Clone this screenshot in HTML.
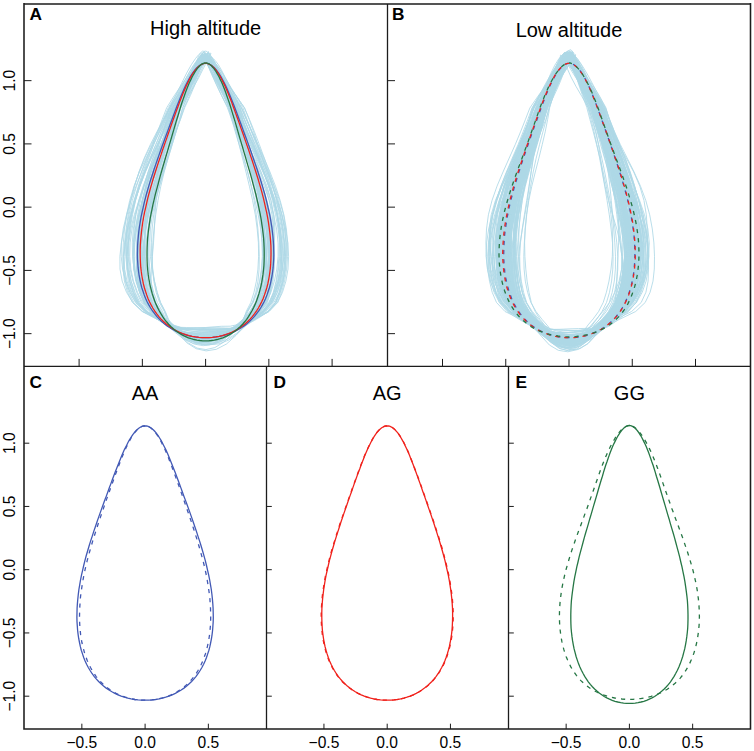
<!DOCTYPE html>
<html><head><meta charset="utf-8"><title>Outline shapes</title>
<style>html,body{margin:0;padding:0;background:#fff;width:754px;height:751px;overflow:hidden}svg{display:block}text{font-family:"Liberation Sans",sans-serif}</style>
</head><body>
<svg width="754" height="751" viewBox="0 0 754 751">
<rect width="754" height="751" fill="#fff"/>
<g fill="none" stroke="#add8e6" stroke-width="0.85" stroke-linejoin="round">
<path d="M202.6 53.9l-0.1 0.8-1.2 2.3-2.3 4.1-3.3 5.9-4.1 8-4.8 9.7-5.3 11.1-5.6 11.9-3.7 12-4.1 12.2-4.8 12.8-5.2 13.4-5.2 13.9-4.8 14.2-3.8 14.3-2.5 14.3-1.5 14.2-0.5 13.9 0.2 13.4 0.6 12.8 1.2 12 2 11.2 3.3 10.2 6.2 9 8.2 7.5 8.5 6 8.6 4.7 8.8 3.6 9.2 2.5 9.2 1.1 9.1-0.3 9.1-1.9 8.9-3.3 8.7-5.1 9-6.8 8.9-8 7-9 4-10.2 2.5-11.2 1.2-12 0.1-12.8-0.8-13.4-1.8-13.9-2.6-14.2-3.5-14.3-4.3-14.3-4.6-14.2-4.7-13.9-4.3-13.4-4-12.8-3.6-12.2-3.6-12-6.1-11.9-6.3-11.1-6-9.7-5.4-8-4.6-5.9-3.3-4.1-1.8-2.3-0.4-0.8z"/>
<path d="M202.6 57.8l-1.8 0.8-2.2 2.3-2.5 3.9-3.1 5.6-3.7 7.4-4.3 8.9-4.8 10.3-4.9 11.1-2.7 11.7-2.7 12.1-3.2 12.8-4 13.4-4.8 13.9-5.2 14.2-5.1 14.3-4.1 14.3-2.5 14.2-0.6 13.9 1.1 13.4 2.2 12.8 2.8 12 2.8 11.2 3 10.2 4.5 9 5.1 7.9 6.1 6.1 7.5 2.5 9.1 0.7 10.1 0.7 10.4 0.8 10.1 0.7 9.4 0.3 8.5-0.6 7.7-3.5 7.2-7.2 6.9-8.4 6.1-9 3.7-10.2 2.3-11.2 1-12 0.2-12.8-0.3-13.4-0.6-13.9-1-14.2-1.5-14.3-2.7-14.3-3.9-14.2-5.2-13.9-6.1-13.4-6-12.8-5.4-12.1-4.2-11.7-5.2-11.1-4.1-10.3-3.5-8.9-3.4-7.4-3.5-5.6-3.7-3.9-3.2-2.3-2.1-0.8z"/>
<path d="M208.7 52.6l-0.4 0.7-1.8 2.4-2.8 4.1-3.7 6.1-4.5 8.1-5 10-5.4 11.4-5.7 12.1-3.5 12.2-3.5 12.2-3.6 12.8-3.9 13.4-4.3 13.9-4.6 14.2-4.8 14.3-4.3 14.3-3.4 14.2-2.1 13.9-0.3 13.4 1.4 12.8 2.7 12 3.7 11.2 4.4 10.2 5.8 9 5.3 8.3 5.8 6.9 7.1 3.8 8.3 1.6 9.4 0.7 10 0.1 9.8-0.4 9.3-0.9 8.2-1.8 7.1-3.8 6-6.5 5.6-8 6.2-9 4.6-10.2 3.7-11.2 2.5-12 0.9-12.8-0.7-13.4-2-13.9-2.9-14.2-3.2-14.3-3.1-14.3-3-14.2-2.8-13.9-3.2-13.4-3.6-12.8-4.1-12.2-4.7-12.2-6.7-12.1-6.3-11.4-5-10-3.8-8.1-2.6-6.1-1.6-4.1-0.8-2.4-0.1-0.7z"/>
<path d="M206.4 56.6l-0.8 0.7-1.5 2.4-2.4 3.9-3.6 5.7-4.8 7.6-6.1 9.2-7.2 10.5-7.5 11.4-4.8 11.7-4.5 12.2-4.4 12.8-4.6 13.4-4.9 13.9-5.3 14.2-5.1 14.3-4.6 14.3-3.5 14.2-1.9 13.9-0.2 13.4 1.4 12.8 2.8 12 3.8 11.2 4.7 10.2 7.6 9 11 8.1 10 6.7 8.4 5.1 8.6 3.6 9.1 2.1 9.2 0.7 8.9-0.7 8.7-2.2 8.4-3.8 8.9-5.3 10.9-6.5 12.3-7.8 8.8-9 5.1-10.2 3.2-11.2 1.3-12-0.3-12.8-1.4-13.4-2-13.9-2.5-14.2-3.1-14.3-3.7-14.3-4.5-14.2-5.2-13.9-5.7-13.4-5.7-12.8-5.1-12.2-4.4-11.7-6.1-11.4-5.3-10.5-4.6-9.2-4.3-7.6-4.1-5.7-3.5-3.9-2.6-2.4-1.3-0.7z"/>
<path d="M205 56.8l-0.1 0.8-1.4 2.3-2.7 3.9-3.9 5.7-5 7.5-5.9 9.2-6.9 10.5-7.4 11.3-5 11.7-5.3 12.2-5.5 12.8-5.6 13.4-5.5 13.9-5.1 14.2-4.3 14.3-3.5 14.3-2.6 14.2-1.6 13.9-0.5 13.4 0.6 12.8 1.7 12 3.2 11.2 4.6 10.2 8.3 9 12.7 7.6 11.3 6.4 8.8 4.2 8.5 2.4 9.1 1.5 9.3 0.6 9.6-0.4 9.5-1.3 9.2-2.2 9.4-4.1 11.6-6.7 12.8-8 8-9 4.2-10.2 2.8-11.2 1.6-12 0.6-12.8-0.4-13.4-1.4-13.9-2.3-14.2-3.4-14.3-4.3-14.3-5-14.2-5.4-13.9-5.4-13.4-5.4-12.8-5.2-12.2-5.1-11.7-7.6-11.3-7.3-10.5-6.4-9.2-5.6-7.5-4.4-5.7-3.1-3.9-1.7-2.3-0.2-0.8z"/>
<path d="M200.9 56.4l-0.8 0.8-1.7 2.3-2.4 4-2.9 5.7-3.5 7.6-4.2 9.2-4.9 10.6-5.8 11.3-4.1 11.8-4.7 12.2-5.3 12.8-5.4 13.4-5.1 13.9-4.5 14.2-3.5 14.3-2.7 14.3-1.7 14.2-1.1 13.9-0.3 13.4 0.4 12.8 1.4 12 2.5 11.2 4 10.2 6.7 9 8.3 7.7 8.5 6.4 8.6 5.2 8.8 4 9 2.5 8.8 0.8 8.6-0.8 8.3-2.5 7.9-4.1 7.6-5.3 7.8-6.4 7.9-7.5 7-9 4.7-10.2 3.6-11.2 2.4-12 1.1-12.8-0.2-13.4-1.5-13.9-2.7-14.2-3.6-14.3-4.3-14.3-4.7-14.2-4.7-13.9-4.6-13.4-4.3-12.8-4-12.2-3.9-11.8-6-11.3-5.8-10.6-5.1-9.2-4.5-7.6-3.7-5.7-2.9-4-2-2.3-0.8-0.8z"/>
<path d="M205.6 54.2l-1 0.7-1.8 2.4-2.5 4-3.1 5.9-3.7 7.9-4.4 9.8-5 11-5.6 11.8-4 12-4.2 12.2-4.3 12.8-4.3 13.4-4.2 13.9-3.7 14.2-3.3 14.3-2.8 14.3-2.2 14.2-1.5 13.9-0.7 13.4 0.3 12.8 1.5 12 2.8 11.2 4.2 10.2 6.4 9 6.4 7.8 7.1 6.8 8 8.6 8.4 8.3 8.7 5.1 8.8 1.5 8.9-2 8.9-5.4 8.7-8.4 8.2-8.3 7.2-6.4 6.3-7.6 6.2-9 3.7-10.2 2.1-11.2 0.9-12-0.2-12.8-0.9-13.4-1.6-13.9-2-14.2-2.5-14.3-3.1-14.3-3.7-14.2-4.3-13.9-4.7-13.4-4.8-12.8-4.7-12.2-4.3-12-5.8-11.8-5-11-4-9.8-3.1-7.9-2.5-5.9-2-4-1.5-2.4-0.7-0.7z"/>
<path d="M204.9 54.1l-1.5 0.8-2.6 2.3-3.3 4.1-3.7 5.9-4 7.9-4.6 9.7-5.3 11.1-6.4 11.8-4.5 12-5.4 12.2-6 12.8-6.2 13.4-6 13.9-5.4 14.2-4.8 14.3-4.1 14.3-3.4 14.2-2.4 13.9-1.4 13.4 0.2 12.8 1.9 12 3.9 11.2 5.6 10.2 9.2 9 13 8.1 11.3 7 8.6 5.8 8.2 4.1 8.7 2.1 9.1 0.4 9.6-1.4 9.5-2.9 9.1-4.1 9-5.2 10.6-6.3 11.4-7.6 7.1-9 3.9-10.2 2.8-11.2 2-12 1.2-12.8 0.2-13.4-0.7-13.9-2-14.2-3-14.3-4.1-14.3-4.7-14.2-5.2-13.9-5.4-13.4-5.5-12.8-5.4-12.2-5.2-12-7.5-11.8-6.7-11.1-5.6-9.7-4.5-7.9-3.5-5.9-2.8-4.1-2-2.3-1.3-0.8z"/>
<path d="M204.9 54.6l-2 0.7-3.2 2.4-3.8 4-4.1 5.9-4.3 7.8-4.9 9.7-6 10.9-7.1 11.7-5.4 12-6.2 12.2-6.7 12.8-6.5 13.4-5.7 13.9-4.6 14.2-3.5 14.3-2.7 14.3-2.1 14.2-1.6 13.9-1.2 13.4-0.2 12.8 1.3 12 3.1 11.2 5.1 10.2 9.3 8.9 14.5 7.5 12.5 6.3 8.9 5.2 8.2 3.8 8.6 2.2 9 0.7 9.5-0.9 9.5-2.3 9.3-3.4 9.6-4.7 12.4-6.4 13.8-7.9 8.3-9 4.4-10.2 3.2-11.2 2-12 0.8-12.8-0.2-13.4-1.6-13.9-2.9-14.2-4.1-14.3-5-14.3-5.6-14.2-5.8-13.9-5.8-13.4-5.5-12.8-5.3-12.2-5-12-7.4-11.7-6.6-10.9-5.5-9.7-4.5-7.8-3.6-5.9-3-4-2.4-2.4-1.7-0.7z"/>
<path d="M207.4 54.5l-1.2 0.7-2.3 2.3-3.2 4.1-3.7 5.9-4 7.8-4.2 9.7-4.7 11-5.1 11.7-3.2 12-3.6 12.2-4.2 12.8-4.5 13.4-4.9 13.9-4.7 14.2-4.4 14.3-3.5 14.3-2.6 14.2-1.3 13.9-0.1 13.4 1.1 12.8 2.2 12 3 11.2 3.8 10.2 5.7 9 6.2 8 6.9 6.6 8 4.5 9.2 2.8 10 1.7 10.2 0.7 9.8-0.4 8.9-1.5 7.7-2.9 6.6-4.8 5.9-6.8 5.8-7.9 6.1-9 4.7-10.2 3.9-11.2 2.9-12 1.4-12.8-0.3-13.4-1.8-13.9-3-14.2-3.6-14.3-3.8-14.3-3.8-14.2-3.7-13.9-3.8-13.4-4-12.8-4.4-12.2-4.6-12-6.6-11.7-6.1-11-4.9-9.7-3.8-7.8-2.6-5.9-1.9-4.1-1.2-2.3-0.7-0.7z"/>
<path d="M206.2 55.8l-0.1 0.8-1.4 2.3-2.7 4-3.7 5.8-4.7 7.6-5.5 9.4-6.1 10.7-6.7 11.5-4.7 11.8-5 12.2-5.3 12.8-5.3 13.4-5 13.9-4.3 14.2-3.3 14.3-2.1 14.3-1.2 14.2-0.5 13.9 0.2 13.4 0.7 12.8 1.3 12 2.3 11.2 3.6 10.2 6.4 9 8.4 7.5 8.5 6 8.3 5.6 8.5 4.9 8.8 3.2 9.1 1.3 9.1-0.7 9.1-2.8 8.9-4.7 8.8-5.9 9.1-6.5 9-7.9 7-9 4-10.2 2.5-11.2 1.3-12 0.2-12.8-0.6-13.4-1.5-13.9-2.3-14.2-3.2-14.3-3.8-14.3-4.5-14.2-4.7-13.9-4.7-13.4-4.5-12.8-4.3-12.2-4.1-11.8-6.3-11.5-6-10.7-5.3-9.4-4.5-7.6-3.5-5.8-2.4-4-1.2-2.3-0.1-0.8z"/>
<path d="M207.5 53.3l-1.1 0.7-2.5 2.4-3.4 4-3.9 6-4.3 8.1-4.8 9.9-5.7 11.2-6.6 12-5 12.1-5.9 12.2-6.7 12.8-6.7 13.4-6.2 13.9-5.1 14.2-4 14.3-3.1 14.3-2.3 14.2-1.9 13.9-1.2 13.4-0.2 12.8 1.4 12 3.4 11.2 5.5 10.2 9.4 9 13.9 7.7 11.8 6.7 8.7 6.2 7.9 4.9 8.3 2.8 9 0.7 9.6-1.4 10-3.3 9.7-4.8 9.7-5.5 11.4-6.3 12-7.7 7-9 3.4-10.2 2.6-11.2 2.1-12 1.7-12.8 0.8-13.4-0.5-13.9-2.2-14.2-3.9-14.3-5.3-14.3-6-14.2-6.1-13.9-5.6-13.4-4.9-12.8-4.5-12.2-4.3-12.1-7-12-6.8-11.2-6.1-9.9-5.3-8.1-4.2-6-3-4-2-2.4-1-0.7z"/>
<path d="M202.7 51.1l-1.2 0.8-2.5 2.4-3.4 4.1-4.2 6.2-4.7 8.4-5.1 10.3-5.7 11.7-6.3 12.3-4.1 12.3-4.6 12.3-5.2 12.8-5.6 13.4-5.8 13.9-5.5 14.2-4.9 14.3-3.9 14.3-2.6 14.2-1.1 13.9 0.3 13.4 1.6 12.8 2.9 12 4 11.2 4.8 10.2 7.6 9 10.9 7.9 9.5 6.5 7.7 6.9 8 6.3 8.9 4 9.7 1.4 10-1.2 9.9-3.7 9.2-6.1 8.9-7 10.5-6.7 11.5-8.3 7.6-9 4.5-10.2 3.3-11.2 2.2-12 1.1-12.8 0-13.4-1.3-13.9-2.6-14.2-3.6-14.3-4.6-14.3-5.4-14.2-5.8-13.9-6.2-13.4-6.2-12.8-6-12.3-5.5-12.3-7.6-12.3-6.5-11.7-5.3-10.3-4-8.4-3.1-6.2-2.2-4.1-1.5-2.4-0.8-0.8z"/>
<path d="M205.4 56.2l-1.3 0.7-2.4 2.4-3.1 3.9-3.5 5.8-3.9 7.6-4.4 9.3-5 10.6-5.6 11.4-4 11.8-4.6 12.2-4.9 12.8-5.1 13.4-4.9 13.9-4.3 14.2-3.7 14.3-3 14.3-2.2 14.2-1.5 13.9-0.7 13.4 0.4 12.8 1.5 12 2.8 11.2 4.2 10.2 6.8 9 8.1 7.7 8.1 6.5 7.9 3 8.3 0.6 8.7 0.3 9.1 0 9.3-0.2 9.2-0.4 8.8-0.6 8.2-2.8 7.9-6.3 7.6-7.8 6.2-9 3.6-10.2 2.6-11.2 1.8-12 1-12.8 0.4-13.4-0.5-13.9-1.4-14.2-2.4-14.3-3.4-14.3-4.3-14.2-4.9-13.9-5.3-13.4-5.2-12.8-5.1-12.2-4.5-11.8-6.3-11.4-5.4-10.6-4.3-9.3-3.5-7.6-2.8-5.8-2.2-3.9-1.8-2.4-1.1-0.7z"/>
<path d="M206.5 54.5l0.9 0.7-0.4 2.4-2.4 4-4.3 5.9-5.8 7.9-6.4 9.6-6.2 11-5.6 11.7-2.6 12-2.8 12.2-3.7 12.8-4.9 13.4-5.7 13.9-5.8 14.2-4.8 14.3-3.1 14.3-1.3 14.2 0 13.9 0.6 13.4 0.7 12.8 0.9 12 1.5 11.2 3 10.2 6.4 9 8.9 7.6 9.6 5.9 9.5 3 9.1 1.3 8.3 1.3 7.7 0.7 7.5 0 7.9-0.9 8.7-1.7 9.4-3.6 9.9-6.3 9.3-7.3 6.9-9 3-10.2 1.2-11.2 0.3-12 0.3-12.8 0.6-13.4 0.6-13.9-0.3-14.2-2-14.3-4.1-14.3-5.9-14.2-6.8-13.9-6.4-13.4-5-12.8-3.4-12.2-2.2-12-4.3-11.7-4.8-11-5.5-9.6-5.8-7.9-5.3-5.9-3.9-4-1.7-2.4 0.5-0.7z"/>
<path d="M205.3 56.1l-1.1 0.8-1.8 2.3-2 4-2.4 5.7-2.9 7.6-3.7 9.4-4.9 10.6-6 11.4-4.6 11.8-4.9 12.2-4.7 12.8-4.2 13.4-3.6 13.9-3.1 14.2-2.8 14.3-2.5 14.3-2.3 14.2-1.8 13.9-0.8 13.4 0.5 12.8 1.9 12 3.2 11.2 4.3 10.2 5.9 9 4.7 7.8 5.3 6.7 6.8 6.9 7.9 5.8 9 3.4 9.7 1 10.1-1.4 9.9-3.5 9.1-5.7 7.7-6.4 5.7-6.5 4.5-8.1 5.1-9 3.4-10.2 2.7-11.2 1.7-12 0.6-12.8-0.5-13.4-1.5-13.9-2.3-14.2-2.8-14.3-3.1-14.3-3.3-14.2-3.4-13.9-3.8-13.4-4.2-12.8-4.4-12.2-4.4-11.8-6-11.4-5.3-10.6-4.2-9.4-3.2-7.6-2.4-5.7-2.1-4-1.6-2.3-1.1-0.8z"/>
<path d="M208.2 51.4l-0.1 0.8-1.1 2.3-2.3 4.2-3.5 6.1-4.5 8.4-5.2 10.2-5.4 11.7-5.3 12.3-3.1 12.2-3.1 12.3-3.4 12.8-4.1 13.4-4.6 13.9-4.6 14.2-4.3 14.3-3.2 14.3-2 14.2-0.7 13.9 0.4 13.4 1.1 12.8 1.6 12 2.1 11.2 3 10.2 4.9 9 4.3 7.9 6 6.3 8 6.9 8.9 6.5 9.2 4.3 9 1.7 8.8-1.2 8.5-4 8.3-6.7 7.7-7.5 6.3-6.5 5.1-7.7 5.9-9 3.7-10.2 2.3-11.2 1.2-12 0.3-12.8-0.3-13.4-0.8-13.9-1.5-14.2-2.4-14.3-3.3-14.3-4-14.2-4.5-13.9-4.4-13.4-3.9-12.8-3.3-12.3-2.7-12.2-4.4-12.3-4.4-11.7-4.1-10.2-4.1-8.4-3.5-6.1-2.7-4.2-1.6-2.3-0.2-0.8z"/>
<path d="M202.9 55.2l-0.6 0.7-1.6 2.3-2.3 4-2.7 5.9-3.3 7.7-3.9 9.6-4.8 10.8-5.6 11.6-3.9 11.9-4.4 12.2-4.6 12.8-4.8 13.4-4.6 13.9-4.3 14.2-4 14.3-3.4 14.3-2.8 14.2-1.9 13.9-0.8 13.4 0.5 12.8 1.9 12 3.3 11.2 4.6 10.2 6.6 9 6.9 8 7.2 7 7.7 2.9 8.4 0.1 9.1-0.2 9.6-0.3 9.8-0.2 9.5 0 8.8-0.2 7.9-2.6 7-6.5 6.4-8 5.9-9 3.8-10.2 3-11.2 1.9-12 0.9-12.8-0.3-13.4-1.5-13.9-2.5-14.2-3.3-14.3-3.9-14.3-4.1-14.2-4.4-13.9-4.4-13.4-4.6-12.8-4.5-12.2-4.6-11.9-6.5-11.6-5.9-10.8-4.8-9.6-4-7.7-2.9-5.9-2.2-4-1.4-2.3-0.6-0.7z"/>
<path d="M205.3 53.6l-1.4 0.7-2.4 2.4-3 4-3.6 6-4.4 8-5.5 9.8-7 11.2-8.3 11.9-6.2 12.1-6.7 12.2-6.5 12.8-6.1 13.4-5.2 13.9-4.5 14.2-3.9 14.3-3.5 14.3-3.1 14.2-2.6 13.9-1.5 13.4 0.1 12.8 2.2 12 4.3 11.2 6.2 10.2 10.1 9 15.2 7.7 12.3 6.9 8.2 5.7 7.4 3.9 8 2.1 8.8 0.3 9.6-1.4 10-2.6 9.6-3.8 10-4.8 12.8-6.1 14.3-7.9 8.3-9 4.3-10.2 3-11.2 2-12 1-12.8 0-13.4-1.2-13.9-2.5-14.2-3.7-14.3-4.7-14.3-5.5-14.2-5.9-13.9-6.1-13.4-5.9-12.8-5.6-12.2-5.2-12.1-7.6-11.9-6.8-11.2-5.7-9.8-4.8-8-4-6-3.2-4-2.5-2.4-1.4-0.7z"/>
<path d="M205.7 55l-0.9 0.8-2.5 2.3-3.6 4-4.3 5.9-4.8 7.8-5.3 9.5-6.2 10.9-7.1 11.6-5.2 11.9-6.1 12.2-6.8 12.8-6.9 13.4-6.5 13.9-5.5 14.2-4.3 14.3-3.1 14.3-2.1 14.2-1.2 13.9-0.4 13.4 0.5 12.8 1.9 12 3.4 11.2 5.1 10.2 8.8 9 14.1 7.5 11.8 6.3 8.2 4.2 7.6 2.8 8.3 1.6 9 0.6 9.7-0.5 10-1.5 9.8-2.4 10.2-4 13-6.5 14.6-8.1 8.8-9 4.8-10.2 3.4-11.2 2.1-12 0.6-12.8-0.7-13.4-2.3-13.9-3.7-14.2-4.6-14.3-5.1-14.3-5.2-14.2-4.8-13.9-4.4-13.4-4.2-12.8-4.4-12.2-4.7-11.9-8-11.6-7.8-10.9-7-9.5-5.9-7.8-4.4-5.9-3.1-4-1.8-2.3-0.8-0.8z"/>
<path d="M207.5 54l-0.4 0.8-2.3 2.3-4.1 4-5.5 6-6.5 7.9-7.1 9.8-7.5 11.1-7.4 11.8-4.6 12-4.6 12.2-4.9 12.8-5.4 13.4-5.6 13.9-5.6 14.2-5.2 14.3-4.3 14.3-3.3 14.2-1.8 13.9-0.2 13.4 1.4 12.8 3 12 4.5 11.2 5.9 10.2 9.2 9 14.2 8 11.8 6.6 8.3 5.8 7.8 4.5 8.6 2.6 9.2 0.6 9.6-1.1 9.6-3 9.1-4.6 9.2-5.5 12-6.2 13.5-7.7 7.9-9 4.2-10.2 3-11.2 1.9-12 1-12.8-0.2-13.4-1.3-13.9-2.6-14.2-3.6-14.3-4.4-14.3-4.8-14.2-4.9-13.9-4.9-13.4-4.9-12.8-4.9-12.2-5.2-12-8.2-11.8-8-11.1-7-9.8-5.7-7.9-4.2-6-2.6-4-1.2-2.3 0-0.8z"/>
<path d="M202 55l-1 0.8-1.9 2.3-2.5 4-3 5.9-3.7 7.7-4.6 9.6-5.6 10.8-6.5 11.7-4.7 11.9-5.3 12.2-5.4 12.8-5.1 13.4-4.7 13.9-4.1 14.2-3.4 14.3-2.8 14.3-2.3 14.2-1.6 13.9-0.7 13.4 0.6 12.8 2.1 12 3.8 11.2 5.2 10.2 8 9 9.8 7.8 8.6 6.7 7.4 5.3 7.5 3.6 8.4 2 9.3 0.4 10.2-1.1 10.4-2.4 9.9-3.4 9-4.6 8.6-6.3 7.9-8 5.1-9 2.3-10.2 1.9-11.2 1.9-12 1.9-12.8 1.5-13.4 0.5-13.9-1-14.2-3.1-14.3-4.8-14.3-6.1-14.2-6.6-13.9-6.4-13.4-5.6-12.8-4.7-12.2-3.9-11.9-5.8-11.7-5.2-10.8-4.7-9.6-4.3-7.7-3.8-5.9-3.2-4-2.4-2.3-1.3-0.8z"/>
<path d="M207.1 55.7l-0.6 0.7-1.6 2.3-2.5 4-3.3 5.8-4.1 7.7-4.9 9.4-5.5 10.7-5.9 11.5-3.9 11.9-4.2 12.2-4.5 12.8-5.1 13.4-5.5 13.9-5.5 14.2-5 14.3-4.1 14.3-2.6 14.2-1.1 13.9 0.4 13.4 1.6 12.8 2.4 12 3.1 11.2 3.8 10.2 6 9.1 7.1 8.3 7.7 6.7 8.6 5.9 9.3 4.7 9.7 2.9 9.5 1.2 9-0.9 8.4-3 8-5.1 7.9-6.4 7.9-6.7 8.2-7.7 7.3-9 4.6-10.2 2.7-11.2 0.9-12-0.5-12.8-1.6-13.4-1.9-13.9-2.1-14.2-2.3-14.3-2.6-14.3-3.4-14.2-4.4-13.9-5.3-13.4-5.8-12.8-5.7-12.2-5.1-11.9-6.3-11.5-5.1-10.7-3.7-9.4-2.8-7.7-2.2-5.8-1.7-4-1.2-2.3-0.5-0.7z"/>
<path d="M204.6 55.2l0.1 0.7-1.5 2.3-2.9 4-3.9 5.9-4.8 7.7-5.4 9.6-5.9 10.8-6 11.6-3.9 11.9-3.9 12.2-4 12.8-4.2 13.4-4.1 13.9-4 14.2-3.7 14.3-3.2 14.3-2.6 14.2-1.8 13.9-0.9 13.4 0.4 12.8 1.7 12 3.2 11.2 4.7 10.2 7.2 9 8.3 7.7 8.1 6.7 7.7 4.9 7.8 3.2 8.2 1.8 8.6 0.4 8.9-0.9 9-2 9-3.1 8.8-4.5 8.8-6.3 8.7-7.9 7.2-9 4.6-10.2 3-11.2 1.7-12 0.4-12.8-0.8-13.4-1.9-13.9-2.8-14.2-3.5-14.3-4-14.3-4.2-14.2-4.4-13.9-4.5-13.4-4.7-12.8-4.8-12.2-5-11.9-7.2-11.6-6.8-10.8-5.6-9.6-4.4-7.7-2.9-5.9-1.7-4-0.5-2.3 0.3-0.7z"/>
<path d="M202.5 53l-0.2 0.8-1.5 2.3-2.6 4.1-3.6 6.1-4.3 8-4.8 10-5.1 11.3-5.1 12-2.9 12.1-3 12.2-3.5 12.8-3.9 13.4-4.4 13.9-4.5 14.2-4.1 14.3-3.4 14.3-2.4 14.2-1.3 13.9-0.2 13.4 0.7 12.8 1.6 12 2.5 11.2 3.6 10.2 5.5 9 5.5 7.8 6.4 6.4 7.6 5.8 8.3 4.7 8.8 3 8.9 1.1 9.1-0.8 9.1-2.8 9-4.6 8.6-5.8 7.4-6.7 6.6-8.1 6.3-9 3.9-10.2 2.4-11.2 1.2-12 0.3-12.8-0.4-13.4-1-13.9-1.6-14.2-2.5-14.3-3.4-14.3-4.2-14.2-5-13.9-5.2-13.4-5.2-12.8-4.8-12.2-4.3-12.1-5.8-12-5.2-11.3-4.4-10-3.5-8-2.8-6.1-2-4.1-1-2.3-0.2-0.8z"/>
<path d="M202.7 56.7l-0.5 0.7-1.4 2.3-2.5 4-3.5 5.7-4.8 7.5-5.9 9.2-7.1 10.5-7.7 11.4-5.3 11.7-5.2 12.2-5.1 12.8-5 13.4-4.8 13.9-4.7 14.2-4.5 14.3-4 14.3-3.4 14.2-2.3 13.9-1 13.4 0.6 12.8 2.4 12 4.1 11.2 5.7 10.2 9 9 12.6 8 10.8 6.8 8.3 7 7.8 5.7 8.3 3.3 8.6 0.8 9.1-1.6 9.2-3.8 9-5.9 9.2-6.4 11.4-6.2 12.4-7.7 8.2-9 4.5-10.2 3.1-11.2 1.7-12 0.7-12.8-0.3-13.4-1.3-13.9-2.3-14.2-3.2-14.3-4.3-14.3-5.1-14.2-5.7-13.9-5.8-13.4-5.8-12.8-5.4-12.2-4.9-11.7-7.1-11.4-6.5-10.5-5.7-9.2-4.8-7.5-4.1-5.7-3.1-4-2-2.3-0.6-0.7z"/>
<path d="M209.4 56.2l-1.2 0.8-2.6 2.3-3.3 3.9-3.8 5.8-3.8 7.6-4 9.3-4.6 10.6-5.3 11.4-4 11.8-4.9 12.2-5.5 12.8-5.5 13.4-5.1 13.9-4.1 14.2-3.1 14.3-2.3 14.3-1.5 14.2-1 13.9-0.4 13.4 0.3 12.8 1.4 12 2.6 11.2 4.1 10.2 6.3 9 6.6 7.7 6.9 6.4 7.3 6.4 8 5.6 8.5 3.4 9.1 1 9.6-1.3 9.7-3.4 9.2-5.3 8.3-6.2 7.2-6.4 6.2-7.9 5.8-9 3.6-10.2 2.8-11.2 2-12 1.1-12.8 0-13.4-1.2-13.9-2.4-14.2-3.4-14.3-4-14.3-4.2-14.2-4.2-13.9-4.2-13.4-4.1-12.8-4.2-12.2-4.2-11.8-6.3-11.4-5.7-10.6-4.5-9.3-3.2-7.6-2.2-5.8-1.3-3.9-0.8-2.3-0.5-0.8z"/>
<path d="M206.3 54.5l-0.7 0.8-2.1 2.3-3.1 4-3.9 6-4.5 7.8-4.9 9.6-5.2 11-5.4 11.7-3.2 12-3.2 12.2-3.4 12.8-3.6 13.4-3.7 13.9-3.8 14.2-3.7 14.3-3.4 14.3-2.8 14.2-2.1 13.9-0.9 13.4 0.3 12.8 1.6 12 2.8 11.2 4 10.2 6.1 9 5.8 7.8 6.6 6.7 7.7 3 8.6 0.4 9.2 0 9.5-0.1 9.4-0.1 9.1-0.2 8.4-0.4 7.7-2.8 6.5-6.5 5.8-7.8 6.1-9 4.1-10.2 2.8-11.2 1.5-12 0-12.8-1.3-13.4-2.4-13.9-2.9-14.2-3.1-14.3-3-14.3-2.7-14.2-2.7-13.9-2.7-13.4-3.1-12.8-3.6-12.2-4-12-6.4-11.7-6.1-11-5.3-9.6-4.1-7.8-3-6-2-4-1.1-2.3-0.5-0.8z"/>
<path d="M200.5 53.7l-0.9 0.8-1.3 2.3-1.5 4.1-1.7 5.9-2.2 8-3.4 9.8-5 11.2-6.5 11.8-5.4 12.1-5.7 12.2-5.3 12.8-4.4 13.4-3.5 13.9-2.7 14.2-2.5 14.3-2.7 14.3-2.9 14.2-2.9 13.9-1.9 13.4-0.2 12.8 2 12 4.3 11.2 5.9 10.2 7.9 9 7.2 7.9 6.6 7.3 6.5 4.5 6.8 1.8 7.7 0.4 8.7-0.7 9.6-1.2 9.9-1.6 9.4-1.6 8.2-3.1 6.6-5.9 5.5-7.8 5.1-9 3.5-10.2 2.9-11.2 2.6-12 1.8-12.8 0.8-13.4-0.7-13.9-2-14.2-3.3-14.3-4.2-14.3-4.7-14.2-5-13.9-5-13.4-5-12.8-4.8-12.2-4.7-12.1-6.3-11.8-5.4-11.2-4.5-9.8-3.4-8-2.8-5.9-2.3-4.1-1.8-2.3-1-0.8z"/>
<path d="M210.7 53.1l0.2 0.8-1.4 2.3-2.8 4.1-3.5 6-3.9 8.1-4.2 9.9-4.8 11.3-5.6 12-4.3 12.1-5.1 12.2-5.4 12.8-5.1 13.4-4.2 13.9-2.9 14.2-1.7 14.3-1 14.3-0.6 14.2-0.9 13.9-1.1 13.4-1 12.8-0.4 12 1 11.2 2.6 10.2 5.3 8.9 5 7.2 6.5 6.1 8.4 6.8 9.2 6.3 9.7 4.1 10 1.6 9.9-1 9.5-3.6 8.7-5.8 7.3-6.8 4.9-6.9 3.6-7.9 4.5-9 3.2-10.2 2.7-11.2 2.3-12 1.4-12.8 0.4-13.4-1-13.9-2.3-14.2-3.2-14.3-3.6-14.3-3.5-14.2-3.3-13.9-3.1-13.4-3.3-12.8-3.9-12.2-4.7-12.1-7.1-12-6.9-11.3-5.6-9.9-4-8.1-2-6-0.5-4.1 0.5-2.3 1.1-0.8z"/>
<path d="M204.1 56l-0.6 0.8-1.8 2.3-2.7 4-3.5 5.7-4.2 7.7-4.8 9.3-5.3 10.6-5.7 11.5-3.7 11.8-4 12.2-4.5 12.8-4.9 13.4-5.1 13.9-4.7 14.2-3.8 14.3-2.7 14.3-1.4 14.2-0.3 13.9 0.6 13.4 1.1 12.8 1.4 12 1.7 11.2 2.6 10.2 5.1 9 6.5 7.6 7.8 6 9.1 2.1 10.1 0.3 10.3 0.5 9.9 0.7 9.1 0.7 8.2 0.4 7.4-0.2 7.1-3.2 7.2-7.1 7.7-7.8 7.2-9 4.8-10.2 3.2-11.2 1.5-12-0.2-12.8-1.4-13.4-2.2-13.9-2.4-14.2-2.5-14.3-2.7-14.3-3.2-14.2-3.8-13.9-4.5-13.4-5-12.8-5.4-12.2-5.2-11.8-7-11.5-6-10.6-4.7-9.3-3.7-7.7-2.6-5.7-1.9-4-1.2-2.3-0.3-0.8z"/>
<path d="M205.1 56.3l-0.6 0.8-1.9 2.3-2.9 3.9-3.8 5.8-4.5 7.6-5.2 9.2-5.8 10.6-6.2 11.4-4.1 11.8-4.2 12.2-4.3 12.8-4.4 13.4-4.5 13.9-4.3 14.2-3.9 14.3-3.3 14.3-2.5 14.2-1.5 13.9-0.5 13.4 0.7 12.8 2 12 3 11.2 4.3 10.2 6.7 9 8.1 7.8 8 6.6 8 6 8.6 5 9.2 3 9.5 1 9.5-1.1 9.2-3 8.6-4.9 7.9-6 7.9-6.5 7.7-7.9 6.4-9 3.9-10.2 2.9-11.2 1.9-12 0.9-12.8-0.1-13.4-1-13.9-2-14.2-2.8-14.3-3.7-14.3-4.4-14.2-4.8-13.9-5.1-13.4-5.1-12.8-5-12.2-4.8-11.8-6.6-11.4-5.8-10.6-4.8-9.2-3.8-7.6-2.9-5.8-2.1-3.9-1.2-2.3-0.5-0.8z"/>
<path d="M206 54.3l-0.9 0.8-1.8 2.3-2.3 4-2.8 6-3 7.8-3.5 9.7-4.1 11-4.6 11.8-3.2 12-3.7 12.2-4 12.8-4.1 13.4-3.8 13.9-3.4 14.2-2.8 14.3-2.3 14.3-1.7 14.2-1.2 13.9-0.5 13.4 0.3 12.8 1.2 12 2.3 11.2 3.4 10.2 4.8 9 2.5 7.7 4.2 6.5 7 5.5 8.3 4.1 8.8 2.5 9.2 0.7 9.4-0.8 9.3-2.5 8.9-4.1 7.5-5.2 4.4-6.5 2.4-7.9 4.6-9 3.2-10.2 2.4-11.2 1.5-12 0.7-12.8-0.2-13.4-1.2-13.9-1.9-14.2-2.7-14.3-3.2-14.3-3.4-14.2-3.5-13.9-3.4-13.4-3.3-12.8-3.3-12.2-3.3-12-4.9-11.8-4.6-11-3.9-9.7-3.2-7.8-2.5-6-2-4-1.3-2.3-0.8-0.8z"/>
<path d="M205.2 53.6l0 0.8-1.2 2.3-2.2 4.1-3.4 6-4.3 8-4.9 9.8-5.1 11.2-5.1 11.8-3.1 12.1-3.1 12.2-3.5 12.8-4 13.4-4.3 13.9-4.3 14.2-3.6 14.3-2.7 14.3-1.4 14.2-0.4 13.9 0.4 13.4 0.8 12.8 1.1 12 1.5 11.2 2.3 10.2 4.1 9 3.1 7.7 5.4 6 8.1 5.3 9.5 4.4 9.7 3 9.6 1.5 9.2-0.4 8.7-2.4 8.2-4.4 7.3-6 5.4-6.9 3.9-7.8 5.4-9 3.5-10.2 2.2-11.2 1.1-12 0.2-12.8-0.4-13.4-1-13.9-1.6-14.2-2.2-14.3-3-14.3-3.6-14.2-4.1-13.9-4.2-13.4-3.9-12.8-3.5-12.2-3.1-12.1-4.7-11.8-4.4-11.2-4.1-9.8-3.6-8-3.1-6-2.2-4.1-1.2-2.3-0.2-0.8z"/>
<path d="M210.2 58.9l-1.2 0.8-2.8 2.3-4 3.9-4.5 5.5-4.5 7.2-4.5 8.7-4.7 10-5 10.9-3.5 11.6-4.4 12.1-5.3 12.8-5.8 13.4-5.8 13.9-5.1 14.2-4.2 14.3-3.2 14.3-2.1 14.2-1.2 13.9-0.2 13.4 0.8 12.8 2.1 12 3.4 11.2 4.9 10.2 7.2 9 8.2 8.1 7.8 6.7 7.2 5.8 7.6 4.3 8.2 2.5 9 0.6 9.8-1.3 10.2-2.9 9.9-4.3 9.1-5.3 8.4-6.3 7.4-7.9 5.7-9 3-10.2 2.1-11.2 1.6-12 1.1-12.8 0.3-13.4-0.7-13.9-2.1-14.2-3.4-14.3-4.4-14.3-5.1-14.2-5.2-13.9-5-13.4-4.6-12.8-4.4-12.1-4.2-11.6-6.2-10.9-5.7-10-4.5-8.7-3.3-7.2-2.1-5.5-1.2-3.9-0.6-2.3-0.3-0.8z"/>
<path d="M201.9 52.7l-0.2 0.8-1.2 2.3-2.4 4.1-3.6 6.1-4.7 8.1-5.8 10-6.4 11.4-6.7 12-4.2 12.2-3.9 12.2-3.9 12.8-3.9 13.4-4.2 13.9-4.2 14.2-4.3 14.3-3.9 14.3-3.1 14.2-1.9 13.9-0.5 13.4 1 12.8 2.4 12 3.6 11.2 4.5 10.2 6.8 9 8.3 7.9 7.9 6.7 7.6 4 8.3 2.1 9.3 1 10 0.3 10.2-0.3 9.8-1.1 8.9-1.9 7.9-3.9 7.8-6.7 7.8-8.1 6-9 3.9-10.2 3.2-11.2 2.5-12 1.7-12.8 0.5-13.4-1-13.9-2.6-14.2-4-14.3-5-14.3-5.5-14.2-5.4-13.9-4.9-13.4-4.2-12.8-3.6-12.2-3.3-12.2-5.7-12-5.6-11.4-5.4-10-4.9-8.1-4.2-6.1-3.2-4.1-1.9-2.3-0.5-0.8z"/>
<path d="M207.1 56l0.7 0.8-1.1 2.3-2.9 3.9-4.3 5.8-5.2 7.7-5.7 9.3-5.7 10.6-5.7 11.5-3.4 11.8-3.7 12.2-4 12.8-4.4 13.4-4.2 13.9-3.8 14.2-3.2 14.3-2.6 14.3-2.2 14.2-1.8 13.9-1.5 13.4-0.8 12.8 0.5 12 2.4 11.2 4.7 10.2 8 9 8.7 7.6 8.9 6.7 8.5 2.7 7.8 0 7.3-0.4 7.1-0.6 7.5-0.6 8.2-0.6 9-0.1 9.2-1.9 8.7-5.7 7.9-7.1 6.6-9 3.6-10.2 2-11.2 0.8-12 0.1-12.8-0.5-13.4-1.3-13.9-2-14.2-3-14.3-3.7-14.3-4-14.2-3.9-13.9-3.6-13.4-3.3-12.8-3.2-12.2-3.6-11.8-6.3-11.5-6.7-10.6-6.3-9.3-5.4-7.7-3.8-5.8-2-3.9-0.4-2.3 1-0.8z"/>
<path d="M203.7 55.4l-0.3 0.8-1.4 2.3-2.5 4-3.5 5.8-4.6 7.7-5.7 9.5-6.5 10.8-7.2 11.5-4.6 11.9-4.7 12.2-4.7 12.8-4.8 13.4-4.8 13.9-4.7 14.2-4.6 14.3-4 14.3-3.1 14.2-1.9 13.9-0.4 13.4 1.2 12.8 2.6 12 4 11.2 5.1 10.2 7.9 9 10.9 7.9 9.7 6.7 7.9 5.1 8.1 3.5 9 1.9 9.8 0.6 9.9-0.7 9.8-2 8.9-3.3 8.7-4.9 10.1-6.6 11-8.2 7.5-9 4.5-10.2 3.5-11.2 2.4-12 1.2-12.8-0.2-13.4-1.6-13.9-2.9-14.2-4.2-14.3-5.1-14.3-5.6-14.2-5.7-13.9-5.5-13.4-5.1-12.8-4.8-12.2-4.6-11.9-6.9-11.5-6.5-10.8-5.9-9.5-5.1-7.7-4.2-5.8-3.2-4-2-2.3-0.6-0.8z"/>
<path d="M206.2 53.9l0 0.7-0.9 2.4-1.9 4-2.8 6-3.9 7.9-4.8 9.8-5.4 11.1-5.8 11.8-3.8 12.1-3.7 12.2-4 12.8-4.1 13.4-4.4 13.9-4.4 14.2-4.2 14.3-3.5 14.3-2.6 14.2-1.4 13.9 0 13.4 1 12.8 2.1 12 2.9 11.2 3.6 10.2 5.3 9 5 8 5.8 6.6 7.4 4.1 8.5 2.2 9.5 1.4 10 0.6 10.1-0.2 9.6-1.1 8.9-2.2 7.8-4.3 6.5-6.9 5.6-8.2 5.9-9 4.1-10.2 3-11.2 2.1-12 0.9-12.8-0.4-13.4-1.5-13.9-2.7-14.2-3.7-14.3-4.3-14.3-4.6-14.2-4.6-13.9-4.3-13.4-4-12.8-3.5-12.2-3.3-12.1-5.3-11.8-5.1-11.1-4.7-9.8-4.2-7.9-3.5-6-2.6-4-1.5-2.4-0.2-0.7z"/>
<path d="M201.3 54.3l0.6 0.8 0.3 2.3-0.3 4.1-1.6 5.9-3.2 7.9-5 9.6-6.4 11.1-7.1 11.7-4.8 12-4.5 12.2-4 12.8-3.7 13.4-3.6 13.9-3.7 14.2-3.4 14.3-3.1 14.3-2.1 14.2-1 13.9 0.2 13.4 1.5 12.8 2.4 12 3 11.2 3.6 10.2 5.1 9 4.6 7.8 5.3 6.3 6.8 4.3 8 2.7 9 1.7 9.6 0.8 9.9-0.2 9.9-1.3 9.5-2.5 8.6-4.4 7.3-6.8 6-8.3 5.7-9.1 3.2-10.2 1.7-11.2 0.6-12 0-12.8-0.5-13.4-0.9-13.9-1.3-14.2-2-14.3-3.1-14.3-4-14.2-4.7-13.9-5.1-13.4-4.9-12.8-4.2-12.2-3.6-12-5.2-11.7-4.8-11.1-4.7-9.6-4.7-7.9-4.5-5.9-3.8-4.1-2.4-2.3-0.5-0.8z"/>
<path d="M205.4 57l-0.1 0.8-1.3 2.3-2.6 3.9-3.5 5.7-4.2 7.5-4.6 9.1-4.8 10.4-4.7 11.3-2.7 11.7-2.8 12.2-3.1 12.8-3.6 13.4-4.1 13.9-4.2 14.2-4.2 14.3-3.5 14.3-2.5 14.2-1.4 13.9 0 13.4 1.1 12.8 2.2 12 2.9 11.2 3.7 10.2 5.1 9 3.3 8.1 4.7 6.7 7.1 5.9 8.4 4.8 9 2.9 9.5 0.9 9.5-1 9.1-2.9 8.6-4.8 7.3-6 5.1-6.6 3.8-8 5.3-9 3.9-10.2 2.9-11.2 1.9-12 0.8-12.8-0.5-13.4-1.5-13.9-2.5-14.2-3.2-14.3-3.6-14.3-3.7-14.2-3.7-13.9-3.6-13.4-3.6-12.8-3.6-12.2-3.8-11.7-5.7-11.3-5.4-10.4-4.6-9.1-3.7-7.5-2.7-5.7-1.6-3.9-0.6-2.3 0.3-0.8z"/>
<path d="M210.9 57.3l-1.3 0.7-1.9 2.3-2.2 4-2.9 5.6-3.7 7.5-5 9-6.5 10.4-7.7 11.2-6 11.7-6.2 12.2-6.1 12.8-5.7 13.4-5.1 13.9-4.4 14.2-3.8 14.3-3.3 14.3-2.5 14.2-1.7 13.9-0.7 13.4 0.7 12.8 2.2 12 3.5 11.2 4.9 10.2 7.8 9 10.9 7.8 9.8 6.5 8.1 3.7 8.1 1.6 8.6 0.9 9 0.1 9-0.4 8.9-0.9 8.6-1.6 8.8-3.5 10.7-6.4 11.7-7.8 8.5-9 5.3-10.2 3.6-11.2 1.9-12 0.4-12.8-0.9-13.4-1.9-13.9-2.7-14.2-3.2-14.3-3.8-14.3-4.4-14.2-5-13.9-5.5-13.4-5.6-12.8-5.4-12.2-4.9-11.7-6.6-11.2-5.6-10.4-4.5-9-3.8-7.5-3.3-5.6-3.1-4-2.5-2.3-1.6-0.7z"/>
<path d="M208.2 53.3l-0.4 0.7-1.8 2.3-3 4.1-3.9 6-4.9 8.1-5.6 9.9-6.3 11.2-6.7 12-4.6 12.1-4.7 12.2-4.9 12.8-5.1 13.4-5 13.9-4.7 14.2-4.2 14.3-3.5 14.3-2.7 14.2-1.7 13.9-0.6 13.4 0.6 12.8 1.9 12 3.3 11.2 4.6 10.2 7.5 9 10.4 7.7 9.4 6.6 8.1 2.4 8.3-0.2 9-0.3 9.5-0.1 9.6 0.1 9.6 0.3 9 0.4 8.7-2.2 9.9-6.7 10.4-8 7.4-9 4.5-10.2 3.3-11.2 2.2-12 0.9-12.8-0.3-13.4-1.6-13.9-2.9-14.2-3.9-14.3-4.5-14.3-5-14.2-4.9-13.9-4.9-13.4-4.7-12.8-4.6-12.2-4.6-12.1-7.1-12-6.6-11.2-5.8-9.9-4.7-8.1-3.6-6-2.5-4.1-1.3-2.3-0.3-0.7z"/>
<path d="M205.8 51l-1.4 0.7-2.4 2.4-3.4 4.1-4.2 6.3-5.2 8.3-6.1 10.4-7 11.8-7.7 12.3-5.3 12.3-5.5 12.3-5.5 12.8-5.5 13.4-5.2 13.9-4.9 14.2-4.2 14.3-3.3 14.3-2.3 14.2-1.2 13.9 0.2 13.4 1.4 12.8 2.6 12 3.7 11.2 4.9 10.2 8.1 9 12.4 7.8 10.8 6.4 8.6 4.9 8.5 3.6 9.1 2.2 9.4 0.8 9.4-0.7 9-2.1 8.5-3.6 8.6-5.1 11.1-6.4 12.6-7.8 8.3-9 4.8-10.2 3.3-11.2 1.8-12 0.5-12.8-0.9-13.4-1.9-13.9-2.9-14.2-3.8-14.3-4.5-14.3-5.1-14.2-5.5-13.9-5.6-13.4-5.6-12.8-5.2-12.3-4.6-12.3-6.7-12.3-5.9-11.8-4.9-10.4-4.2-8.3-3.5-6.3-3-4.1-2.2-2.4-1.3-0.7z"/>
<path d="M207.1 54.5l-0.7 0.8-1.3 2.3-1.8 4-2.5 5.9-3.1 7.9-3.8 9.6-4.7 11-5.2 11.7-3.8 12-4.2 12.2-4.4 12.8-4.4 13.4-4.2 13.9-3.8 14.2-3.1 14.3-2.4 14.3-1.6 14.2-0.7 13.9 0.2 13.4 1.1 12.8 1.8 12 2.6 11.2 3.3 10.2 4.6 9 2.8 7.6 4.2 6.1 6.4 7.4 7.6 7.1 8.3 4.4 8.8 1.6 9-1.4 9-4.3 8.7-6.9 7.7-7.3 5.5-6.3 4.1-8 5.6-9 3.9-10.2 3-11.2 1.8-12 0.9-12.8-0.2-13.4-1-13.9-1.7-14.2-2.4-14.3-2.7-14.3-3-14.2-3.2-13.9-3.3-13.4-3.4-12.8-3.4-12.2-3.4-12-5.3-11.7-5.1-11-4.6-9.6-4-7.9-3.3-5.9-2.7-4-1.7-2.3-0.8-0.8z"/>
<path d="M203.3 54.9l-0.1 0.7-1.4 2.4-2.6 4-3.6 5.9-4.2 7.8-4.8 9.5-5.2 10.9-5.7 11.7-3.9 11.9-4.8 12.2-5.4 12.8-5.7 13.4-5.4 13.9-4.5 14.2-3.2 14.3-2 14.3-1 14.2-0.6 13.9-0.3 13.4-0.1 12.8 0.5 12 1.7 11.2 3.4 10.2 6.7 9 8.7 7.4 9.1 6.1 8.9 6.1 8.9 5.5 9.1 3.6 9 1.4 9.1-1 9-3.2 8.8-5.3 8.3-6.3 8.1-6.6 7.7-7.7 6.1-9 3.7-10.2 2.9-11.2 2.3-12 1.7-12.8 0.7-13.4-0.6-13.9-2.3-14.2-4-14.3-5.4-14.3-6-14.2-5.8-13.9-5.1-13.4-4-12.8-3.3-12.2-3-11.9-5.5-11.7-5.8-10.9-5.7-9.5-5.1-7.8-4.1-5.9-2.8-4-1.4-2.4 0-0.7z"/>
<path d="M205.8 53.4l0.1 0.7-0.6 2.4-1.7 4.1-2.8 6-4.2 8-5.6 9.9-6.8 11.2-7.4 11.9-5.2 12.1-5.3 12.2-5.4 12.8-5.6 13.4-5.6 13.9-5.4 14.2-4.7 14.3-3.8 14.3-2.5 14.2-1 13.9 0.3 13.4 1.4 12.8 2.5 12 3.3 11.2 4.3 10.2 7 9 10.3 8.1 9.6 6.5 8.5 6.8 9.1 6.3 10 4.1 10.3 1.5 10.2-1 9.6-3.7 8.4-6.3 7.9-7.3 9.1-7 9.9-8 7-9 4.5-10.2 3.7-11.2 2.9-12 2-12.8 0.5-13.4-1.2-13.9-3-14.2-4.8-14.3-6.1-14.3-6.6-14.2-6.5-13.9-5.7-13.4-4.5-12.8-3.5-12.2-2.9-12.1-5.3-11.9-5.5-11.2-5.5-9.9-5.5-8-5-6-4-4.1-2.6-2.4-0.6-0.7z"/>
<path d="M208.2 55.8l-0.6 0.8-1.5 2.3-2.3 4-3 5.8-3.8 7.6-4.4 9.4-5 10.7-5.1 11.5-3.3 11.8-3.4 12.2-3.6 12.8-4 13.4-4.3 13.9-4.4 14.2-4 14.3-3.2 14.3-1.9 14.2-0.6 13.9 0.6 13.4 1.7 12.8 2.3 12 2.8 11.2 3.4 10.2 4.7 9 3.3 8 5 6.4 7.3 3.3 8.8 1.6 9.3 0.9 9.5 0.5 9.2-0.1 8.7-0.9 7.9-1.7 6.9-3.8 4.9-6.5 3.8-7.7 5.2-9 3.6-10.2 2.5-11.2 1.6-12 0.6-12.8-0.2-13.4-0.8-13.9-1.4-14.2-2-14.3-2.6-14.3-3.3-14.2-3.8-13.9-4.2-13.4-4.3-12.8-4-12.2-3.7-11.8-5.2-11.5-4.6-10.7-3.9-9.4-3.4-7.6-2.9-5.8-2.4-4-1.7-2.3-0.8-0.8z"/>
<path d="M204.6 53.7l-1.2 0.8-2.2 2.3-2.9 4.1-3.4 6-3.8 7.9-4.2 9.8-4.9 11.2-5.7 11.8-4.1 12.1-5.1 12.2-6 12.8-6.3 13.4-6.3 13.9-5.4 14.2-4.3 14.3-3 14.3-1.6 14.2-0.7 13.9 0.3 13.4 1 12.8 1.8 12 2.9 11.2 4.1 10.2 7.1 9 9.7 7.7 9.2 6.3 8.1 2.9 8.3 0.9 8.8 0.6 9 0.3 9.3-0.1 9.1-0.4 8.8-0.8 8.6-3 9.5-6.5 9.9-7.9 7.3-9 4.6-10.2 3.5-11.2 2.4-12 1.3-12.8 0-13.4-1.5-13.9-3-14.2-4.3-14.3-5.1-14.3-5.5-14.2-5.3-13.9-4.7-13.4-4.1-12.8-3.6-12.2-3.4-12.1-5.9-11.8-5.7-11.2-5.5-9.8-4.8-7.9-4.2-6-3.3-4.1-2.3-2.3-1.3-0.8z"/>
<path d="M201.8 54.5l-1 0.8-1.8 2.3-2.5 4-3.1 6-3.7 7.8-4.3 9.6-5 11-5.7 11.7-4.1 12-4.5 12.2-4.7 12.8-4.6 13.4-4 13.9-3.1 14.2-2.3 14.3-1.4 14.3-0.9 14.2-0.6 13.9-0.3 13.4 0 12.8 0.8 12 1.8 11.2 3.3 10.2 5.8 8.9 6.3 7.1 7 5.8 7.8 6.5 8.2 6.1 8.4 4 8.5 1.5 8.6-1 8.7-3.5 8.5-5.7 8.1-6.5 7.3-6.4 6.6-7.8 6.2-9 3.9-10.2 2.7-11.2 1.6-12 0.8-12.8 0-13.4-0.7-13.9-1.5-14.2-2.4-14.3-3.2-14.3-3.9-14.2-4.3-13.9-4.5-13.4-4.5-12.8-4.3-12.2-4.2-12-6-11.7-5.6-11-4.9-9.6-4.2-7.8-3.5-6-2.7-4-1.9-2.3-1-0.8z"/>
<path d="M205.6 54.8l-0.5 0.8-1.3 2.3-2.1 4-3 5.9-3.9 7.8-5 9.6-6.2 10.9-6.9 11.6-5.1 12-5.3 12.2-5.3 12.8-5.1 13.4-4.8 13.9-4.1 14.2-3.4 14.3-2.7 14.3-2 14.2-1.3 13.9-0.7 13.4 0.2 12.8 1.2 12 2.5 11.2 3.9 10.2 6.8 9 9 7.5 9 6.4 8.5 2.7 8.8 0.6 9 0.4 9.2 0.1 9.1 0.1 8.9-0.2 8.5-0.4 8.3-2.9 8.8-6.5 8.9-7.8 7-9 4.2-10.2 2.9-11.2 1.9-12 0.9-12.8 0-13.4-0.7-13.9-1.7-14.2-2.8-14.3-3.7-14.3-4.6-14.2-5.3-13.9-5.5-13.4-5.3-12.8-5-12.2-4.4-12-6.2-11.6-5.6-10.9-4.9-9.6-4.2-7.8-3.5-5.9-2.9-4-1.8-2.3-0.7-0.8z"/>
<path d="M205.4 54.7l-0.7 0.8-1.9 2.3-3 4-3.4 5.9-3.7 7.9-3.9 9.5-4.3 11-5 11.6-3.6 12-4.6 12.2-5.4 12.8-5.7 13.4-5.2 13.9-4.3 14.2-3 14.3-1.8 14.3-0.8 14.2-0.3 13.9 0 13.4 0.2 12.8 0.9 12 1.8 11.2 3.2 10.2 5.7 9 6.5 7.4 7.1 6 8 8.8 8.6 9.1 9.3 5.9 10 2.2 10.2-1.6 10.2-5.3 9.5-8.6 8.2-8.9 6.7-6.9 5.4-8.1 4.5-9 2.5-10.2 2-11.2 1.9-12 1.7-12.8 1.1-13.4 0-13.9-1.6-14.2-3.2-14.3-4.5-14.3-5.3-14.2-5.4-13.9-5-13.4-4.5-12.8-4-12.2-3.8-12-6-11.6-5.6-11-5.1-9.5-4.1-7.9-3.1-5.9-2-4-1.1-2.3-0.3-0.8z"/>
<path d="M204 50.8l-0.4 0.7-1.5 2.4-2.6 4.1-3.6 6.3-4.8 8.4-5.9 10.4-7 11.8-7.8 12.4-5.5 12.3-5.6 12.3-5.7 12.8-5.6 13.4-5.1 13.9-4.6 14.2-3.8 14.3-3 14.3-2.1 14.2-1.1 13.9-0.1 13.4 0.9 12.8 2 12 3.3 11.2 4.6 10.2 8 9 11.7 7.6 10.6 6.3 8.6 6.1 8.3 5.3 8.7 3.3 8.7 1.2 8.6-1.1 8.5-3.3 8.1-5.2 8.5-6.2 10.7-6.3 12.1-7.7 8.6-9 5.4-10.2 4.1-11.2 2.6-12 1.1-12.8-0.2-13.4-1.5-13.9-2.8-14.2-3.9-14.3-4.8-14.3-5.4-14.2-5.8-13.9-5.8-13.4-5.5-12.8-5.2-12.3-4.7-12.3-7-12.4-6.3-11.8-5.5-10.4-4.6-8.4-3.8-6.3-2.9-4.1-1.7-2.4-0.5-0.7z"/>
<path d="M207.4 56.2l-1.9 0.7-3.1 2.3-3.9 4-4.2 5.8-4.7 7.6-5 9.3-5.8 10.6-6.5 11.4-4.4 11.8-5.1 12.2-5.6 12.8-6 13.4-5.9 13.9-5.5 14.2-4.8 14.3-3.9 14.3-2.7 14.2-1.5 13.9-0.3 13.4 1 12.8 2.3 12 3.5 11.2 4.7 10.2 8 9 11.6 8 10.4 6.5 8.5 4.8 8.6 3.2 9.2 1.9 9.7 0.6 9.7-0.6 9.5-2 8.8-3.2 8.6-4.8 10.3-6.6 11.1-7.8 7.2-9 4-10.2 2.8-11.2 1.8-12 1.1-12.8 0.4-13.4-0.5-13.9-1.5-14.2-2.6-14.3-3.9-14.3-5-14.2-6-13.9-6.5-13.4-6.6-12.8-6.2-12.2-5.3-11.8-6.8-11.4-5.5-10.6-4.1-9.3-3.2-7.6-2.5-5.8-2.3-4-2-2.3-1.5-0.7z"/>
<path d="M204.1 52l-0.4 0.7-1.7 2.4-2.8 4.1-3.8 6.1-4.6 8.3-5.4 10.1-6 11.6-6.3 12.1-4.1 12.2-3.9 12.3-3.9 12.8-3.8 13.4-3.7 13.9-3.6 14.2-3.6 14.3-3.4 14.3-3 14.2-2.3 13.9-1.4 13.4-0.1 12.8 1.5 12 3.1 11.2 4.8 10.2 7.5 9 8.8 7.7 8.6 6.8 8.1 5.9 8.1 4.3 8.3 2.5 8.6 0.6 8.8-1.2 8.9-2.9 9-4.3 8.9-5.3 9.2-6.3 9-7.8 7.3-9 4.3-10.2 2.4-11.2 0.9-12-0.4-12.8-1.4-13.4-2.1-13.9-2.4-14.2-2.7-14.3-3-14.3-3.3-14.2-3.9-13.9-4.3-13.4-4.8-12.8-5-12.3-5.1-12.2-7.2-12.1-6.5-11.6-5.4-10.1-4.2-8.3-3.1-6.1-2.1-4.1-1.2-2.4-0.2-0.7z"/>
<path d="M568.9 52.4l-1.5 0.7-2.2 2.4-2.7 4.1-3 6.1-3.6 8.1-4.3 10.1-5.3 11.5-6.2 12.1-4.5 12.1-4.7 12.3-4.5 12.8-4.1 13.4-3.5 13.9-2.9 14.2-2.5 14.3-2.2 14.3-2 14.2-1.6 13.9-1.1 13.4-0.1 12.8 1.2 12 2.6 11.2 4 10.2 6.5 8.9 7.9 7.4 7.6 6.4 7.3 4.5 7.3 2.9 7.8 1.6 8 0.5 8.3-0.7 8.3-1.6 8.2-2.6 8-4.1 8.2-6.4 8.3-7.8 6.7-9 4.2-10.2 2.9-11.2 1.5-12 0.4-12.8-0.6-13.4-1.4-13.9-2.2-14.2-2.7-14.3-3.3-14.3-3.7-14.2-4.2-13.9-4.4-13.4-4.7-12.8-4.5-12.3-4.1-12.1-5.8-12.1-5-11.5-4-10.1-3.3-8.1-2.8-6.1-2.5-4.1-2.1-2.4-1.4-0.7z"/>
<path d="M571.7 55.4l-0.7 0.8-1.7 2.3-2.5 4-3.1 5.8-3.7 7.7-4.5 9.5-5.3 10.8-6.2 11.5-4.7 11.9-5.1 12.2-5.3 12.8-5.2 13.4-4.7 13.9-4 14.2-3.3 14.3-2.6 14.3-1.9 14.2-1.2 13.9-0.2 13.4 0.7 12.8 1.9 12 3 11.2 4 10.2 6 9 7.1 7.7 6.7 6.3 6.5 5.3 7.2 4 8.4 2.4 9.4 0.8 10-0.8 9.9-2.1 9.1-3.6 8.1-5.1 7.4-6.6 7-8.3 5.4-9 3.3-10.2 2.7-11.2 2.3-12 1.6-12.8 0.6-13.4-0.7-13.9-2-14.2-3.2-14.3-4.1-14.3-4.4-14.2-4.4-13.9-4.2-13.4-4-12.8-3.9-12.2-3.9-11.9-6-11.5-5.6-10.8-4.9-9.5-3.9-7.7-3.1-5.8-2.2-4-1.3-2.3-0.6-0.8z"/>
<path d="M568.9 57.9l-1.1 0.8-2.7 2.3-3.9 3.9-4.6 5.6-5.1 7.3-5.5 9-6.1 10.2-6.4 11.1-4.1 11.7-4.5 12.1-4.9 12.8-5.2 13.4-5.3 13.9-5.2 14.2-4.6 14.3-3.8 14.3-2.7 14.2-1.2 13.9 0.2 13.4 1.5 12.8 2.5 12 3.2 11.2 4 10.2 6.8 9 10.3 7.7 9.7 6.3 8.4 4.5 9.4 3.1 10.5 2.1 10.8 1.1 10.4 0 9.2-1.3 7.7-2.9 7.3-5.1 9.3-7.2 11.1-8.3 8.4-9 5.9-10.2 5-11.2 3.3-12 1.1-12.8-1.2-13.4-3.2-13.9-4.4-14.2-4.8-14.3-4.6-14.3-4.2-14.2-4-13.9-4.1-13.4-4.6-12.8-5.4-12.1-5.9-11.7-8.5-11.1-7.7-10.2-6.1-9-4.4-7.3-2.9-5.6-1.7-3.9-1-2.3-0.4-0.8z"/>
<path d="M569.8 56.1l-0.8 0.7-1.7 2.3-2.7 4-3.6 5.8-4.5 7.6-5.4 9.3-6.2 10.7-6.7 11.4-4.6 11.8-4.5 12.2-4.4 12.8-4.4 13.4-4.3 13.9-4.1 14.2-3.8 14.3-3.2 14.3-2.5 14.2-1.3 13.9 0.1 13.4 1.3 12.8 2.6 12 3.7 11.2 4.5 10.2 6.7 9 7.7 7.9 7.6 6.5 7.3 4.7 8.1 3 8.9 1.7 9.3 0.5 9.5-0.7 9.1-1.8 8.3-3.1 7.7-4.5 7.6-6.4 7.7-7.8 6.4-9 4.1-10.2 3.2-11.2 2.2-12 1-12.8-0.2-13.4-1.5-13.9-2.5-14.2-3.4-14.3-4-14.3-4.3-14.2-4.5-13.9-4.3-13.4-4.3-12.8-4-12.2-3.9-11.8-5.9-11.4-5.5-10.7-4.8-9.3-4.2-7.6-3.4-5.8-2.7-4-1.8-2.3-0.7-0.7z"/>
<path d="M570.5 52.6l-0.6 0.8-1.8 2.3-2.7 4.1-3.5 6.1-4 8.1-4.4 10.1-4.8 11.4-5 12-3.3 12.2-3.6 12.2-4.1 12.8-4.5 13.4-4.6 13.9-4.2 14.2-3.5 14.3-2.5 14.3-1.5 14.2-0.4 13.9 0.3 13.4 0.8 12.8 1.5 12 2 11.2 3 10.2 5.3 9 6.9 7.7 7.2 6.3 7.4 5.3 7.8 4.4 8 2.8 8 1.2 7.7-0.6 7.4-2.5 7-4.4 7-5.8 7.3-6.6 7.5-7.8 6.2-9 3.8-10.2 2.4-11.2 1.1-12 0-12.8-0.9-13.4-1.5-13.9-2.1-14.2-2.4-14.3-2.8-14.3-3.3-14.2-3.7-13.9-4-13.4-4.2-12.8-4.2-12.2-3.9-12.2-5.7-12-5-11.4-4.1-10.1-3.3-8.1-2.5-6.1-1.7-4.1-1-2.3-0.3-0.8z"/>
<path d="M567.6 57.7l-1.5 0.7-2.1 2.3-2.5 3.9-3 5.7-3.6 7.3-4.4 9-5.2 10.3-5.7 11.2-3.8 11.7-3.8 12.1-3.9 12.8-4.1 13.4-4.1 13.9-4.2 14.2-3.8 14.3-3.1 14.3-2 14.2-0.6 13.9 0.7 13.4 1.8 12.8 2.4 12 2.7 11.2 2.9 10.2 4.6 9 5.9 7.6 6.3 6 7 5 8.4 4.2 9.5 2.8 9.9 1.5 9.3-0.2 8.3-1.9 6.9-4 6-5.8 6.1-7.1 6.8-8.1 6.2-9 4.6-10.2 3.9-11.2 2.9-12 1.4-12.8-0.1-13.4-1.5-13.9-2.5-14.2-3.2-14.3-3.5-14.3-3.8-14.2-3.9-13.9-3.9-13.4-3.9-12.8-3.7-12.1-3.6-11.7-5.3-11.2-4.9-10.3-4.2-9-3.9-7.3-3.6-5.7-3.2-3.9-2.7-2.3-1.7-0.7z"/>
<path d="M569.8 53.9l-0.8 0.8-1.2 2.3-1.7 4.1-2.7 5.9-3.7 8-4.7 9.7-5.5 11.1-5.6 11.9-3.4 12-3.1 12.2-2.8 12.8-3 13.4-3.3 13.9-3.6 14.2-3.7 14.3-3 14.3-2 14.2-0.8 13.9 0.4 13.4 1.1 12.8 1.5 12 1.6 11.2 1.8 10.2 3.7 9 5.4 7.7 6.4 6 7.3 5.3 8.4 4.3 8.8 3.1 8.5 1.7 7.5-0.1 6.5-2.1 5.8-4.3 5.7-6.3 6.6-7.3 7.5-8 6.9-9 4.8-10.2 3.1-11.2 1.2-12-0.5-12.8-1.7-13.4-2.3-13.9-2.4-14.2-2.4-14.3-2.5-14.3-2.8-14.2-3.4-13.9-4-13.4-4.1-12.8-3.8-12.2-3.2-12-4.3-11.9-3.6-11.1-3-9.7-2.8-8-2.9-5.9-2.7-4.1-2.3-2.3-1.2-0.8z"/>
<path d="M565.4 55.9l0.1 0.7-0.8 2.3-1.9 4-3.2 5.8-4.2 7.7-5.1 9.3-5.5 10.7-5.5 11.5-3.3 11.8-3.3 12.2-3.5 12.8-4 13.4-4.2 13.9-4.4 14.2-3.9 14.3-3.2 14.3-2.1 14.2-1.1 13.9-0.1 13.4 0.6 12.8 1.4 12 2.1 11.2 3.2 10.2 5.5 9 7.2 7.7 7.5 6.4 7.6 5.8 8.3 4.7 8.8 3.1 9.1 1.3 9.3-0.5 9.1-2.6 8.8-4.5 8.3-6.1 8.2-7.1 7.8-8.2 5.9-9 3.1-10.2 1.7-11.2 0.7-12-0.2-12.8-1-13.4-1.8-13.9-2.7-14.2-3.6-14.3-4.3-14.3-4.7-14.2-4.6-13.9-4-13.4-3.3-12.8-2.6-12.2-2.4-11.8-4.6-11.5-5-10.7-5.1-9.3-5-7.7-4.4-5.8-3.4-4-2-2.3-0.3-0.7z"/>
<path d="M566.8 55.7l-0.4 0.8-1.2 2.3-2 4-2.9 5.8-3.6 7.6-4.1 9.4-4.5 10.8-4.6 11.5-2.7 11.8-2.8 12.2-3 12.8-3.2 13.4-3.5 13.9-3.5 14.2-3.2 14.3-2.7 14.3-1.8 14.2-0.8 13.9 0.2 13.4 1.1 12.8 2.1 12 2.8 11.2 3.5 10.2 5.4 9 6.4 7.9 6.4 6.4 6.2 3.1 6.5 1 6.9 0.4 7 0.2 7-0.2 6.6-0.5 6.4-1 6.1-3.1 6.6-6.4 6.8-7.8 5.9-9 4-10.2 3-11.2 1.7-12 0.4-12.8-0.9-13.4-2.1-13.9-3-14.2-3.6-14.3-3.8-14.3-3.7-14.2-3.4-13.9-3.1-13.4-2.8-12.8-2.8-12.2-2.8-11.8-4.9-11.5-4.9-10.8-4.7-9.4-4.2-7.6-3.4-5.8-2.5-4-1.5-2.3-0.4-0.8z"/>
<path d="M570.3 54.9l-1.1 0.8-2.2 2.3-3 4-3.6 5.9-3.8 7.8-4 9.5-4.5 10.9-4.8 11.7-3.2 11.9-3.6 12.2-3.9 12.8-3.8 13.4-3.6 13.9-3.2 14.2-2.6 14.3-2.2 14.3-1.8 14.2-1.4 13.9-1.1 13.4-0.3 12.8 0.7 12 2 11.2 3.4 10.2 6.1 9 7.6 7.5 7.7 6.6 7.5 6.2 7.8 5.1 8 3.1 8.1 1 7.8-1.1 7.3-3.2 6.6-5 5.8-6.1 5.8-6.5 5.9-7.6 4.9-9 3.3-10.2 2.9-11.2 2.5-12 1.7-12.8 0.8-13.4-0.6-13.9-1.9-14.2-3.1-14.3-4-14.3-4.5-14.2-4.5-13.9-4.4-13.4-4.1-12.8-3.9-12.2-3.6-11.9-5.2-11.7-4.7-10.9-3.9-9.5-2.9-7.8-2.2-5.9-1.4-4-1-2.3-0.6-0.8z"/>
<path d="M568.2 50.4l-0.6 0.7-2.3 2.4-3.5 4.2-4.4 6.2-5.1 8.5-5.5 10.5-6.2 11.9-6.5 12.5-4.4 12.3-4.9 12.3-5.7 12.8-6.1 13.4-6.3 13.9-5.7 14.2-4.9 14.3-3.6 14.3-2.4 14.2-1.1 13.9 0 13.4 1 12.8 2.2 12 3.4 11.2 5 10.2 8.5 9 13 7.9 11.7 6.5 9.2 4.2 8.8 2.5 9 1.6 9 0.5 8.8-0.6 8.6-1.6 8.2-2.7 8.5-4.3 11.1-6.4 12.6-7.6 8.4-9 5-10.2 3.6-11.2 2.3-12 0.9-12.8-0.4-13.4-1.6-13.9-2.8-14.2-3.9-14.3-4.7-14.3-5.1-14.2-5.5-13.9-5.5-13.4-5.4-12.8-5.4-12.3-5.3-12.3-7.8-12.5-7.2-11.9-6.1-10.5-5-8.5-3.7-6.2-2.5-4.2-1.3-2.4-0.4-0.7z"/>
<path d="M567.3 52.6l0 0.8-1 2.3-2.1 4.1-3.3 6.1-4.3 8.1-5.1 10.1-5.7 11.4-6 12-3.9 12.2-3.9 12.2-3.9 12.8-4.1 13.4-4.1 13.9-4 14.2-3.5 14.3-2.9 14.3-2 14.2-1.3 13.9-0.3 13.4 0.6 12.8 1.6 12 2.7 11.2 3.9 10.2 6.5 9 8.1 7.7 8.1 6.5 7.8 6.5 8 5.7 8 3.5 8.1 1.2 7.9-1.2 7.9-3.6 7.7-5.8 7.7-6.6 8.1-6.3 8.3-7.6 6.7-9 4.2-10.2 2.7-11.2 1.4-12 0.3-12.8-0.6-13.4-1.6-13.9-2.3-14.2-3-14.3-3.6-14.3-4-14.2-4.2-13.9-4.2-13.4-3.9-12.8-3.9-12.2-3.7-12.2-5.8-12-5.8-11.4-5.3-10.1-4.7-8.1-3.8-6.1-2.8-4.1-1.5-2.3-0.2-0.8z"/>
<path d="M574.7 55.8l-0.6 0.8-1.6 2.3-2.6 4-3.6 5.8-4.5 7.6-5.4 9.4-6.2 10.7-6.7 11.5-4.4 11.8-4.8 12.2-5.2 12.8-5.7 13.4-5.8 13.9-5.6 14.2-4.9 14.3-3.9 14.3-2.4 14.2-0.9 13.9 0.5 13.4 1.6 12.8 2.4 12 3.1 11.2 4 10.2 6.6 9 9.3 8 9 6.4 8.3 2.8 8.9 0.8 9.5 0.6 9.9 0.4 9.7 0.2 9.3-0.2 8.6-0.9 8.3-3.3 9.5-6.8 10.1-8 7.5-9 4.4-10.2 3.1-11.2 1.8-12 0.6-12.8-0.5-13.4-1.4-13.9-2.3-14.2-3.2-14.3-3.9-14.3-4.7-14.2-5-13.9-5.3-13.4-5.1-12.8-4.7-12.2-4.3-11.8-6.3-11.5-5.7-10.7-5-9.4-4.4-7.6-3.7-5.8-2.9-4-2-2.3-0.8-0.8z"/>
<path d="M571.8 53.8l-0.2 0.8-1.2 2.3-2.5 4.1-3.8 5.9-4.9 8-5.9 9.8-6.6 11.1-6.7 11.8-4.1 12.1-3.8 12.2-3.4 12.8-3.3 13.4-3.5 13.9-3.7 14.2-4.1 14.3-4 14.3-3.8 14.2-2.8 13.9-1.3 13.4 0.4 12.8 2.5 12 4.2 11.2 5.7 10.2 7.9 9 8.6 8.1 7.7 7.1 6.6 7.1 6.6 5.8 7.1 3 7.8 0.4 8.6-2 9.2-4 9.4-5.9 9.1-6.1 9.1-5.8 8.5-7.7 6.4-9 3.4-10.2 2-11.2 0.9-12 0.2-12.8-0.3-13.4-0.9-13.9-1.6-14.2-2.3-14.3-3.1-14.3-3.9-14.2-4.3-13.9-4.5-13.4-4.5-12.8-4.4-12.2-4.1-12.1-6.1-11.8-5.7-11.1-5-9.8-4.3-8-3.4-5.9-2.5-4.1-1.3-2.3-0.1-0.8z"/>
<path d="M564.3 55.9l-1.3 0.8-1.7 2.3-2 4-2.4 5.8-3.2 7.6-4.1 9.3-5.2 10.7-6 11.5-4.2 11.8-4.1 12.2-4 12.8-3.7 13.4-3.6 13.9-3.7 14.2-3.6 14.3-3.3 14.3-2.6 14.2-1.5 13.9-0.1 13.4 1.3 12.8 2.6 12 3.5 11.2 4 10.2 5.7 9 6.6 7.9 6.4 6.6 6.5 3.7 7.4 1.7 8.3 0.9 8.7 0.3 8.8-0.2 8.2-0.8 7.5-1.7 6.9-3.7 7.1-6.7 7.4-8 6.4-9 4.2-10.2 3.1-11.2 1.7-12 0.3-12.8-0.8-13.4-1.6-13.9-2.1-14.2-2.5-14.3-2.7-14.3-3.1-14.2-3.8-13.9-4.3-13.4-4.8-12.8-4.9-12.2-4.5-11.8-5.9-11.5-4.9-10.7-3.8-9.3-3.2-7.6-2.9-5.8-2.7-4-2.3-2.3-1.5-0.8z"/>
<path d="M572.7 55.1l-1.2 0.8-2 2.3-2.6 4-3.2 5.9-3.7 7.7-4.5 9.5-5.4 10.9-6.1 11.6-4.3 11.9-4.7 12.2-4.9 12.8-4.8 13.4-4.5 13.9-4.2 14.2-3.7 14.3-3.2 14.3-2.6 14.2-1.8 13.9-0.8 13.4 0.6 12.8 2 12 3.4 11.2 4.5 10.2 6.9 9 8 7.8 7.6 6.7 7.1 5.2 7.6 3.4 8.4 2 9.1 0.4 9.5-0.9 9.5-2.1 9-3.4 8.2-4.7 7.9-6.4 7.6-8 6.1-9 3.7-10.2 2.8-11.2 2-12 1.2-12.8 0.2-13.4-0.9-13.9-2-14.2-3.1-14.3-3.9-14.3-4.5-14.2-4.7-13.9-4.8-13.4-4.5-12.8-4.3-12.2-3.9-11.9-5.9-11.6-5.2-10.9-4.5-9.5-3.8-7.7-3.1-5.9-2.6-4-1.9-2.3-1.1-0.8z"/>
<path d="M568.1 54.7l-0.9 0.8-2.1 2.3-2.9 4-3.7 5.9-4.3 7.8-5 9.6-6 11-6.7 11.6-4.9 12-5.3 12.2-5.6 12.8-5.5 13.4-4.9 13.9-4.2 14.2-3.4 14.3-2.8 14.3-2.3 14.2-1.7 13.9-1.2 13.4 0 12.8 1.4 12 3.3 11.2 5.3 10.2 8.7 9 11.8 7.5 10.5 6.6 8.3 6.2 7.8 5 7.9 2.9 8.2 0.7 8.7-1.5 8.9-3.4 8.9-4.9 9-5.6 10.4-5.9 10.9-7.6 7.4-9 4.3-10.2 3.2-11.2 2.2-12 1.3-12.8 0.2-13.4-1-13.9-2.4-14.2-3.7-14.3-4.8-14.3-5.3-14.2-5.5-13.9-5.2-13.4-4.7-12.8-4.4-12.2-4.3-12-6.6-11.6-6.4-11-5.8-9.6-5-7.8-4.1-5.9-3.1-4-2-2.3-0.9-0.8z"/>
<path d="M570.6 53.8l0.3 0.7-1 2.3-2.5 4.1-3.8 6-4.8 7.9-5.2 9.8-5.2 11.2-5 11.8-3 12.1-3.1 12.2-3.6 12.8-4.2 13.4-4.5 13.9-4.2 14.2-3.4 14.3-2.4 14.3-1.2 14.2-0.3 13.9 0.3 13.4 0.7 12.8 1.1 12 1.9 11.2 2.8 10.2 5.4 9 7 7.6 7.2 6 7.3 5.6 7.7 4.8 8.1 3.1 8.3 1.4 8.5-0.7 8.3-2.7 7.7-4.6 7-6 6.4-6.7 5.8-7.8 4.1-9 2.1-10.2 1.8-11.2 2-12 2.2-12.8 2-13.4 1-13.9-0.6-14.2-2.6-14.3-4.6-14.3-5.7-14.2-5.9-13.9-5.3-13.4-4.1-12.8-3-12.2-2.4-12.1-4.4-11.8-4.6-11.2-4.7-9.8-4.5-7.9-3.8-6-2.6-4.1-1.1-2.3 0.3-0.7z"/>
<path d="M569.5 55.1l-1.7 0.7-2.1 2.3-2.3 4.1-2.3 5.8-2.7 7.8-3.3 9.5-4.4 10.9-5.3 11.6-4.1 11.9-4.6 12.2-4.8 12.8-4.9 13.4-4.6 13.9-4.3 14.2-3.7 14.3-3 14.3-1.9 14.2-0.9 13.9 0.4 13.4 1.4 12.8 2.3 12 2.8 11.2 3.1 10.2 4.7 9 5.6 7.8 5.7 6.3 6.1 5.9 7.4 5.1 8.6 3.3 9.4 1.3 9.5-0.5 8.9-2.6 8-4.7 7.1-6.3 7-7.1 7-8.4 6.1-9.1 4.2-10.2 3.3-11.2 2.1-12 0.7-12.8-0.7-13.4-1.9-13.9-2.8-14.2-3.5-14.3-3.6-14.3-3.9-14.2-3.8-13.9-4-13.4-3.9-12.8-3.8-12.2-3.5-11.9-4.9-11.6-4.3-10.9-3.4-9.5-3-7.8-2.6-5.8-2.6-4.1-2.5-2.3-1.8-0.7z"/>
<path d="M569.2 54.1l-1.4 0.7-2.8 2.4-3.2 4-3.4 6-3.3 7.9-3.9 9.7-4.9 11.1-6.4 11.8-5.3 12-6.4 12.2-6.6 12.8-6.3 13.4-5.2 13.9-4 14.2-3 14.3-2.3 14.3-1.9 14.2-1.3 13.9-0.4 13.4 0.8 12.8 2.6 12 4.3 11.2 5.7 10.2 8 9 9.1 7.9 7.9 6.7 6.9 7.2 7 6.2 7.9 3.5 8.9 0.6 9.4-1.9 9.4-4.2 8.6-6.2 7.7-6.3 7.7-5.8 7.8-7.7 6.4-9 4.6-10.2 4.1-11.2 3.5-12 2.1-12.8 0.4-13.4-1.4-13.9-3.1-14.2-4.1-14.3-4.4-14.3-4.2-14.2-3.9-13.9-3.9-13.4-4.4-12.8-4.9-12.2-5.5-12-7.9-11.8-7.1-11.1-5.5-9.7-3.6-7.9-2.2-6-1.2-4-0.9-2.4-0.6-0.7z"/>
<path d="M572.7 55.7l-0.9 0.8-2.1 2.3-3.3 4-4 5.8-4.6 7.6-5.2 9.4-5.5 10.8-5.9 11.5-3.7 11.8-4.1 12.2-4.6 12.8-4.8 13.4-5 13.9-4.8 14.2-4.2 14.3-3.4 14.3-2.2 14.2-1.2 13.9-0.1 13.4 0.8 12.8 1.9 12 2.8 11.2 4 10.2 6.5 9 8.1 7.8 8.3 6.4 8.3 6.9 8.8 6.3 9.2 4 9.3 1.4 9.1-1.2 8.6-3.9 7.9-6.4 7.4-7.1 7.8-6.5 8.1-7.7 6.9-9 4.6-10.2 3.5-11.2 2.4-12 1.1-12.8-0.2-13.4-1.3-13.9-2.4-14.2-3.2-14.3-3.9-14.3-4.2-14.2-4.5-13.9-4.6-13.4-4.6-12.8-4.4-12.2-4.4-11.8-6.4-11.5-5.8-10.8-4.9-9.4-4-7.6-3-5.8-2.1-4-1.4-2.3-0.5-0.8z"/>
<path d="M572 53.9l-1.6 0.7-3.6 2.4-4.5 4-4.8 6-4.4 7.9-4.1 9.8-4.3 11.1-5 11.8-3.6 12.1-5 12.2-6.4 12.8-7 13.4-6.9 13.9-5.9 14.2-4.4 14.3-2.9 14.3-1.6 14.2-0.5 13.9 0.2 13.4 1 12.8 1.9 12 2.9 11.2 4.2 10.2 7.2 9 10 7.7 9.2 6.2 7.8 5 8.2 4 8.9 2.5 9.6 1 9.9-0.6 9.8-2.2 8.9-3.7 8.4-5.2 9.3-6.6 9.8-8.1 7.1-9 4.6-10.2 3.9-11.2 3.1-12 2-12.8 0.5-13.4-1.3-13.9-3.1-14.2-4.3-14.3-5-14.3-5.1-14.2-4.9-13.9-4.5-13.4-4.5-12.8-4.8-12.2-5-12.1-7.6-11.8-7.1-11.1-5.6-9.8-4-7.9-2.4-6-1.3-4-0.8-2.4-0.6-0.7z"/>
<path d="M569.7 51.4l-1.2 0.8-2 2.3-2.5 4.2-3.1 6.2-3.7 8.3-4.5 10.3-5.4 11.6-6.2 12.3-4.5 12.2-4.8 12.3-5.3 12.8-5.4 13.4-5.2 13.9-4.9 14.2-4.2 14.3-3.1 14.3-2.1 14.2-0.8 13.9 0.4 13.4 1.3 12.8 2.2 12 3 11.2 3.7 10.2 6.1 9 7.6 7.8 7.7 6.2 7.6 6.9 8.6 6.5 9.4 4.2 10 1.7 10.1-1.1 9.7-3.7 8.9-6.3 8.2-7.2 8.1-6.9 8-8.1 6.3-9 3.7-10.2 2.8-11.2 1.9-12 1-12.8 0.3-13.4-0.8-13.9-1.7-14.2-2.8-14.3-3.8-14.3-4.7-14.2-5.2-13.9-5.4-13.4-5.3-12.8-4.7-12.3-4.1-12.2-5.8-12.3-5.1-11.6-4.3-10.3-3.9-8.3-3.4-6.2-3-4.2-2.3-2.3-1.4-0.8z"/>
<path d="M564.4 52.5l-0.3 0.8-1.2 2.3-2 4.1-2.4 6.1-2.6 8.1-2.8 10.1-3.2 11.4-3.9 12.1-2.9 12.1-3.8 12.3-4.5 12.8-4.7 13.4-4.3 13.9-3.4 14.2-2.4 14.3-1.8 14.3-1.4 14.2-1.6 13.9-1.5 13.4-1.1 12.8 0.1 12 1.9 11.2 4.2 10.2 7.2 9 8.8 7.7 8.4 7 7.4 6.2 6.5 4.7 6 2.7 6.1 0.4 6.6-1.7 7.3-3.5 7.5-4.9 7.4-5.4 6.9-5.9 6.1-7.3 3.9-9 1.3-10.2 0.6-11.2 0.5-12 0.6-12.8 0.7-13.4 0.2-13.9-0.7-14.2-2.1-14.3-3.2-14.3-4-14.2-4.3-13.9-3.9-13.4-3.3-12.8-3-12.3-2.9-12.1-5-12.1-5.2-11.4-4.9-10.1-4.5-8.1-3.5-6.1-2.4-4.1-1.3-2.3-0.2-0.8z"/>
<path d="M570.6 49.7l-1.5 0.7-3 2.4-3.9 4.2-4.5 6.3-4.8 8.6-5 10.7-5.4 12-5.9 12.6-4 12.4-4.5 12.3-4.9 12.8-5.1 13.4-4.8 13.9-4.4 14.2-3.6 14.3-2.9 14.3-2.2 14.2-1.6 13.9-0.9 13.4 0.2 12.8 1.4 12 3 11.2 4.5 10.2 7.7 9 10.1 7.7 9.7 6.6 8.7 7.3 8.9 6.5 9.3 4 9.5 1.2 9.5-1.5 9-4.2 8.4-6.5 7.8-7.1 8.3-6.4 8.6-7.6 6.4-9 4-10.2 3.2-11.2 2.2-12 1.2-12.8 0-13.4-1.5-13.9-2.8-14.2-4-14.3-4.7-14.3-4.9-14.2-4.9-13.9-4.7-13.4-4.4-12.8-4.3-12.3-4.2-12.4-6.4-12.6-5.9-12-4.9-10.7-3.8-8.6-2.9-6.3-2-4.2-1.5-2.4-0.9-0.7z"/>
<path d="M569.1 56.7l-1.8 0.8-2.8 2.3-3.4 3.9-3.5 5.7-3.5 7.6-3.5 9.1-3.9 10.5-4.3 11.4-3.1 11.7-3.8 12.2-4.3 12.8-4.6 13.4-4.4 13.9-3.6 14.2-2.7 14.3-1.5 14.3-0.6 14.2 0.2 13.9 0.8 13.4 1.3 12.8 1.8 12 2.5 11.2 3.2 10.2 5.2 9 6.3 7.6 6.3 5.9 6 4.9 6.4 4 6.7 2.5 7.1 1 7.1-0.6 7.1-2.3 6.9-3.9 6.6-5.1 6.7-6.2 6.6-7.8 5.5-9 3.3-10.2 2.5-11.2 1.7-12 1-12.8 0.2-13.4-0.6-13.9-1.4-14.2-2.3-14.3-3.2-14.3-3.8-14.2-4.4-13.9-4.6-13.4-4.7-12.8-4.3-12.2-4-11.7-5.1-11.4-4.2-10.5-3.1-9.1-2.3-7.6-1.7-5.7-1.4-3.9-1.4-2.3-1.2-0.8z"/>
<path d="M569.2 53.9l-1.2 0.7-2 2.4-2.6 4-2.8 6-3 7.9-3.3 9.8-3.7 11.1-4.3 11.8-2.9 12.1-3.5 12.2-3.9 12.8-4.1 13.4-4.1 13.9-3.8 14.2-3.4 14.3-2.8 14.3-2.3 14.2-1.5 13.9-0.5 13.4 0.5 12.8 1.6 12 2.8 11.2 3.8 10.2 5.8 9 6.6 7.8 6.3 6.6 6 6.5 6.2 5.4 6.8 3.2 7.3 0.9 7.5-1.3 7.5-3.4 7.2-5.3 6.8-6.1 6.7-6.4 6.8-7.9 5.7-9 3.7-10.2 2.8-11.2 1.9-12 0.9-12.8-0.1-13.4-1.2-13.9-2-14.2-2.7-14.3-2.9-14.3-3.2-14.2-3.2-13.9-3.4-13.4-3.6-12.8-3.8-12.2-3.9-12.1-5.8-11.8-5.2-11.1-4.4-9.8-3.4-7.9-2.5-6-1.9-4-1.4-2.4-0.9-0.7z"/>
<path d="M568.6 58.3l0.4 0.8-0.6 2.3-2.1 3.9-4 5.6-5.7 7.2-7.1 8.9-7.9 10.1-7.8 11.1-4.5 11.6-3.8 12.1-3.6 12.8-4 13.4-4.6 13.9-5.4 14.2-5.8 14.3-5.4 14.3-4.4 14.2-2.6 13.9-0.5 13.4 1.6 12.8 3.3 12 4.7 11.2 5.6 10.2 8.3 9 11.1 8.4 9.7 7.1 7.8 9.2 8.1 8.8 8.9 5.3 9.6 1.5 9.9-2.3 9.8-5.8 9-9.2 8.7-8.9 9.9-6.3 10.4-7.8 6.7-9 3.6-10.2 2.5-11.2 2-12 1.3-12.8 0.6-13.4-0.4-13.9-1.7-14.2-3.2-14.3-4.5-14.3-5.5-14.2-5.7-13.9-5.4-13.4-4.6-12.8-3.7-12.1-3.2-11.6-5.8-11.1-5.9-10.1-6-8.9-6-7.2-5.4-5.6-4.1-3.9-2.3-2.3-0.3-0.8z"/>
<path d="M567 51.7l-1.7 0.8-3 2.3-3.6 4.2-3.8 6.1-4.1 8.3-4.2 10.2-4.9 11.6-5.6 12.2-3.8 12.2-4.6 12.3-5.5 12.8-6 13.4-5.9 13.9-5.4 14.2-4.5 14.3-3.4 14.3-2.4 14.2-1.5 13.9-0.7 13.4 0.1 12.8 1 12 2.1 11.2 3.8 10.2 7.6 9 11.7 7.6 11.2 6.4 9.8 6.3 9.8 5.6 9.9 3.6 9.7 1.5 9.2-0.8 8.7-3.2 8.2-5.5 8.4-6.7 10.6-7 11.9-7.8 8.5-9 4.9-10.2 3.2-11.2 1.3-12-0.3-12.8-1.6-13.4-2.5-13.9-3-14.2-3.2-14.3-3.4-14.3-3.8-14.2-4.2-13.9-4.8-13.4-5.3-12.8-5.6-12.3-5.6-12.2-7.7-12.2-6.8-11.6-5.4-10.2-4.3-8.3-3.3-6.1-2.7-4.2-2-2.3-1.5-0.8z"/>
<path d="M568 56.7l-1.2 0.7-2.1 2.3-2.7 4-3.3 5.7-3.6 7.5-4 9.2-4.8 10.5-5.5 11.4-3.9 11.7-4.9 12.2-5.7 12.8-6.2 13.4-6.1 13.9-5.4 14.2-4.2 14.3-2.7 14.3-1.4 14.2-0.2 13.9 0.4 13.4 0.9 12.8 1.5 12 2.2 11.2 3.5 10.2 6.7 9 9.6 7.6 9.9 6 9.3 5.5 9.5 4.7 9.4 3.3 9 1.4 8.3-0.7 7.7-2.8 7.2-4.9 7.4-6.1 8.7-6.6 9.6-7.5 7.7-8.9 5-10.2 3.7-11.2 2.3-12 1.1-12.8 0-13.4-1-13.9-1.9-14.2-2.7-14.3-3.7-14.3-4.4-14.2-5-13.9-5.5-13.4-5.4-12.8-5.3-12.2-5-11.7-6.8-11.4-6.2-10.5-5.2-9.2-4.5-7.5-3.7-5.7-3-4-2.2-2.3-1.2-0.7z"/>
<path d="M569.2 53.9l-0.1 0.8-1.5 2.3-3.1 4.1-4.4 5.9-5.2 8-5.6 9.7-5.9 11.1-6 11.9-3.7 12-4.2 12.2-4.9 12.8-5.5 13.4-5.6 13.9-5.2 14.2-4.2 14.3-2.9 14.3-1.8 14.2-0.8 13.9-0.1 13.4 0.5 12.8 1.3 12 2.5 11.2 3.9 10.2 7.2 9 9.7 7.7 9.5 6.2 8.7 6.4 8.5 5.8 8.6 3.7 8.7 1.3 8.9-1.2 9-3.7 9.1-5.7 8.9-6.6 9.4-6.3 9.3-7.6 6.6-9 3.4-10.2 2.1-11.2 1.2-12 0.8-12.8 0.2-13.4-0.5-13.9-1.6-14.2-3-14.3-4.1-14.3-5-14.2-5.3-13.9-4.9-13.4-4.3-12.8-3.8-12.2-3.6-12-6-11.9-6.1-11.1-5.8-9.7-5.2-8-4.1-5.9-2.8-4.1-1.3-2.3 0.1-0.8z"/>
<path d="M570.6 53l-1.2 0.7-2.4 2.4-3.3 4-4.2 6.1-5.1 8.1-5.9 9.9-6.7 11.4-7.4 11.9-4.9 12.2-5.2 12.2-5.2 12.8-5.3 13.4-5.1 13.9-4.9 14.2-4.4 14.3-3.8 14.3-3 14.2-2 13.9-0.8 13.4 0.6 12.8 2.2 12 3.9 11.2 5.6 10.2 9.1 9 12.7 8 11.4 6.9 9.1 5.9 8.5 4.3 8.5 2.4 8.2 0.5 7.9-1.4 7.6-3.2 7.3-4.8 7.9-5.5 10.6-5.9 12.4-7.3 9.4-8.9 6.5-10.2 5-11.2 3.4-12 1.3-12.8-0.7-13.4-2.7-13.9-4.2-14.2-5.4-14.3-6-14.3-6.1-14.2-5.7-13.9-5.3-13.4-4.5-12.8-3.9-12.2-3.5-12.2-5.9-11.9-5.3-11.4-4.8-9.9-4.3-8.1-3.6-6.1-3-4-2.2-2.4-1.2-0.7z"/>
<path d="M566.1 52.3l-0.9 0.8-1.4 2.3-1.9 4.2-2.3 6.1-3.1 8.1-4.1 10.1-5.1 11.5-6 12.1-4.3 12.1-4.7 12.3-4.7 12.8-4.7 13.4-4.4 13.9-4 14.2-3.6 14.3-3 14.3-2.3 14.2-1.4 13.9-0.4 13.4 0.6 12.8 1.8 12 2.8 11.2 3.8 10.2 6.2 9 7.6 7.5 7.4 6.3 7.4 6 8 5.1 8.5 3.2 8.9 1.1 8.8-0.8 8.5-2.9 8.1-4.9 7.7-6 8.2-6.6 8.5-8 7.4-9 5-10.2 4-11.2 2.5-12 1.1-12.8-0.4-13.4-1.6-13.9-2.8-14.2-3.4-14.3-3.9-14.3-4.1-14.2-4.1-13.9-4.1-13.4-4.1-12.8-3.9-12.3-3.9-12.1-6.1-12.1-5.9-11.5-5.4-10.1-4.9-8.1-4.3-6.1-3.6-4.2-2.6-2.3-1.4-0.8z"/>
<path d="M569.8 55.5l-0.3 0.7-1.5 2.4-2.7 4-3.9 5.8-4.8 7.7-5.7 9.4-6.3 10.8-6.6 11.5-4.4 11.9-4.3 12.2-4.4 12.8-4.3 13.4-4.3 13.9-4 14.2-3.6 14.3-3 14.3-2.3 14.2-1.4 13.9-0.4 13.4 0.7 12.8 1.9 12 3 11.2 4.2 10.2 6.7 9 8.2 7.6 8 6.3 7.5 4.9 8 3.4 9 2.1 9.7 0.8 10.1-0.5 10-1.9 9.5-3.1 8.6-4.7 8.6-6.7 8.3-8.2 6.1-9 3.5-10.2 2.6-11.2 1.9-12 1.1-12.8 0.2-13.4-1-13.9-2.3-14.2-3.5-14.3-4.5-14.3-5-14.2-5.2-13.9-4.9-13.4-4.5-12.8-4-12.2-3.9-11.9-6.2-11.5-5.9-10.8-5.4-9.4-4.7-7.7-3.8-5.8-2.6-4-1.5-2.4-0.3-0.7z"/>
<path d="M571 56.6l0 0.8-1.6 2.3-3.1 3.9-4.1 5.8-4.8 7.5-5.1 9.2-5.3 10.5-5.3 11.4-3.1 11.7-3.2 12.2-3.6 12.8-3.9 13.4-4.2 13.9-4.3 14.2-4.2 14.3-3.8 14.3-3.1 14.2-2.2 13.9-0.9 13.4 0.5 12.8 1.9 12 3.5 11.2 4.8 10.2 7.2 9 8.5 8.1 8.2 7 7.6 8.5 7.8 7.7 7.9 4.6 8 1.2 8.1-2.1 7.8-5.2 7.7-8 7.6-8 8-6.2 8.4-7.6 7.1-9 4.7-10.2 3.2-11.2 1.6-12-0.1-12.8-1.7-13.4-2.8-13.9-3.4-14.2-3.4-14.3-3.2-14.3-2.9-14.2-2.6-13.9-2.8-13.4-3.4-12.8-4.2-12.2-5.1-11.7-7.6-11.4-7.2-10.5-6.1-9.2-4.4-7.5-2.7-5.8-1.2-3.9-0.1-2.3 0.6-0.8z"/>
<path d="M568.9 56l-1.5 0.8-2.6 2.3-3.2 4-3.8 5.8-4.4 7.6-4.7 9.3-5.4 10.6-5.6 11.5-3.5 11.8-3.7 12.2-4 12.8-4.4 13.4-4.8 13.9-5.1 14.2-4.8 14.3-4.3 14.3-3.2 14.2-1.9 13.9-0.5 13.4 1 12.8 2.3 12 3.4 11.2 4.4 10.2 6.7 9 8.1 8.1 8 6.8 8.1 5.2 8.7 3.6 9.2 2.1 9.4 0.6 9.3-0.7 8.8-2.3 8.2-3.7 7.8-5.3 8.1-6.6 8.3-7.8 7.1-9 4.5-10.2 3.2-11.2 2-12 0.6-12.8-0.3-13.4-1.3-13.9-2-14.2-2.8-14.3-3.5-14.3-4.3-14.2-5-13.9-5.5-13.4-5.7-12.8-5.4-12.2-4.7-11.8-6.1-11.5-4.9-10.6-3.7-9.3-2.9-7.6-2.5-5.8-2.1-4-1.8-2.3-1.3-0.8z"/>
<path d="M568.8 57.8l-0.3 0.8-1.8 2.3-3.4 3.9-5 5.6-6.3 7.4-7.1 8.9-7.5 10.3-7.6 11.1-4.5 11.7-4.8 12.1-5.3 12.8-6 13.4-6.2 13.9-6 14.2-5 14.3-3.6 14.3-1.9 14.2-0.6 13.9 0.5 13.4 1.2 12.8 1.9 12 2.7 11.2 4.3 10.2 8.5 9 15.1 7.5 13.3 6 9.8 7 9.1 7 9.1 4.8 8.8 2 8.7-1.1 8.6-4.1 8.7-7 9.8-7.7 13.8-6.7 15.9-7.7 9.5-9 4.9-10.2 2.9-11.2 1.3-12 0.2-12.8-0.6-13.4-1.6-13.9-2.6-14.2-3.9-14.3-5.3-14.3-6.4-14.2-6.9-13.9-6.8-13.4-5.9-12.8-4.9-12.1-4.2-11.7-6.7-11.1-6.4-10.3-6.2-8.9-5.8-7.4-5-5.6-3.8-3.9-2.3-2.3-0.4-0.8z"/>
<path d="M571.4 54.7l0.8 0.7-0.5 2.3-2.2 4.1-3.9 5.9-5.2 7.8-6.1 9.6-6.7 10.9-6.8 11.7-4.3 12-4.3 12.2-4.3 12.8-4.4 13.4-4.4 13.9-4.5 14.2-4.1 14.3-3.7 14.3-3 14.2-2 13.9-0.8 13.4 0.5 12.8 2 12 3.6 11.2 5 10.2 7.5 9 9.1 7.9 8.3 6.7 7.4 3 7.5 0.3 8.2-0.1 8.9-0.4 9.6-0.3 10-0.3 9.6-0.2 9.2-2.4 9.1-6.3 8.7-7.9 6.4-9 3.6-10.2 2.6-11.2 1.8-12 1-12.8 0-13.4-1.2-13.9-2.7-14.2-3.9-14.3-4.6-14.3-4.8-14.2-4.4-13.9-3.7-13.4-3.1-12.8-2.9-12.2-3.4-12-6.4-11.7-6.9-10.9-6.9-9.6-6.2-7.8-4.8-5.9-3-4.1-1-2.3 0.7-0.7z"/>
<path d="M568.8 54.4l0.4 0.7-0.9 2.4-2.6 4-4 5.9-4.9 7.9-5.5 9.7-5.5 11-5.2 11.7-2.9 12-3.3 12.2-3.9 12.8-4.8 13.4-5.2 13.9-5.1 14.2-4.3 14.3-3 14.3-1.6 14.2-0.3 13.9 0.5 13.4 1 12.8 1.5 12 2.3 11.2 3.3 10.2 6.1 9 7.8 7.7 7.9 6.1 7.8 5.6 8 4.9 8.2 3.3 8.4 1.3 8.7-0.8 8.8-2.8 8.9-4.9 8.7-6 8.6-6.5 7.9-7.9 5.8-9 2.8-10.2 1.7-11.2 1-12 0.9-12.8 0.7-13.4 0.1-13.9-1.1-14.2-2.5-14.3-4.2-14.3-5.3-14.2-5.7-13.9-5.3-13.4-4.5-12.8-3.6-12.2-3.1-12-5.3-11.7-5.4-11-5.5-9.7-5.2-7.9-4.2-5.9-2.9-4-1.3-2.4 0.3-0.7z"/>
<path d="M564.8 52.2l-0.7 0.8-1.5 2.3-2.2 4.2-2.9 6.1-3.8 8.2-4.8 10.1-5.7 11.5-6.4 12.1-4.5 12.1-4.5 12.3-4.6 12.8-4.4 13.4-4.1 13.9-3.7 14.2-3.3 14.3-2.8 14.3-2.3 14.2-1.6 13.9-0.7 13.4 0.3 12.8 1.5 12 2.7 11.2 4.1 10.2 6.8 9 8.5 7.6 8.7 6.6 8.6 7.1 9.2 6.4 9.5 4 9.6 1.4 9.4-1.3 8.7-3.9 7.9-6.4 7.3-7.1 7.4-6.7 7.6-7.7 6.4-9 4-10.2 3.2-11.2 2.1-12 0.9-12.8-0.2-13.4-1.4-13.9-2.4-14.2-3.4-14.3-4.1-14.3-4.5-14.2-4.8-13.9-4.9-13.4-4.7-12.8-4.5-12.3-4.2-12.1-6.2-12.1-5.8-11.5-5-10.1-4.3-8.2-3.7-6.1-2.9-4.2-2.1-2.3-0.8-0.8z"/>
<path d="M563.8 54.5l-0.3 0.8-1.5 2.3-2.4 4.1-3.4 5.9-4.1 7.8-4.8 9.6-5.3 11-5.7 11.7-3.7 12-3.7 12.2-3.8 12.8-3.9 13.4-3.8 13.9-3.6 14.2-3.2 14.3-2.8 14.3-2.2 14.2-1.6 13.9-0.7 13.4 0.3 12.8 1.5 12 2.6 11.2 3.9 10.2 6.4 9 8 7.7 8 6.5 7.9 6.4 8.2 5.3 8.6 3.3 8.7 1 8.4-1.1 7.9-3.4 7-5.4 6.4-6.3 6.4-6.4 6.5-7.6 5.5-9 3.6-10.2 3-11.2 2.4-12 1.5-12.8 0.5-13.4-0.7-13.9-1.8-14.2-2.8-14.3-3.5-14.3-4-14.2-4.1-13.9-4.2-13.4-4.1-12.8-4.1-12.2-4.2-12-6.3-11.7-6-11-5.2-9.6-4.4-7.8-3.4-5.9-2.3-4.1-1.3-2.3-0.3-0.8z"/>
<path d="M570.7 56.4l-0.5 0.8-1.5 2.3-2.2 4-2.8 5.7-3.5 7.6-4 9.2-4.8 10.6-5.2 11.3-3.7 11.8-3.8 12.2-4.1 12.8-4.2 13.4-4.1 13.9-3.8 14.2-3.4 14.3-2.7 14.3-2 14.2-1.2 13.9-0.3 13.4 0.5 12.8 1.5 12 2.4 11.2 3.5 10.2 5.6 9 6.9 7.7 6.9 6.5 6.7 4.9 7.1 3.5 7.5 2.1 7.6 0.8 7.5-0.7 7.3-2.1 7-3.5 6.7-4.9 7.1-6.5 7.2-7.8 6-9 4-10.2 2.9-11.2 2-12 1-12.8 0-13.4-0.8-13.9-1.7-14.2-2.4-14.3-3.2-14.3-3.7-14.2-4.2-13.9-4.5-13.4-4.5-12.8-4.4-12.2-4-11.8-5.5-11.3-4.8-10.6-4-9.2-3.2-7.6-2.5-5.7-1.9-4-1.3-2.3-0.5-0.8z"/>
<path d="M572.4 54.8l-0.3 0.8-1.5 2.3-2.6 4-3.4 5.9-4 7.8-4.4 9.6-4.5 10.9-4.8 11.7-2.9 11.9-3.4 12.2-4.1 12.8-4.6 13.4-4.7 13.9-4.5 14.2-3.8 14.3-2.7 14.3-1.7 14.2-0.7 13.9 0 13.4 0.7 12.8 1.4 12 2.3 11.2 3.3 10.2 5.8 9 7.3 7.8 7.6 6.4 7.4 7.4 7.7 7 7.8 4.5 7.8 1.6 7.7-1.4 7.6-4.5 7.3-7.1 7.1-7.6 7.3-6.5 7.2-7.6 5.6-9 3.3-10.2 2-11.2 1-12 0.3-12.8-0.5-13.4-1-13.9-1.7-14.2-2.3-14.3-2.9-14.3-3.3-14.2-3.5-13.9-3.6-13.4-3.6-12.8-3.6-12.2-3.6-11.9-5.7-11.7-5.6-10.9-5-9.6-4.2-7.8-3.3-5.9-2.2-4-1.1-2.3-0.2-0.8z"/>
<path d="M566.2 54l-0.8 0.7-1.8 2.4-2.5 4-3.3 6-4 7.9-5 9.8-5.9 11.1-6.8 11.8-4.9 12-5.4 12.2-5.8 12.8-5.9 13.4-5.5 13.9-4.9 14.2-4 14.3-3.1 14.3-2.1 14.2-1 13.9 0 13.4 1.2 12.8 2.4 12 3.7 11.2 5 10.2 7.9 9 10.8 7.7 9.5 6.3 7.6 6.5 7.5 5.8 7.9 3.6 8.6 1.1 8.9-1.4 9.2-3.6 9.1-5.7 9.2-6.3 10.7-6.2 11.5-7.8 8-9 4.6-10.2 3.2-11.2 1.9-12 0.6-12.8-0.7-13.4-1.8-13.9-2.9-14.2-3.7-14.3-4.3-14.3-4.5-14.2-4.5-13.9-4.2-13.4-4.1-12.8-4-12.2-4.1-12-6.8-11.8-6.8-11.1-6.3-9.8-5.6-7.9-4.8-6-3.6-4-2.5-2.4-1.1-0.7z"/>
<path d="M566 55.1l0.2 0.8-1 2.3-2.4 4-4 5.9-5.1 7.7-5.7 9.5-5.7 10.9-5.1 11.6-2.3 11.9-2.2 12.2-2.7 12.8-3.7 13.4-4.8 13.9-5.5 14.2-5.4 14.3-4.7 14.3-3.1 14.2-1.5 13.9 0.1 13.4 1.3 12.8 2.2 12 3 11.2 3.9 10.2 6.2 9 8 8.1 8.2 6.7 8.2 5.1 8.8 3.9 8.9 2.4 8.9 0.9 8.6-0.7 8.2-2.3 7.8-4.2 7.6-5.5 8-6.7 8.3-7.7 6.9-9 4.4-10.2 3.1-11.2 2-12 0.9-12.8-0.1-13.4-1.2-13.9-2.5-14.2-3.6-14.3-4.7-14.3-5.3-14.2-5.3-13.9-4.6-13.4-3.8-12.8-3-12.2-2.7-11.9-4.9-11.6-5.4-10.9-5.5-9.5-5.5-7.7-4.9-5.9-3.6-4-2-2.3-0.2-0.8z"/>
<path d="M563.7 58.2l0.4 0.8-0.5 2.3-1.7 3.9-2.9 5.6-4.1 7.3-4.9 8.8-5.7 10.2-5.9 11-3.7 11.7-3.9 12.1-4.1 12.8-4.4 13.4-4.6 13.9-4.4 14.2-3.7 14.3-2.9 14.3-1.7 14.2-0.6 13.9 0.3 13.4 1.2 12.8 1.9 12 2.7 11.2 3.6 10.2 6 9 7.5 7.6 7.6 6.2 7.5 6.3 8 5.9 8.5 3.7 8.8 1.6 9-1 9-3.3 8.7-5.6 8.4-6.6 8.3-6.7 8.1-8.1 6.2-9 3.4-10.2 2.2-11.2 1.2-12 0.5-12.8-0.1-13.4-0.8-13.9-1.7-14.2-2.7-14.3-3.7-14.3-4.6-14.2-4.9-13.9-4.9-13.4-4.6-12.8-4.1-12.1-3.9-11.7-6.2-11-6.1-10.2-5.8-8.8-5.4-7.3-4.6-5.6-3.3-3.9-1.8-2.3-0.1-0.8z"/>
<path d="M569.6 55.3l-0.9 0.8-2 2.3-2.8 4-3.5 5.8-4.2 7.8-5 9.4-6 10.8-6.8 11.6-4.9 11.9-5.4 12.2-5.7 12.8-5.6 13.4-5.3 13.9-4.5 14.2-3.6 14.3-2.8 14.3-2 14.2-1.3 13.9-0.7 13.4 0.1 12.8 1.1 12 2.5 11.2 4.2 10.2 7.7 9 11.2 7.5 10.7 6.3 9.3 5.3 9 4.1 8.9 2.6 8.5 0.9 8-0.9 7.8-2.6 7.6-4.1 8.1-5.4 10.1-6.3 11.4-7.4 8.7-9 5.6-10.2 3.9-11.2 2.1-12 0.3-12.8-1.1-13.4-2.2-13.9-2.9-14.2-3.4-14.3-3.7-14.3-4.1-14.2-4.4-13.9-4.6-13.4-4.9-12.8-5-12.2-5-11.9-7.1-11.6-6.5-10.8-5.5-9.4-4.5-7.8-3.6-5.8-2.7-4-1.8-2.3-0.8-0.8z"/>
<path d="M570.6 53.3l-2.2 0.8-3 2.3-2.9 4.1-2.5 6-1.9 8-2 9.9-2.7 11.3-4.1 11.9-3.6 12.1-5 12.2-5.6 12.8-5.5 13.4-4.7 13.9-3.7 14.2-2.6 14.3-1.8 14.3-1.3 14.2-0.9 13.9-0.4 13.4 0.4 12.8 1.4 12 2.5 11.2 3.4 10.2 5.4 9 6.2 7.7 6 6.4 5.9 6.5 6.8 5.6 7.8 3.4 8.7 1.2 8.9-1.1 8.4-3.2 7-5.3 5.6-6.3 5-6.8 5-8.1 4.4-9 3.5-10.2 3.8-11.2 3.6-12 2.6-12.8 0.9-13.4-1.1-13.9-3-14.2-4.2-14.3-4.7-14.3-4.3-14.2-3.8-13.9-3.3-13.4-3-12.8-3-12.2-3.3-12.1-5.2-11.9-4.7-11.3-3.7-9.9-2.6-8-2-6-1.6-4.1-1.6-2.3-1.7-0.8z"/>
<path d="M567.8 55.6l-1.1 0.7-1.9 2.3-2.5 4-2.7 5.8-3 7.7-3.3 9.5-4.2 10.7-5.2 11.5-4.2 11.9-4.9 12.2-5.3 12.8-5.2 13.4-4.4 13.9-3.5 14.2-2.4 14.3-1.5 14.3-0.9 14.2-0.4 13.9 0 13.4 0.5 12.8 1.2 12 2.2 11.2 3.2 10.2 5.5 9 7 7.5 7 6.2 7 8.7 7.4 9 8 5.7 8.2 2.1 8.1-1.8 7.6-5.4 7-8.8 6.4-8.9 6.4-6.5 6.7-7.8 5.7-9 3.9-10.2 3-11.2 1.9-12 0.7-12.8-0.7-13.4-1.9-13.9-2.7-14.2-3.1-14.3-3.2-14.3-2.9-14.2-2.8-13.9-2.8-13.4-3.3-12.8-3.7-12.2-4.2-11.9-6.3-11.5-5.8-10.7-4.8-9.5-3.6-7.7-2.6-5.8-1.7-4-1.2-2.3-0.7-0.7z"/>
<path d="M571.1 57l-0.4 0.7-1.5 2.3-2.2 4-2.9 5.7-3.5 7.5-4.2 9.1-4.7 10.4-5.3 11.3-3.8 11.7-4 12.2-4 12.8-3.8 13.4-3.4 13.9-2.9 14.2-2.3 14.3-1.8 14.3-1.5 14.2-1.1 13.9-0.8 13.4-0.1 12.8 0.8 12 2.1 11.2 3.3 10.2 5.8 9 7 7.5 7 6.4 6.7 7.4 6.8 7 7.1 4.3 7.2 1.5 7.4-1.6 7.2-4.3 7-6.9 6.5-7.2 6.5-6.4 6.3-7.7 5.1-9 3-10.2 2.3-11.2 1.6-12 1-12.8 0.2-13.4-0.7-13.9-1.7-14.2-2.5-14.3-3.2-14.3-3.6-14.2-3.8-13.9-3.7-13.4-3.6-12.8-3.4-12.2-3.4-11.7-5.1-11.3-4.9-10.4-4.2-9.1-3.6-7.5-2.8-5.7-1.9-4-1.2-2.3-0.4-0.7z"/>
<path d="M560.5 55.1l-0.1 0.8-0.2 2.3-0.7 4-1.5 5.9-2.6 7.7-3.9 9.5-5 10.9-5.7 11.6-3.9 11.9-3.8 12.2-3.8 12.8-3.8 13.4-3.6 13.9-3.6 14.2-3.3 14.3-2.7 14.3-2 14.2-1.1 13.9-0.1 13.4 0.8 12.8 1.6 12 2.6 11.2 3.6 10.2 5.9 9 7.3 7.9 7.4 6.6 7.2 5.2 7.3 3.7 7.4 2.2 7.2 0.8 7-0.8 7-2.4 7.1-3.9 7.3-5.2 7.9-6.4 7.9-7.7 6.3-9 3.4-10.2 1.6-11.2 0-12-1.1-12.8-1.6-13.4-1.7-13.9-1.7-14.2-1.9-14.3-2.3-14.3-3-14.2-3.6-13.9-4.1-13.4-4.2-12.8-3.9-12.2-3.5-11.9-5-11.6-4.8-10.9-4.5-9.5-4.4-7.7-4.2-5.9-3.5-4-2.5-2.3-0.9-0.8z"/>
<path d="M571.9 55.7l-1.2 0.8-2.5 2.3-3.3 4-3.9 5.8-4.4 7.7-4.7 9.4-5.3 10.7-5.8 11.5-4.1 11.8-4.7 12.2-5.4 12.8-5.9 13.4-5.9 13.9-5.6 14.2-4.6 14.3-3.5 14.3-2.1 14.2-0.9 13.9 0.3 13.4 1.2 12.8 2.3 12 3.2 11.2 4.4 10.2 7.3 9 10 8.1 9.7 6.6 9 5.6 9.4 4.3 9.8 2.8 9.8 1 9.4-0.9 8.7-2.8 7.8-4.7 7.4-5.9 8.4-6.6 9.2-7.6 6.9-8.9 4.2-10.2 3.2-11.2 1.9-12 0.7-12.8-0.6-13.4-1.6-13.9-2.4-14.2-3.2-14.3-3.8-14.3-4.2-14.2-4.7-13.9-4.9-13.4-5.2-12.8-5.2-12.2-5.1-11.8-7-11.5-6.3-10.7-5-9.4-3.9-7.7-2.9-5.8-2.2-4-1.4-2.3-0.8-0.8z"/>
<path d="M567.1 54.1l0.3 0.8-0.7 2.3-1.8 4-3 6-4.3 7.9-5.4 9.7-6.3 11.1-6.8 11.8-4.5 12-4.3 12.2-4.1 12.8-4 13.4-3.9 13.9-3.8 14.2-3.5 14.3-3.3 14.3-2.7 14.2-2 13.9-1.1 13.4 0 12.8 1.4 12 2.8 11.2 4.4 10.2 7.3 9 9.1 7.8 9.2 6.8 8.9 8.3 8.9 7.7 8.9 4.6 8.6 1.5 8.2-1.9 7.7-5.1 7.3-7.9 7.3-8.1 7.8-6.3 8.3-7.5 7.3-8.9 4.8-10.2 3.6-11.2 2.3-12 0.8-12.8-0.5-13.4-1.7-13.9-2.8-14.2-3.6-14.3-4.2-14.3-4.5-14.2-4.6-13.9-4.6-13.4-4.3-12.8-4.2-12.2-4-12-6.1-11.8-6-11.1-5.4-9.7-4.8-7.9-4-6-2.8-4-1.5-2.3-0.1-0.8z"/>
<path d="M568.2 56.6l-0.3 0.7-1.4 2.3-2.5 4-3.3 5.7-4.2 7.6-5.1 9.2-5.9 10.5-6.7 11.3-4.6 11.8-5.1 12.2-5.2 12.8-5.4 13.4-5.2 13.9-4.7 14.2-4.2 14.3-3.4 14.3-2.4 14.2-1.5 13.9-0.3 13.4 0.8 12.8 2 12 3.2 11.2 4.4 10.2 6.9 9 8.9 7.9 8.6 6.7 8.2 7.4 8.7 6.9 9.4 4.2 9.7 1.5 9.6-1.5 9.2-4.2 8.5-6.9 7.9-7.5 8.2-6.6 8.7-7.9 6.9-9 4.6-10.2 3.7-11.2 2.6-12 1.4-12.8-0.1-13.4-1.6-13.9-2.9-14.2-4.1-14.3-4.7-14.3-5.1-14.2-5-13.9-4.8-13.4-4.5-12.8-4.3-12.2-4.1-11.8-6.4-11.3-6-10.5-5.2-9.2-4.4-7.6-3.4-5.7-2.4-4-1.4-2.3-0.3-0.7z"/>
<path d="M570.5 55.6l-0.5 0.8-1.5 2.3-2.5 4-3.3 5.8-4 7.7-4.7 9.4-5.3 10.7-5.7 11.5-3.7 11.9-3.9 12.2-4 12.8-4.2 13.4-4.2 13.9-4 14.2-3.8 14.3-3.3 14.3-2.6 14.2-1.9 13.9-1.1 13.4 0 12.8 1 12 2.1 11.2 3.4 10.2 5.9 9 7.6 7.7 8 6.6 8.2 4.6 8.9 3 9.6 1.9 9.6 0.7 9.2-0.3 8.3-1.6 7.2-2.8 6.5-4.9 6.6-7 7.1-7.9 6.4-9 4.7-10.2 4.3-11.2 3.2-12 1.9-12.8 0.1-13.4-1.8-13.9-3.4-14.2-4.5-14.3-4.9-14.3-4.9-14.2-4.4-13.9-3.8-13.4-3.3-12.8-3.1-12.2-3.2-11.9-5.5-11.5-5.4-10.7-5-9.4-4.4-7.7-3.5-5.8-2.5-4-1.5-2.3-0.5-0.8z"/>
<path d="M566 53.2l-2 0.8-2.3 2.3-2.4 4.1-2.7 6-3.3 8-4.4 10-6 11.2-7.1 12-5.3 12.1-5.1 12.2-4.8 12.8-4.2 13.4-3.9 13.9-3.8 14.2-4.1 14.3-4.1 14.3-3.6 14.2-2.5 13.9-0.7 13.4 1.3 12.8 3.2 12 4.5 11.2 5.3 10.2 7.3 9 8.7 8.2 7.9 7 7.6 6.7 8.4 5.3 9.7 2.9 10.2 0.8 10.1-1.3 9.2-3.3 7.9-5.3 7.1-6.4 7.7-6.6 8.7-8 7.4-9 5.2-10.2 4.3-11.2 2.7-12 0.7-12.8-1.2-13.4-2.6-13.9-3.5-14.2-3.7-14.3-3.6-14.3-3.6-14.2-4-13.9-4.6-13.4-5.2-12.8-5.6-12.2-5.3-12.1-7-12-5.7-11.2-4.1-10-3.2-8-2.7-6-2.6-4.1-2.6-2.3-2-0.8z"/>
<path d="M570 50.6l-0.1 0.8-1.2 2.4-2.2 4.1-3.1 6.3-3.9 8.4-4.6 10.5-5.3 11.8-5.8 12.4-4.1 12.3-4.5 12.3-4.9 12.8-5 13.4-4.8 13.9-4.1 14.2-3.2 14.3-2 14.3-1 14.2-0.1 13.9 0.5 13.4 0.8 12.8 1.2 12 1.7 11.2 2.6 10.2 5.2 9 6.9 7.4 7.5 5.8 7.8 6 8.5 5.5 8.9 3.8 8.8 1.7 8.6-0.6 8-3 7.4-5.3 7.1-6.6 7.3-6.8 7.6-7.9 6.3-9 4-10.2 2.9-11.2 1.6-12 0.5-12.8-0.5-13.4-1.4-13.9-2.1-14.2-2.6-14.3-2.9-14.3-3.2-14.2-3.4-13.9-3.6-13.4-3.8-12.8-4-12.3-4.3-12.3-6.5-12.4-6.3-11.8-5.5-10.5-4.6-8.4-3.5-6.3-2.4-4.1-1.1-2.4-0.1-0.8z"/>
<path d="M569.6 56.8l-1 0.8-1.8 2.3-2.6 3.9-3.2 5.8-3.8 7.5-4.5 9.1-5.1 10.5-5.5 11.3-3.9 11.7-4 12.2-4.3 12.8-4.3 13.4-4.3 13.9-3.9 14.2-3.4 14.3-2.8 14.3-2 14.2-1.1 13.9-0.2 13.4 0.9 12.8 1.8 12 2.7 11.2 3.7 10.2 5.8 9 7 7.7 6.8 6.3 6.7 7.8 7.2 7.4 7.9 4.6 8.4 1.7 8.6-1.5 8.5-4.4 8.2-7.2 7.9-7.7 7.9-6.6 8-8.1 6.5-9 4.2-10.2 3-11.2 1.7-12 0.5-12.8-0.7-13.4-1.8-13.9-2.7-14.2-3.5-14.3-4-14.3-4.2-14.2-4.3-13.9-4.1-13.4-3.9-12.8-3.7-12.2-3.4-11.7-5.2-11.3-4.9-10.5-4.2-9.1-3.6-7.5-3-5.8-2.4-3.9-1.7-2.3-0.9-0.8z"/>
<path d="M572.7 55.4l-0.2 0.7-1.4 2.3-2.5 4-3.6 5.9-4.3 7.7-5 9.5-5.4 10.8-5.6 11.5-3.6 11.9-3.8 12.2-3.8 12.8-4 13.4-4 13.9-3.7 14.2-3.2 14.3-2.5 14.3-1.7 14.2-0.8 13.9-0.1 13.4 0.6 12.8 1.4 12 2.2 11.2 3.2 10.2 5.5 9 7.1 7.7 7.4 6.4 7.5 5.9 7.8 5 8.2 3.2 8.1 1.2 7.8-0.9 7.4-3 6.8-5 6.5-6.3 6.7-6.5 6.9-7.7 5.6-9 3.5-10.2 2.6-11.2 1.7-12 0.7-12.8 0-13.4-0.8-13.9-1.6-14.2-2.4-14.3-3.2-14.3-3.8-14.2-4.3-13.9-4.5-13.4-4.5-12.8-4.3-12.2-3.9-11.9-5.6-11.5-4.9-10.8-4.1-9.5-3.3-7.7-2.4-5.9-1.6-4-0.8-2.3 0-0.7z"/>
<path d="M568 56l-1.6 0.8-2.9 2.3-3.8 4-4.4 5.8-4.8 7.6-5.1 9.3-5.8 10.6-6.3 11.5-4.2 11.8-4.8 12.2-5.4 12.8-5.8 13.4-5.8 13.9-5.5 14.2-4.8 14.3-3.9 14.3-2.9 14.2-1.8 13.9-0.6 13.4 0.7 12.8 2 12 3.6 11.2 5.3 10.2 8.9 9 13.4 7.8 11.8 6.6 9 7.1 8.3 6.2 8.3 3.8 8.4 1.2 8.2-1.6 8.3-4.1 8.1-6.3 9-6.9 12-6.2 13.9-7.6 9.5-9 5.7-10.2 3.9-11.2 2-12 0.2-12.8-1.1-13.4-2.2-13.9-2.9-14.2-3.5-14.3-3.9-14.3-4.4-14.2-5-13.9-5.6-13.4-6-12.8-6.1-12.2-6-11.8-8.2-11.5-7.1-10.6-5.6-9.3-4.3-7.6-3.2-5.8-2.4-4-1.7-2.3-1.1-0.8z"/>
<path d="M566.8 53.5l-0.7 0.8-1.4 2.3-1.9 4.1-2.3 6-2.9 8-3.5 9.8-4.4 11.2-5.2 11.9-3.8 12.1-4.5 12.2-4.8 12.8-4.9 13.4-4.8 13.9-4.3 14.2-3.8 14.3-3 14.3-2.3 14.2-1.6 13.9-0.6 13.4 0.3 12.8 1.5 12 2.7 11.2 3.9 10.2 6.2 9 7.5 8 7.5 6.9 7.3 8.2 7.7 7.7 8.2 4.6 8.4 1.5 8.4-1.8 8-4.8 7.3-7.8 6.8-8.1 6.9-6.6 6.9-7.8 5.9-9 4-10.2 3.3-11.2 2.4-12 1.3-12.8-0.1-13.4-1.4-13.9-2.8-14.2-3.8-14.3-4.5-14.3-4.8-14.2-4.5-13.9-4.2-13.4-3.8-12.8-3.3-12.2-3.1-12.1-4.9-11.9-4.7-11.2-4.1-9.8-3.7-8-3-6-2.5-4.1-1.7-2.3-0.8-0.8z"/>
<path d="M569.1 54.7l0.2 0.8-1.1 2.3-2.3 4-3.6 5.9-4.5 7.8-5.4 9.6-6.2 11-6.5 11.6-4.4 12-4.5 12.2-4.7 12.8-4.8 13.4-4.8 13.9-4.5 14.2-4.2 14.3-3.4 14.3-2.5 14.2-1.6 13.9-0.4 13.4 0.7 12.8 1.8 12 2.9 11.2 4.2 10.2 6.7 9 8.2 8 8.2 6.7 8.2 7.4 8.6 6.6 9.2 4.1 9.4 1.4 9.4-1.5 9-4.2 8.5-6.7 8.1-7.4 8.1-6.6 8.1-7.8 6.6-9 3.9-10.2 2.5-11.2 1.2-12 0-12.8-1-13.4-1.9-13.9-2.5-14.2-2.8-14.3-3-14.3-3.2-14.2-3.4-13.9-3.7-13.4-4.1-12.8-4.5-12.2-4.7-12-7.1-11.6-6.7-11-5.8-9.6-4.5-7.8-3.2-5.9-1.9-4-0.7-2.3 0.4-0.8z"/>
<path d="M569.4 54.6l-1.5 0.7-2.8 2.4-3.4 4-3.4 5.9-3.2 7.8-3.2 9.7-3.8 10.9-4.4 11.7-3.3 12-3.9 12.2-4.5 12.8-4.5 13.4-4.2 13.9-4 14.2-3.6 14.3-3.5 14.3-3 14.2-2.4 13.9-1.1 13.4 0.5 12.8 2.4 12 4.1 11.2 5.3 10.2 7.1 9 7.7 8.2 6.6 7.1 5.8 7.2 6.1 5.7 7 3.1 7.9 0.4 8.6-1.8 8.5-3.9 8-5.8 7.3-6.1 7-6.1 7.1-8 6.2-9 4.5-10.2 3.8-11.2 2.8-12 1.3-12.8-0.7-13.4-2.6-13.9-3.9-14.2-4.5-14.3-4.3-14.3-3.6-14.2-3-13.9-2.7-13.4-2.9-12.8-3.7-12.2-4.4-12-6.7-11.7-6.2-10.9-4.9-9.7-3.3-7.8-1.9-5.9-1.1-4-0.8-2.4-0.7-0.7z"/>
<path d="M565.9 54l0.1 0.8-0.5 2.3-1 4.1-1.7 5.9-2.4 7.9-3.6 9.8-4.6 11.1-5.5 11.8-4.1 12-4.3 12.2-4.2 12.8-4 13.4-3.9 13.9-3.8 14.2-3.8 14.3-3.6 14.3-3.2 14.2-2.3 13.9-1 13.4 0.4 12.8 1.9 12 3.3 11.2 4.4 10.2 6.3 9 7.3 8.4 7.1 7.4 7.1 6.8 7.6 5.1 8.1 2.8 8.3 0.7 8.1-1.5 7.3-3.5 6.4-5.4 5.7-6.5 5.7-6.6 6.2-7.7 5.4-9 3.9-10.2 3.2-11.2 2.1-12 0.8-12.8-0.6-13.4-1.9-13.9-2.8-14.2-3.2-14.3-3.4-14.3-3.3-14.2-3.4-13.9-3.5-13.4-3.7-12.8-4.1-12.2-4.2-12-6-11.8-5.4-11.1-4.6-9.8-3.5-7.9-2.7-5.9-1.8-4.1-1.1-2.3 0-0.8z"/>
<path d="M570.3 55.9l-0.3 0.7-0.9 2.3-1.7 4-2.6 5.8-3.6 7.7-4.3 9.3-4.8 10.7-4.9 11.5-3.2 11.8-3.3 12.2-3.6 12.8-4 13.4-4 13.9-3.8 14.2-3.1 14.3-2.1 14.3-1.1 14.2-0.3 13.9 0.3 13.4 0.7 12.8 1 12 1.5 11.2 2.4 10.2 4.8 9 6.6 7.5 7.1 6 7.3 6.6 7.7 6.3 7.7 4.2 7.4 1.8 7-1 6.6-3.7 6.2-6.3 6-7.2 6.3-6.6 6.4-7.6 5.1-9 3.1-10.2 2.2-11.2 1.6-12 1-12.8 0.6-13.4-0.2-13.9-1-14.2-2.2-14.3-3.2-14.3-4.1-14.2-4.3-13.9-4.2-13.4-3.5-12.8-2.7-12.2-2.3-11.8-4-11.5-4.1-10.7-4.3-9.3-4.4-7.7-4.1-5.8-3.4-4-2.2-2.3-0.8-0.7z"/>
<path d="M569.7 55.5l-0.7 0.8-0.9 2.3-1.4 4-2.3 5.8-3.6 7.7-5.2 9.5-7 10.7-8.1 11.5-6.2 11.9-6.2 12.2-6 12.8-5.5 13.4-4.9 13.9-4.5 14.2-4 14.3-3.2 14.3-2.4 14.2-1.3 13.9-0.1 13.4 1.1 12.8 2.3 12 3.4 11.2 4.4 10.2 7.2 9 9.9 7.8 9.2 6.3 8.1 5.6 8.3 4.4 8.7 2.7 9 1 8.8-0.9 8.4-2.6 8.1-4.4 8.3-5.7 10-6.4 11.4-7.8 8.8-9 5.8-10.2 4.3-11.2 2.6-12 0.8-12.8-0.8-13.4-2-13.9-3-14.2-3.8-14.3-4.3-14.3-4.8-14.2-5.1-13.9-5.3-13.4-5-12.8-4.5-12.2-4-11.9-5.9-11.5-5.3-10.7-4.8-9.5-4.5-7.7-4.3-5.8-3.8-4-2.9-2.3-1.3-0.8z"/>
<path d="M569.2 55.8l0.2 0.8-0.8 2.3-2 4-3.3 5.8-4.6 7.6-5.5 9.4-6.1 10.7-6.2 11.5-3.8 11.8-3.8 12.2-4.3 12.8-4.6 13.4-5 13.9-4.7 14.2-4 14.3-2.8 14.3-1.4 14.2 0 13.9 0.8 13.4 1.3 12.8 1.6 12 2.1 11.2 3.1 10.2 5.9 9 8 7.7 8.7 6 9 5.8 9.2 5.2 9.1 3.6 8.5 1.6 7.7-0.7 7.3-3.2 7.1-5.5 7.4-6.6 8.3-6.5 8.7-7.5 7.3-8.9 4.5-10.2 2.7-11.2 1.2-12 0.1-12.8-0.8-13.4-1.4-13.9-1.9-14.2-2.6-14.3-3.4-14.3-4.2-14.2-4.7-13.9-4.8-13.4-4.6-12.8-3.9-12.2-3.6-11.8-5.5-11.5-5.4-10.7-5.2-9.4-4.9-7.6-4.4-5.8-3.4-4-2-2.3-0.2-0.8z"/>
<path d="M565.7 56.9l0.1 0.8-1.5 2.3-2.9 3.9-4.1 5.7-4.8 7.5-5.2 9.1-5.4 10.5-5.1 11.3-2.9 11.7-2.9 12.2-3.3 12.8-3.8 13.4-4.2 13.9-4.5 14.2-4.1 14.3-3.5 14.3-2.4 14.2-1.3 13.9-0.1 13.4 0.9 12.8 1.9 12 2.6 11.2 3.6 10.2 6 9 7.4 7.8 7.8 6.6 8 5.5 8.6 4.4 9 2.8 9 1.1 8.6-0.7 7.9-2.6 7.1-4.4 6.6-5.9 7-6.8 7.5-7.8 6.6-9 4.7-10.2 3.6-11.2 2.2-12 0.7-12.8-0.9-13.4-2.3-13.9-3.3-14.2-3.7-14.3-3.9-14.3-3.6-14.2-3.4-13.9-3.2-13.4-3.4-12.8-3.9-12.2-4.4-11.7-6.9-11.3-6.7-10.5-6-9.1-4.7-7.5-3.2-5.7-1.8-3.9-0.5-2.3 0.4-0.8z"/>
<path d="M570.2 56.8l-1.4 0.8-2.6 2.3-3.4 4-4 5.7-4.4 7.5-5 9.1-5.9 10.5-6.6 11.3-4.5 11.7-5.1 12.2-5.6 12.8-5.9 13.4-5.9 13.9-5.6 14.2-5.2 14.3-4.4 14.3-3.5 14.2-2.2 13.9-0.8 13.4 0.9 12.8 2.5 12 4.2 11.2 5.6 10.2 8.9 9 12.6 8.1 10.9 6.9 8.5 8.1 8.2 7.4 8.6 4.4 8.9 1.1 8.9-2 8.6-5 7.8-7.7 7.9-7.7 10.2-6.1 11.8-7.5 8.3-9 5.6-10.2 4.7-11.2 3.5-12 2.1-12.8 0.3-13.4-1.5-13.9-3-14.2-4.3-14.3-5-14.3-5.2-14.2-5.1-13.9-5-13.4-4.7-12.8-4.6-12.2-4.6-11.7-7-11.3-6.6-10.5-5.7-9.1-4.8-7.5-3.8-5.7-3.1-4-2.2-2.3-1.3-0.8z"/>
<path d="M569.9 58.4l-0.8 0.7-1.7 2.3-2.4 3.9-3 5.6-3.6 7.3-4.4 8.8-5.1 10.1-5.6 11.1-3.8 11.6-4 12.1-4.2 12.8-4.1 13.4-4 13.9-3.8 14.2-3.4 14.3-3 14.3-2.3 14.2-1.5 13.9-0.7 13.4 0.4 12.8 1.4 12 2.7 11.2 3.8 10.2 6.1 9 7.5 7.8 7.3 6.6 7.1 6 7.4 4.8 7.6 2.9 7.8 0.9 7.8-1.1 7.6-3.1 7.4-4.9 7.2-5.8 7.4-6.4 7.5-7.7 6.2-9 3.8-10.2 2.8-11.2 1.8-12 0.8-12.8-0.1-13.4-1-13.9-1.7-14.2-2.6-14.3-3.3-14.3-4-14.2-4.4-13.9-4.6-13.4-4.5-12.8-4.1-12.1-3.7-11.6-5.1-11.1-4.5-10.1-3.8-8.8-3.2-7.3-2.7-5.6-2.2-3.9-1.7-2.3-0.8-0.7z"/>
<path d="M571.7 52.4l-0.8 0.7-2 2.4-2.9 4.1-3.4 6.1-3.7 8.2-3.9 10-4.1 11.5-4.4 12.1-2.8 12.1-3.3 12.3-3.7 12.8-4.1 13.4-4.1 13.9-4 14.2-3.4 14.3-2.8 14.3-2 14.2-1.1 13.9-0.3 13.4 0.7 12.8 1.7 12 2.7 11.2 3.7 10.2 5.8 9 7 7.9 6.8 6.6 6.4 7.3 6.5 6.5 6.7 3.9 6.8 1.3 6.9-1.6 6.9-4.3 6.7-6.6 6.8-7.1 7.1-6.2 7.3-7.7 6.2-9 3.9-10.2 2.7-11.2 1.5-12 0.2-12.8-0.9-13.4-1.8-13.9-2.4-14.2-2.8-14.3-3-14.3-3-14.2-3.2-13.9-3.3-13.4-3.5-12.8-3.7-12.3-3.8-12.1-5.6-12.1-5.1-11.5-4.1-10-3.2-8.2-2.2-6.1-1.4-4.1-0.8-2.4-0.4-0.7z"/>
<path d="M573.2 52.4l-0.4 0.8-1.9 2.3-2.9 4.1-3.6 6.1-4.1 8.2-4.6 10.1-5.4 11.4-6.3 12.1-4.8 12.1-5.4 12.3-5.4 12.8-5 13.4-4.2 13.9-3.1 14.2-2.4 14.3-1.7 14.3-1.5 14.2-1.2 13.9-0.8 13.4 0 12.8 1.3 12 2.9 11.2 4.5 10.2 7.1 9 8.5 7.8 8.3 6.8 7.9 7.3 8.1 6.4 8.6 3.8 9 1 9-1.8 8.5-4.3 7.5-6.5 6.4-6.9 5.9-6.3 5.5-7.4 4.2-8.9 2.5-10.2 2.2-11.2 1.8-12 1.3-12.8 0.5-13.4-0.7-13.9-1.8-14.2-2.7-14.3-3.3-14.3-3.5-14.2-3.6-13.9-3.8-13.4-4.1-12.8-4.6-12.3-4.9-12.1-7-12.1-6.2-11.4-5-10.1-3.3-8.2-1.8-6.1-0.7-4.1-0.1-2.3 0.3-0.8z"/>
<path d="M573 52.4l-0.5 0.8-2.2 2.3-3.5 4.1-4.2 6.1-4.4 8.2-4.6 10.1-5 11.4-5.5 12.1-4.1 12.1-5 12.3-5.7 12.8-6 13.4-5.5 13.9-4.5 14.2-3.3 14.3-2 14.3-1.3 14.2-0.6 13.9-0.2 13.4 0.5 12.8 1.4 12 2.8 11.2 4.4 10.2 7.1 9 8.6 7.6 8.1 6.3 7.5 7 7.5 6.3 8 3.9 8.5 1.2 9-1.6 9.4-4 9.2-6.3 8.7-6.6 8.3-6.1 7.8-7.7 5.9-9 3.4-10.2 2.5-11.2 1.7-12 1-12.8 0-13.4-1.2-13.9-2.4-14.2-3.4-14.3-4-14.3-4.1-14.2-3.9-13.9-3.5-13.4-3.5-12.8-3.7-12.3-4.4-12.1-7-12.1-6.9-11.4-6-10.1-4.6-8.2-3-6.1-1.4-4.1-0.4-2.3 0.2-0.8z"/>
<path d="M567 57.8l-0.2 0.8-1.8 2.3-3.4 3.9-4.6 5.6-5.6 7.4-6.1 8.9-6.6 10.3-6.7 11.1-4.3 11.7-4.6 12.1-5.1 12.8-5.7 13.4-5.9 13.9-5.5 14.2-4.8 14.3-3.5 14.3-2.1 14.2-0.5 13.9 0.7 13.4 1.6 12.8 2.6 12 3.3 11.2 4.3 10.2 7.5 9 11.5 7.8 10.5 6.2 8.7 7.2 8.8 7 9.3 4.5 9.3 1.8 9-1.2 8.4-4.1 7.9-7.1 8.2-7.7 10.5-6.6 12.3-7.8 8.7-9 5.6-10.2 4.2-11.2 2.6-12 0.8-12.8-0.8-13.4-2.4-13.9-3.5-14.2-4.3-14.3-4.8-14.3-4.9-14.2-4.9-13.9-4.9-13.4-4.8-12.8-5-12.1-5.1-11.7-7.9-11.1-7.4-10.3-6.4-8.9-5.2-7.4-3.8-5.6-2.4-3.9-1-2.3 0.2-0.8z"/>
<path d="M567.4 54.5l-0.5 0.7-1.2 2.3-2.1 4.1-2.9 5.9-3.8 7.8-4.6 9.7-5.3 11-5.7 11.7-3.7 12-3.9 12.2-4.1 12.8-4.2 13.4-4.2 13.9-4.1 14.2-3.7 14.3-3.1 14.3-2.3 14.2-1.4 13.9-0.3 13.4 1 12.8 2.5 12 3.9 11.2 5.2 10.2 7.5 9 8.3 8.1 7.6 6.9 6.6 5.8 6.2 4.3 6.3 2.3 6.7 0.3 7.1-1.7 7.7-3.3 7.9-4.7 7.9-5.1 8.1-5.6 7.7-7.3 5.9-9 3.5-10.2 2.4-11.2 1.6-12 1.1-12.8 0.4-13.4-0.5-13.9-1.8-14.2-3.2-14.3-4.4-14.3-5.1-14.2-5.3-13.9-4.7-13.4-3.8-12.8-2.9-12.2-2.3-12-4.3-11.7-4.4-11-4.4-9.7-4.4-7.8-4-5.9-3.4-4.1-2.2-2.3-0.9-0.7z"/>
<path d="M567.3 52l-2.4 0.7-2.9 2.4-2.9 4.1-2.6 6.1-2.6 8.3-3 10.1-4.2 11.6-5.6 12.1-4.7 12.2-5.5 12.3-5.8 12.8-5.3 13.4-4.4 13.9-3.3 14.2-2.4 14.3-2 14.3-2 14.2-2.1 13.9-1.8 13.4-0.9 12.8 0.7 12 2.6 11.2 4.8 10.2 7.8 8.9 9.4 7.6 8.8 6.8 8 6 7.7 4.5 8 2.4 8.4 0.4 9-1.4 9.3-3 9.1-4.3 8.5-5.1 8-6.2 7.3-7.6 5.2-9 2.5-10.2 1.6-11.2 1.1-12 1-12.8 0.6-13.4 0.1-13.9-0.8-14.2-2-14.3-3.3-14.3-4.6-14.2-5.5-13.9-5.9-13.4-5.9-12.8-5.3-12.3-4.5-12.2-5.6-12.1-4.4-11.6-3.3-10.1-2.5-8.3-2.3-6.1-2.4-4.1-2.5-2.4-2.3-0.7z"/>
<path d="M572.2 55.7l0.6 0.7-0.5 2.4-2 4-3.5 5.8-4.9 7.6-5.7 9.4-6.2 10.7-5.9 11.6-3.3 11.8-3.3 12.2-3.6 12.8-4.4 13.4-5.1 13.9-5.5 14.2-5.1 14.3-4 14.3-2.3 14.2-0.8 13.9 0.6 13.4 1.4 12.8 1.9 12 2.3 11.2 3 10.2 5.3 9 7.1 8.1 7.9 6.5 8.3 8.1 8.9 8.2 9.2 5.3 9 2.3 8.5-1.4 7.9-4.9 7.6-8.4 7.5-9 8.1-7 8.4-7.8 6.9-9 4.2-10.2 2.6-11.2 1.2-12 0.1-12.8-0.7-13.4-1.3-13.9-2-14.2-2.8-14.3-3.6-14.3-4.5-14.2-5-13.9-5.1-13.4-4.7-12.8-4-12.2-3.4-11.8-5-11.6-4.8-10.7-4.5-9.4-4.1-7.6-3.6-5.8-2.5-4-1.1-2.4 0.3-0.7z"/>
<path d="M570.1 54.7l-1.1 0.7-2.1 2.4-2.7 4-2.8 5.9-2.8 7.8-3.1 9.6-3.6 11-4.6 11.6-3.7 12-4.5 12.2-5.1 12.8-5 13.4-4.4 13.9-3.5 14.2-2.6 14.3-1.6 14.3-1.1 14.2-0.5 13.9 0 13.4 0.7 12.8 1.5 12 2.5 11.2 3.3 10.2 5.1 9 6 7.6 5.6 6.1 5.3 4.8 5.8 3.5 6.7 2.1 7.4 0.7 8-0.6 8.1-1.8 7.7-3.1 7.1-4.6 6.9-6.5 6.7-8.1 5.5-9.1 3.6-10.2 2.9-11.2 1.9-12 0.8-12.8-0.7-13.4-1.9-13.9-3-14.2-3.4-14.3-3.4-14.3-3-14.2-2.5-13.9-2.3-13.4-2.4-12.8-2.9-12.2-3.6-12-5.7-11.6-5.6-11-4.7-9.6-3.5-7.8-2.5-5.9-1.5-4-1.1-2.4-0.6-0.7z"/>
<path d="M570 53.9l-1.1 0.7-3 2.4-4.4 4-5.3 6-5.6 7.9-5.6 9.8-5.9 11.1-6.1 11.8-3.8 12.1-4.4 12.2-5.1 12.8-5.7 13.4-6 13.9-5.9 14.2-5.4 14.3-4.6 14.3-3.4 14.2-2.1 13.9-0.5 13.4 1.3 12.8 2.9 12 4.6 11.2 5.9 10.2 9 9 12.9 8.2 10.9 6.9 8.2 5.2 8 3.4 9 1.7 9.6 0.3 9.8-1.1 9.3-2.3 8.4-3.5 7.9-4.8 9.9-6.3 11.4-7.7 7.5-9 5-10.2 4.5-11.2 3.9-12 2.6-12.8 0.7-13.4-1.4-13.9-3.4-14.2-4.9-14.3-5.7-14.3-5.6-14.2-5.3-13.9-4.7-13.4-4.6-12.8-4.7-12.2-5.2-12.1-8.1-11.8-7.7-11.1-6.5-9.8-5-7.9-3.4-6-1.9-4-0.9-2.4-0.3-0.7z"/>
<path d="M569.1 56.2l-0.9 0.8-2.1 2.3-3 4-3.8 5.7-4.2 7.6-4.7 9.3-5.2 10.6-5.6 11.4-3.8 11.8-4.2 12.2-4.5 12.8-4.6 13.4-4.3 13.9-3.7 14.2-2.9 14.3-2 14.3-1.1 14.2-0.4 13.9 0 13.4 0.4 12.8 0.8 12 1.6 11.2 2.5 10.2 5.1 8.9 6.8 7.2 7.2 5.8 7.4 3.8 8.2 2.6 8.6 2 9 1.1 8.9 0.2 8.6-0.9 8.3-2.1 8.1-4.3 8.3-7 8.4-8.3 6.9-9 4.3-10.2 2.8-11.2 1.4-12 0-12.8-1.1-13.4-2-13.9-2.6-14.2-3-14.3-3.3-14.3-3.5-14.2-3.8-13.9-4-13.4-4.3-12.8-4.3-12.2-4.4-11.8-6.3-11.4-5.6-10.6-4.6-9.3-3.6-7.6-2.7-5.7-1.8-4-1.2-2.3-0.5-0.8z"/>
<path d="M567.7 52.7l0.2 0.7-1.2 2.4-2.7 4.1-3.9 6-4.8 8.2-5.3 10-5.5 11.4-5.5 12-3.1 12.2-3.3 12.2-3.5 12.8-4.1 13.4-4.4 13.9-4.5 14.2-4.2 14.3-3.5 14.3-2.4 14.2-1.2 13.9 0 13.4 1.2 12.8 2.2 12 3.1 11.2 4.1 10.2 6.1 9 7.3 8 7.3 6.5 7.2 5.9 7.8 4.7 8.4 2.9 8.9 1 8.8-1 8.3-2.9 7.7-4.7 6.9-6 6.9-6.5 7.2-7.9 6-9 4.3-10.2 3.6-11.2 2.8-12 1.6-12.8 0.1-13.4-1.5-13.9-3.1-14.2-4.2-14.3-4.8-14.3-4.7-14.2-4.2-13.9-3.6-13.4-3.1-12.8-3.1-12.2-3.3-12.2-6-12-6.2-11.4-5.8-10-5-8.2-3.7-6-2.3-4.1-0.8-2.4 0.5-0.7z"/>
<path d="M568.1 54.1l-1.3 0.8-2.4 2.3-3.1 4.1-3.6 5.9-4.2 7.9-4.8 9.7-5.5 11.1-6 11.8-4.1 12-4.3 12.2-4.5 12.8-4.5 13.4-4.4 13.9-4.2 14.2-3.7 14.3-3.2 14.3-2.5 14.2-1.7 13.9-0.7 13.4 0.4 12.8 1.7 12 3 11.2 4.3 10.2 7.1 9 9.1 7.5 8.7 6.5 8 4.7 8.3 3.1 8.8 1.9 9.1 0.6 9.3-0.6 9-1.8 8.6-2.9 8.3-4.5 8.9-6.5 9.2-8 7.3-9 4.6-10.2 3.4-11.2 2.3-12 1-12.8-0.1-13.4-1.2-13.9-2.4-14.2-3.4-14.3-4.3-14.3-4.8-14.2-5.3-13.9-5.3-13.4-5.3-12.8-5-12.2-4.5-12-6.5-11.8-5.6-11.1-4.8-9.7-3.9-7.9-3.3-5.9-2.7-4.1-2.1-2.3-1.2-0.8z"/>
<path d="M569.7 54.3l-0.6 0.8-1.5 2.3-2.3 4-2.8 6-3 7.8-3.2 9.7-3.2 11-3.4 11.8-2.1 12-2.4 12.2-3 12.8-3.3 13.4-3.6 13.9-3.5 14.2-3 14.3-2.3 14.3-1.4 14.2-0.5 13.9 0.3 13.4 0.9 12.8 1.3 12 1.9 11.2 2.3 10.2 3.9 9 4.9 7.9 5.1 6.4 5.2 3.4 5.7 1.6 6.2 1.1 6.3 0.5 6.3-0.1 5.9-0.7 5.4-1.6 5.2-3.8 5.2-6.8 5.4-7.9 4.5-9 3-10.2 2.1-11.2 1.2-12 0.3-12.8-0.6-13.4-1.4-13.9-1.8-14.2-2.2-14.3-2.4-14.3-2.5-14.2-2.6-13.9-2.7-13.4-2.8-12.8-3.1-12.2-3.1-12-4.5-11.8-4-11-3.4-9.7-2.5-7.8-1.8-6-1.1-4-0.6-2.3-0.3-0.8z"/>
<path d="M570.9 53.6l-1.9 0.8-3.2 2.3-3.8 4.1-3.6 6-3.1 8-3 9.8-3.5 11.2-4.5 11.8-3.6 12.1-4.7 12.2-5.4 12.8-5.5 13.4-4.9 13.9-3.9 14.2-3.2 14.3-2.5 14.3-2.2 14.2-1.9 13.9-1.1 13.4 0.2 12.8 1.9 12 3.6 11.2 5.1 10.2 7.2 9 7.8 7.8 6.9 6.8 6.2 7.5 6.6 6.3 7.9 3.6 9.3 0.8 10.2-1.8 10.3-4 9.3-6 7.7-6.5 6.5-6.3 5.6-8.2 4.2-9 2.6-10.2 2.9-11.2 3-12 2.6-12.8 1.3-13.4-0.6-13.9-2.5-14.2-4.1-14.3-4.8-14.3-4.7-14.2-4.2-13.9-3.7-13.4-3.5-12.8-3.8-12.2-4.2-12.1-6.6-11.8-6.2-11.2-5.1-9.8-3.7-8-2.3-6-1.4-4.1-1-2.3-1-0.8z"/>
<path d="M564.9 56.8l-0.7 0.8-2.2 2.3-3.3 3.9-3.9 5.7-4 7.5-4 9.2-4.1 10.5-4.2 11.3-2.5 11.7-3 12.2-3.6 12.8-4 13.4-4.1 13.9-3.9 14.2-3.3 14.3-2.3 14.3-1.3 14.2-0.3 13.9 0.5 13.4 1 12.8 1.4 12 1.8 11.2 2.2 10.2 4.2 9 5.7 7.6 6.3 6 6.8 6.2 7.8 5.7 8.4 3.9 8.4 1.7 7.6-0.5 6.7-3 5.7-5.5 5.3-7 6-7.1 6.9-8 6.7-9 5.3-10.2 4.2-11.2 2.5-12 0.3-12.8-1.7-13.4-3.4-13.9-4.2-14.2-4.1-14.3-3.5-14.3-2.6-14.2-1.9-13.9-2-13.4-2.5-12.8-3.3-12.2-4.3-11.7-6.4-11.3-6.1-10.5-4.9-9.2-3.3-7.5-1.9-5.7-0.8-3.9-0.2-2.3 0.1-0.8z"/>
<path d="M571.4 52.8l-1.7 0.7-2.9 2.3-3.9 4.1-4.1 6.1-4.2 8.1-4.2 10-4.5 11.4-4.7 12-3.2 12.2-3.8 12.2-4.4 12.8-4.9 13.4-4.9 13.9-4.5 14.2-3.8 14.3-3 14.3-2 14.2-1.1 13.9-0.2 13.4 1 12.8 2.1 12 3.3 11.2 4.4 10.2 6.7 9 7.8 7.9 7.3 6.5 6.9 6.8 7.1 5.8 7.8 3.5 8.3 1 8.9-1.4 8.9-3.8 8.5-5.8 7.9-6.4 7.6-6.3 7.3-7.8 5.7-9 3.4-10.2 2.7-11.2 2-12 1.3-12.8 0.4-13.4-0.7-13.9-2.1-14.2-3.2-14.3-4.2-14.3-4.8-14.2-5-13.9-4.8-13.4-4.5-12.8-4.2-12.2-3.8-12.2-5.6-12-5-11.4-4-10-3.1-8.1-2.3-6.1-1.7-4.1-1.3-2.3-1-0.7z"/>
<path d="M568.6 54.8l-1.5 0.8-2.5 2.3-2.9 4-3 5.9-3.2 7.8-3.6 9.6-4.7 10.9-5.7 11.7-4.4 11.9-5.2 12.2-5.4 12.8-5.2 13.4-4.4 13.9-3.7 14.2-3 14.3-2.6 14.3-2.2 14.2-1.8 13.9-1 13.4 0.1 12.8 1.7 12 3.2 11.2 4.6 10.2 6.8 9 7.9 7.6 7.2 6.7 6.9 6.9 7.4 5.9 8.4 3.5 9.4 0.9 10-1.4 9.8-3.6 8.9-5.6 7.7-6.3 7-6.5 6.8-8.1 5.4-9 3.5-10.2 3.3-11.2 2.8-12 2-12.8 0.6-13.4-1.1-13.9-2.6-14.2-3.7-14.3-4.4-14.3-4.5-14.2-4.3-13.9-4-13.4-3.9-12.8-4-12.2-4.2-11.9-6.3-11.7-5.9-10.9-4.9-9.6-3.8-7.8-2.8-5.9-2.1-4-1.7-2.3-1.2-0.8z"/>
<path d="M568.3 57.4l-1.3 0.8-2.5 2.3-3.2 3.9-3.7 5.6-4.1 7.5-4.8 9-5.5 10.3-6.3 11.2-4.4 11.7-4.8 12.2-4.9 12.8-4.7 13.4-4.2 13.9-3.6 14.2-2.9 14.3-2.4 14.3-1.8 14.2-1.4 13.9-0.6 13.4 0.2 12.8 1.5 12 2.7 11.2 4.2 10.2 6.8 9 8.4 7.5 8.4 6.4 8.1 5 8.5 3.6 9.1 2.2 9.2 0.8 9.3-0.8 8.9-2 8.4-3.4 7.9-5 8.2-6.5 8.3-7.8 6.9-9 4.6-10.2 3.3-11.2 1.9-12 0.4-12.8-1-13.4-2.2-13.9-3.2-14.2-3.8-14.3-4-14.3-4.2-14.2-4.2-13.9-4.3-13.4-4.4-12.8-4.6-12.2-4.5-11.7-6.5-11.2-5.8-10.3-4.6-9-3.6-7.5-2.7-5.6-2-3.9-1.5-2.3-1-0.8z"/>
<path d="M571.5 53.9l0.2 0.7-1.6 2.3-3.1 4.1-4.6 6-5.7 7.9-6.5 9.8-6.9 11.1-6.8 11.8-4.3 12.1-3.9 12.2-3.7 12.8-3.4 13.4-3.4 13.9-3.3 14.2-3.2 14.3-2.8 14.3-2.4 14.2-1.6 13.9-0.7 13.4 0.5 12.8 1.9 12 3.1 11.2 4.3 10.2 6.8 9 8 7.6 7.6 6.4 7.3 5.7 7.4 4.5 7.9 2.7 8.2 0.7 8.5-1 8.5-2.8 8.4-4.3 8.4-5.4 8.9-6.2 9.1-7.9 7.8-9 5.2-10.2 3.7-11.2 1.9-12 0-12.8-1.6-13.4-2.9-13.9-3.9-14.2-4.3-14.3-4.2-14.3-3.8-14.2-3.4-13.9-3.2-13.4-3.2-12.8-3.6-12.2-4-12.1-6.6-11.8-6.4-11.1-5.6-9.8-4.5-7.9-3-6-1.6-4.1-0.4-2.3 0.5-0.7z"/>
<path d="M570 54.6l-1.7 0.7-2.5 2.3-2.9 4.1-3.2 5.9-3.3 7.8-3.7 9.6-4.3 11-4.8 11.7-3.3 12-3.7 12.2-4 12.8-4.2 13.4-4 13.9-3.8 14.2-3.6 14.3-3.2 14.3-2.7 14.2-2.1 13.9-1.2 13.4 0 12.8 1.3 12 2.8 11.2 4.3 10.2 6.8 9 8 7.8 7.9 6.9 7.4 4.8 7.5 2.9 7.8 1.5 8.1 0.2 8.2-0.8 8.3-2 7.9-2.9 7.7-4.4 7.7-6.3 7.4-7.7 5.8-9 3.1-10.2 1.8-11.2 0.7-12-0.2-12.8-0.9-13.4-1.2-13.9-1.6-14.2-1.9-14.3-2.4-14.3-2.9-14.2-3.5-13.9-4.1-13.4-4.3-12.8-4.5-12.2-4.3-12-5.9-11.7-5-11-4-9.6-3.2-7.8-2.7-5.9-2.3-4.1-2-2.3-1.4-0.7z"/>
<path d="M568.8 58.2l-1.3 0.7-1.3 2.3-1.3 3.9-1.5 5.6-2.5 7.3-3.7 8.9-5.3 10.2-6.4 11-4.7 11.7-4.5 12.1-4 12.8-3.2 13.4-2.7 13.9-2.5 14.2-2.6 14.3-2.9 14.3-3 14.2-2.5 13.9-1.6 13.4-0.3 12.8 1.1 12 2.7 11.2 3.8 10.2 6.1 8.9 7.2 7.6 7 6.7 6.7 5.6 7.1 4.1 7.5 2.2 7.9 0.7 8-0.9 7.9-2.4 7.6-3.7 7.3-5.2 7.6-6.6 7.7-8 6.4-9 4-10.2 2.7-11.2 1.5-12 0.5-12.8-0.3-13.4-0.8-13.9-1.2-14.2-1.7-14.3-2.4-14.3-3.4-14.2-4.4-13.9-5.3-13.4-5.7-12.8-5.3-12.1-4.4-11.7-5.4-11-4.1-10.2-3.1-8.9-2.8-7.3-2.8-5.6-2.9-3.9-2.7-2.3-1.8-0.7z"/>
<path d="M569 55.5l-0.9 0.8-1.9 2.3-2.6 4-3.2 5.8-3.7 7.7-4.4 9.4-5.1 10.8-5.6 11.5-3.9 11.9-4.1 12.2-3.9 12.8-3.7 13.4-3.4 13.9-3.1 14.2-2.8 14.3-2.5 14.3-2 14.2-1.3 13.9-0.4 13.4 0.7 12.8 1.7 12 2.6 11.2 3.4 10.2 5.3 9 6.3 7.5 6.3 6.3 6.3 4.9 7.2 3.6 8.2 2.1 8.8 0.9 9.1-0.4 8.7-1.7 7.8-3 7.1-4.9 7-6.9 7-8.4 5.9-9 4-10.2 3.2-11.2 2.1-12 0.8-12.8-0.6-13.4-1.9-13.9-2.8-14.2-3.5-14.3-3.8-14.3-3.7-14.2-3.8-13.9-3.8-13.4-3.9-12.8-4.2-12.2-4.2-11.9-6-11.5-5.3-10.8-4.3-9.4-3.2-7.7-2.4-5.8-1.8-4-1.2-2.3-0.6-0.8z"/>
<path d="M571.5 54.6l-0.9 0.7-2.3 2.3-3.4 4.1-3.9 5.9-4.4 7.8-4.7 9.7-5.3 10.9-5.8 11.7-4 12-4.9 12.2-5.4 12.8-5.8 13.4-5.5 13.9-5 14.2-4.2 14.3-3.2 14.3-2.4 14.2-1.5 13.9-0.7 13.4 0.5 12.8 1.9 12 3.4 11.2 4.9 10.2 7.8 9 9.9 7.8 9.1 6.7 7.8 6.2 7.8 5 8.3 3 8.9 0.8 9.5-1.4 9.6-3.3 9.2-5 8.9-5.8 9.2-6.2 9.3-7.8 6.6-9 3.9-10.2 2.9-11.2 2.1-12 1.2-12.8 0.1-13.4-1.1-13.9-2.5-14.2-3.6-14.3-4.3-14.3-4.7-14.2-4.6-13.9-4.4-13.4-4.3-12.8-4.2-12.2-4.3-12-7-11.7-6.6-10.9-5.8-9.7-4.7-7.8-3.4-5.9-2.3-4.1-1.3-2.3-0.4-0.7z"/>
<path d="M569.5 52.2l-1.7 0.8-2.3 2.3-2.4 4.2-2.8 6.1-3.1 8.2-4 10.1-5 11.5-6.1 12.1-4.5 12.1-5.1 12.3-5.1 12.8-4.9 13.4-4.4 13.9-3.6 14.2-2.8 14.3-2.1 14.3-1.4 14.2-0.6 13.9 0.2 13.4 1 12.8 1.9 12 2.8 11.2 3.7 10.2 6.1 9 7.4 7.5 7.6 6.1 7.6 5.7 8.4 4.9 9.2 3.1 9.5 1.2 9.4-0.7 8.7-2.8 7.5-4.7 6.7-5.9 6.4-6.6 6.7-7.8 5.7-9 4-10.2 3.6-11.2 2.9-12 1.9-12.8 0.6-13.4-1-13.9-2.4-14.2-3.6-14.3-4.4-14.3-4.9-14.2-4.8-13.9-4.6-13.4-4.2-12.8-3.8-12.3-3.4-12.1-5.3-12.1-4.9-11.5-4.3-10.1-4-8.2-3.7-6.1-3.4-4.2-2.9-2.3-2-0.8z"/>
<path d="M569.6 54.3l-0.5 0.8-1.1 2.3-1.4 4.1-2.1 5.9-2.9 7.9-3.9 9.6-5 11.1-5.6 11.7-4.1 12-3.7 12.2-3.2 12.8-2.7 13.4-2.2 13.9-2.2 14.2-2.3 14.3-2.3 14.3-2.2 14.2-1.7 13.9-0.8 13.4 0.3 12.8 1.3 12 2.3 11.2 3 10.2 4.6 9 5.6 7.7 5.6 6.7 5.7 5.7 6.5 4.3 7.2 2.6 7.4 0.9 7.3-0.8 6.6-2.5 5.8-4.2 5.1-5.8 5.3-6.7 5.4-7.9 4.6-9 2.9-10.2 2.1-11.2 1.1-12 0.1-12.8-0.7-13.4-1.1-13.9-1.2-14.2-1.2-14.3-1.4-14.3-1.7-14.2-2.4-13.9-3.3-13.4-4-12.8-4.5-12.2-4.4-12-5.4-11.7-4.3-11.1-3.2-9.6-2.3-7.9-1.7-5.9-1.4-4.1-1.1-2.3-0.6-0.8z"/>
<path d="M567.2 57.6l-0.6 0.8-1.7 2.3-2.3 3.9-2.8 5.6-3.3 7.4-3.8 9-4.5 10.3-5.2 11.2-4 11.7-4.6 12.1-5.2 12.8-5.3 13.4-5 13.9-4.1 14.2-3.1 14.3-2.1 14.3-1.1 14.2-0.6 13.9-0.2 13.4 0.3 12.8 1 12 2 11.2 3.3 10.2 6.1 9 7.7 7.6 7.9 6.2 7.7 8.6 7.7 8.8 7.8 5.7 7.8 2 7.8-1.8 7.8-5.5 7.9-8.7 7.9-8.7 8.2-6.5 8.3-7.7 6.7-9 3.9-10.2 2.4-11.2 1-12-0.2-12.8-1.2-13.4-1.9-13.9-2.5-14.2-2.9-14.3-3.2-14.3-3.5-14.2-3.5-13.9-3.7-13.4-3.6-12.8-3.7-12.1-3.7-11.7-5.8-11.2-5.5-10.3-4.9-9-4.1-7.4-3.2-5.6-2.4-3.9-1.5-2.3-0.7-0.8z"/>
<path d="M568.9 52.6l0.2 0.7-1 2.4-2.3 4.1-3.7 6.1-4.6 8.1-5.1 10-5.3 11.4-5.1 12.1-2.7 12.2-2.7 12.2-3.1 12.8-3.8 13.4-4.4 13.9-4.6 14.2-4.1 14.3-3.2 14.3-2 14.2-0.8 13.9 0.2 13.4 0.9 12.8 1.4 12 2 11.2 3 10.2 5.5 9 7.4 7.9 7.8 6.4 7.9 6.4 8.1 5.9 7.9 3.8 7.4 1.5 6.8-1.1 6.4-3.7 6.4-6.2 6.5-7 7.4-6.5 7.8-7.4 6.7-9 4.3-10.2 2.9-11.2 1.5-12 0.3-12.8-0.6-13.4-1.3-13.9-2.1-14.2-2.7-14.3-3.4-14.3-3.9-14.2-4.2-13.9-4.2-13.4-3.9-12.8-3.5-12.2-3.1-12.2-5-12.1-4.9-11.4-4.6-10-4.1-8.1-3.4-6.1-2.3-4.1-1.2-2.4 0.2-0.7z"/>
<path d="M568.3 55.2l0.5 0.8-0.7 2.3-2 4-3.3 5.9-4.4 7.7-5.3 9.5-5.9 10.8-6.1 11.6-3.9 11.9-3.9 12.2-3.7 12.8-3.7 13.4-3.7 13.9-3.5 14.2-3.4 14.3-3.1 14.3-2.8 14.2-2 13.9-1.1 13.4 0.4 12.8 2.2 12 3.9 11.2 5.4 10.2 7.6 9 8.3 8.2 7.3 7.1 6.1 6.3 5.8 4.5 6.2 2.2 7.1 0.1 8.2-1.8 9-3.4 9.1-4.7 8.6-5.2 7.8-5.7 6.6-7.6 4.3-9 1.7-10.2 1-11.2 0.9-12 1.1-12.8 0.9-13.4 0.3-13.9-1.1-14.2-2.8-14.3-4.3-14.3-5.2-14.2-5.3-13.9-4.6-13.4-3.6-12.8-2.8-12.2-2.3-11.9-4.4-11.6-4.7-10.8-4.8-9.5-4.5-7.7-3.8-5.9-2.6-4-1.2-2.3 0.2-0.8z"/>
<path d="M569.4 52.7l-0.5 0.7-1.3 2.4-2 4.1-2.4 6.1-2.8 8.1-3.3 10-3.7 11.4-4.2 12-3 12.2-3.3 12.2-3.4 12.8-3.3 13.4-3 13.9-2.6 14.2-2.2 14.3-1.7 14.3-1.4 14.2-1 13.9-0.5 13.4 0.3 12.8 1.2 12 2.3 11.2 3.3 10.2 5.1 9 6 7.8 5.7 6.6 5.3 7.1 5.1 6.4 5.1 3.8 5.1 1 5.1-1.7 5-4.3 4.9-6.5 4.8-6.8 5.1-6 5.4-7.4 4.6-9 3.2-10.2 2.6-11.2 2-12 1.3-12.8 0.4-13.4-0.4-13.9-1.3-14.2-2.1-14.3-2.6-14.3-3.1-14.2-3.2-13.9-3.4-13.4-3.3-12.8-3.3-12.2-3.2-12.2-4.3-12-3.9-11.4-3.1-10-2.4-8.1-1.7-6.1-1.1-4.1-0.7-2.4-0.2-0.7z"/>
<path d="M573.7 57.2l-1.1 0.8-2.5 2.3-3.3 3.9-3.9 5.7-4.1 7.4-4.5 9.1-5 10.4-5.5 11.2-4 11.7-4.5 12.2-4.7 12.8-4.6 13.4-4.3 13.9-3.7 14.2-3.2 14.3-2.5 14.3-1.9 14.2-1.2 13.9-0.2 13.4 0.9 12.8 2.1 12 3.2 11.2 4.3 10.2 6.3 9 7.3 7.8 6.9 6.5 6.8 4.6 7.4 2.9 8.3 1.5 9 0.4 9.2-0.7 8.7-1.7 7.7-2.8 6.5-4.3 6.2-6.4 6.1-7.8 5.2-9 3.5-10.2 3.2-11.2 2.5-12 1.6-12.8 0.2-13.4-1.3-13.9-2.6-14.2-3.4-14.3-3.6-14.3-3.6-14.2-3.3-13.9-3.3-13.4-3.4-12.8-3.8-12.2-4.3-11.7-6.6-11.2-6-10.4-4.8-9.1-3.5-7.4-2.3-5.7-1.3-3.9-0.8-2.3-0.5-0.8z"/>
<path d="M572 53.7l-1.1 0.8-2 2.3-2.7 4.1-3.4 6-3.9 7.9-4.5 9.8-5.2 11.2-5.5 11.8-3.8 12.1-3.8 12.2-4 12.8-4 13.4-3.8 13.9-3.7 14.2-3.4 14.3-3 14.3-2.4 14.2-1.6 13.9-0.8 13.4 0.3 12.8 1.5 12 2.8 11.2 4 10.2 6.4 9 7.7 7.8 7.7 6.6 7.3 6.3 7.5 5.2 7.8 3.1 7.8 0.9 7.9-1.3 7.5-3.4 7.2-5.3 6.8-6.1 7.1-6.3 7.2-7.5 6-9 3.8-10.2 3-11.2 2-12 1-12.8 0.2-13.4-0.7-13.9-1.7-14.2-2.5-14.3-3.4-14.3-3.9-14.2-4.4-13.9-4.5-13.4-4.4-12.8-4.1-12.2-3.7-12.1-5.2-11.8-4.7-11.2-3.8-9.8-3.3-7.9-2.7-6-2.2-4.1-1.8-2.3-0.9-0.8z"/>
<path d="M570.1 57.1l-0.9 0.8-1.1 2.3-1.5 3.9-1.9 5.7-2.7 7.5-3.7 9.1-4.8 10.4-5.6 11.2-4.1 11.7-4.4 12.2-4.4 12.8-4.4 13.4-4.3 13.9-3.9 14.2-3.3 14.3-2.5 14.3-1.6 14.2-0.6 13.9 0.3 13.4 1 12.8 1.7 12 2.2 11.2 2.8 10.2 4.7 9 6 7.8 6.2 6.2 6.7 6 7.3 5.3 8 3.4 8.2 1.5 8.1-0.8 7.6-2.9 6.9-5.2 6.5-6.4 6.7-6.9 6.9-8 5.8-9 3.7-10.2 2.7-11.2 1.7-12 0.7-12.8-0.3-13.4-1.2-13.9-2-14.2-2.7-14.3-3.5-14.3-4.1-14.2-4.4-13.9-4.4-13.4-3.9-12.8-3.2-12.2-2.6-11.7-3.9-11.2-3.5-10.4-3.3-9.1-3.2-7.5-3.3-5.7-3.2-3.9-2.5-2.3-1.5-0.8z"/>
<path d="M569.8 56.9l-1.1 0.8-2 2.3-2.5 3.9-3 5.7-3.5 7.5-4.2 9.2-4.9 10.4-5.4 11.3-3.9 11.7-4 12.2-4.1 12.8-4.1 13.4-3.9 13.9-3.7 14.2-3.5 14.3-3.1 14.3-2.4 14.2-1.6 13.9-0.5 13.4 0.9 12.8 2 12 3.2 11.2 4.2 10.2 6 9 6.9 8.1 6.7 6.9 6.5 7.8 7.1 7.2 7.8 4.3 8.3 1.3 8.4-1.8 8.1-4.6 7.3-7.3 6.5-7.6 6.3-6.5 6.2-7.8 5.1-9 3.2-10.2 2.6-11.2 1.9-12 1.1-12.8 0-13.4-1-13.9-2.1-14.2-3-14.3-3.6-14.3-4.1-14.2-4.2-13.9-4.3-13.4-4.1-12.8-3.7-12.2-3.4-11.7-4.8-11.3-4.1-10.4-3.4-9.2-2.6-7.5-2.2-5.7-1.9-3.9-1.5-2.3-0.9-0.8z"/>
<path d="M567.4 55.4l0.6 0.7-0.9 2.4-2.9 4-4.9 5.8-6.4 7.7-7.1 9.5-7.1 10.8-6.4 11.5-3.2 11.9-3.3 12.2-4.3 12.8-5.7 13.4-7 13.9-7.2 14.2-6.2 14.3-4.2 14.3-1.8 14.2 0.2 13.9 1.6 13.4 2 12.8 2.1 12 2.5 11.2 3.5 10.2 7.5 9 13 7.8 12.3 5.8 10 5.2 9.1 4.8 8.6 3.5 7.9 1.7 7.4-0.4 7.6-2.9 8.3-5.2 10-6.3 13.5-6.5 15.1-7.5 9.6-9 4.7-10.2 2.2-11.2 0.4-12-0.4-12.8-0.4-13.4-0.4-13.9-1-14.2-2.3-14.3-4.2-14.3-6.1-14.2-7.4-13.9-7.6-13.4-6.7-12.8-5.2-12.2-4-11.9-6-11.5-5.8-10.8-5.9-9.5-6-7.7-5.5-5.8-4.1-4-2.1-2.4 0-0.7z"/>
<path d="M569.9 56.3l-0.2 0.8-1.2 2.3-2.2 4-3.2 5.7-4 7.6-4.7 9.3-5.1 10.5-5.2 11.4-3.1 11.8-3.3 12.2-3.8 12.8-4.4 13.4-4.8 13.9-5.1 14.2-4.9 14.3-4 14.3-2.8 14.2-1.4 13.9 0 13.4 1.3 12.8 2.2 12 2.9 11.2 3.6 10.2 5.5 9 6.8 8.2 6.8 6.6 6.9 5.2 7.4 3.7 8.1 2.3 8.3 0.8 8.2-0.7 7.8-2.2 7.4-3.9 7.2-5.4 7.6-6.6 8-8 6.9-9 4.8-10.2 3.5-11.2 2.2-12 0.7-12.8-0.7-13.4-1.9-13.9-3-14.2-3.6-14.3-4-14.3-4-14.2-3.8-13.9-3.6-13.4-3.2-12.8-3.1-12.2-3.1-11.8-5.2-11.4-5.1-10.5-4.7-9.3-4.2-7.6-3.4-5.7-2.5-4-1.4-2.3-0.2-0.8z"/>
<path d="M572.1 54.8l-1.1 0.8-2.4 2.3-3.5 4-4.3 5.9-4.7 7.8-5.1 9.6-5.7 10.9-6.3 11.7-4.4 11.9-5.3 12.2-5.8 12.8-6.2 13.4-5.9 13.9-5.2 14.2-4.2 14.3-2.9 14.3-1.9 14.2-1 13.9-0.2 13.4 0.7 12.8 1.7 12 2.9 11.2 4.4 10.2 7.5 9 10.3 7.7 9.5 6.3 8.1 4.5 8 3.1 8.5 1.9 9 0.6 9.4-0.6 9.5-1.9 9.1-2.9 9-4.5 9.8-6.4 10.1-7.8 7-9 4-10.2 3-11.2 2.2-12 1.5-12.8 0.5-13.4-0.6-13.9-2-14.2-3.4-14.3-4.6-14.3-5.4-14.2-5.7-13.9-5.4-13.4-5-12.8-4.5-12.2-4.2-11.9-6.2-11.7-5.8-10.9-5-9.6-4.2-7.8-3.2-5.9-2.3-4-1.5-2.3-0.6-0.8z"/>
<path d="M572.1 50.9l0.4 0.8-0.7 2.4-1.9 4.1-3.1 6.2-4.3 8.4-5.2 10.4-5.8 11.8-6 12.3-3.9 12.3-3.9 12.3-3.9 12.8-4.1 13.4-4.3 13.9-4.4 14.2-4 14.3-3.4 14.3-2.3 14.2-1.2 13.9 0 13.4 1.1 12.8 2.1 12 3.1 11.2 4.1 10.2 6.4 9 7.7 8.1 7.5 6.7 7.3 4.6 7.4 2.8 7.6 1.6 7.6 0.4 7.6-0.8 7.5-2 7.4-3.2 7.4-4.6 7.7-6.1 7.8-7.5 6.2-9 3.6-10.2 2.2-11.2 1-12 0.1-12.8-0.5-13.4-0.9-13.9-1.4-14.2-1.9-14.3-2.5-14.3-3.2-14.2-3.9-13.9-4.2-13.4-4.4-12.8-4.3-12.3-4.2-12.3-6-12.3-5.6-11.8-4.9-10.4-4.2-8.4-3.3-6.2-2.2-4.1-1.1-2.4 0.3-0.8z"/>
<path d="M563.3 56.3l-0.4 0.7-1.1 2.3-1.7 4-2.7 5.8-3.7 7.6-4.7 9.2-5.7 10.6-6.1 11.4-4.2 11.8-4 12.2-3.8 12.8-3.6 13.4-3.5 13.9-3.3 14.2-3.1 14.3-2.8 14.3-2.2 14.2-1.4 13.9-0.3 13.4 0.9 12.8 2.2 12 3.3 11.2 4.2 10.2 6.2 9 7.1 7.7 6.6 6.4 6.4 3.8 6.7 1.9 7.6 1 8.4 0.2 8.8-0.4 8.9-1 8.4-1.6 7.8-3.5 7.5-6.4 7-8.1 5.4-9 3-10.2 2.3-11.2 1.6-12 1.2-12.8 0.5-13.4-0.4-13.9-1.4-14.2-2.6-14.3-3.7-14.3-4.6-14.2-4.9-13.9-4.9-13.4-4.6-12.8-4-12.2-3.6-11.8-5.3-11.4-5-10.6-4.7-9.2-4.3-7.6-3.8-5.8-3.1-4-2-2.3-0.8-0.7z"/>
<path d="M570.6 54.9l-0.8 0.7-2.1 2.3-2.9 4.1-3.6 5.8-4 7.8-4.6 9.6-5.4 10.9-6.1 11.7-4.5 11.9-4.6 12.2-4.5 12.8-4 13.4-3.4 13.9-2.8 14.2-2.5 14.3-2.3 14.3-2 14.2-1.7 13.9-0.9 13.4 0.2 12.8 1.6 12 2.9 11.2 4.2 10.2 6.3 9 7.3 7.6 7 6.6 6.7 6.7 7.3 5.7 8.3 3.3 9.1 1 9.4-1.2 9.1-3.4 8.3-5.3 7.3-6.3 6.8-6.6 6.5-8.1 5-9 3-10.2 2.2-11.2 1.5-12 0.6-12.8-0.2-13.4-1.3-13.9-1.9-14.2-2.5-14.3-2.8-14.3-3-14.2-3.4-13.9-4-13.4-4.5-12.8-5.1-12.2-5.4-11.9-7.1-11.7-6.1-10.9-4.5-9.6-3-7.8-1.7-5.8-0.9-4.1-0.4-2.3-0.1-0.7z"/>
<path d="M567.8 54.9l-1.2 0.7-2.1 2.3-2.6 4.1-3.2 5.8-3.7 7.8-4.2 9.6-4.9 10.9-5.5 11.7-3.6 11.9-4.2 12.2-4.9 12.8-5.4 13.4-5.6 13.9-5.3 14.2-4.6 14.3-3.5 14.3-2.3 14.2-1 13.9 0.3 13.4 1.4 12.8 2.3 12 3.2 11.2 4.2 10.2 6.5 9 8.1 8 8 6.5 7.9 4.5 8.5 3 9 1.9 9.4 0.7 9.4-0.6 9.2-1.7 8.6-3.1 8.3-4.8 8.4-6.5 8.3-7.9 6.8-9 4.2-10.2 2.9-11.2 1.8-12 0.6-12.8-0.4-13.4-1.5-13.9-2.5-14.2-3.5-14.3-4.2-14.3-4.7-14.2-4.9-13.9-4.7-13.4-4.4-12.8-3.9-12.2-3.5-11.9-5.7-11.7-5.2-10.9-4.9-9.6-4.4-7.8-3.9-5.8-3.3-4.1-2.5-2.3-1.4-0.7z"/>
<path d="M568.6 55.7l-1.6 0.8-2.2 2.3-2.2 4-2.4 5.8-3.1 7.7-4.3 9.4-5.8 10.7-7 11.5-5.2 11.8-5.7 12.2-5.7 12.8-5.5 13.4-5.2 13.9-5 14.2-4.5 14.3-3.8 14.3-2.6 14.2-1 13.9 0.7 13.4 2.3 12.8 3.5 12 4.1 11.2 4.5 10.2 6.4 9 8.8 8 7.9 6.4 7.2 4.1 8.3 2.4 9.8 1.5 10.7 0.7 10.6-0.1 9.7-1 8.4-2.2 7.6-4.5 8.7-6.9 9.7-8.4 7.4-9 4.8-10.2 3.8-11.2 2.5-12 1-12.8-0.4-13.4-1.6-13.9-2.4-14.2-2.9-14.3-3.3-14.3-3.9-14.2-4.7-13.9-5.6-13.4-6.2-12.8-6.4-12.2-6-11.8-7.4-11.5-6.1-10.7-4.6-9.4-3.5-7.7-3.1-5.8-2.9-4-2.7-2.3-1.9-0.8z"/>
<path d="M569.1 52.9l-0.2 0.8-1 2.3-2 4.1-3 6.1-4.1 8.1-4.7 9.9-5.2 11.3-5.4 12-3.5 12.2-3.8 12.2-4.2 12.8-4.6 13.4-4.7 13.9-4.4 14.2-3.7 14.3-2.6 14.3-1.6 14.2-0.6 13.9 0.1 13.4 0.6 12.8 1.4 12 2.4 11.2 3.7 10.2 6.2 9 7.8 7.8 7.7 6.4 7.4 7.2 7.2 6.8 7.2 4.2 7.3 1.4 7.5-1.5 7.8-4.5 7.9-6.9 7.8-7.2 7.8-6.2 7.3-7.5 5.3-9 2.7-10.2 1.7-11.2 1.2-12 1-12.8 0.8-13.4 0.1-13.9-1-14.2-2.7-14.3-4.2-14.3-5.3-14.2-5.6-13.9-5-13.4-3.8-12.8-2.6-12.2-1.8-12.2-3.6-12-3.9-11.3-4.2-9.9-4.5-8.1-4.2-6.1-3.5-4.1-2.1-2.3-0.6-0.8z"/>
<path d="M567.8 55.7l-1.4 0.8-2.5 2.3-3.1 4-3.2 5.8-3.4 7.6-3.7 9.4-4.2 10.8-5 11.5-3.6 11.8-4.5 12.2-5.2 12.8-5.6 13.4-5.5 13.9-4.9 14.2-3.9 14.3-2.7 14.3-1.5 14.2-0.2 13.9 0.9 13.4 1.8 12.8 2.5 12 3 11.2 3.7 10.2 5.6 9 7 8 7.1 6.2 7.4 5.7 8.4 4.9 9.2 3.1 9.5 1.3 9.2-0.7 8.3-2.8 7.2-5 6.3-6.2 6.3-6.7 6.9-7.8 6.2-9 4.5-10.2 3.9-11.2 2.7-12 1.2-12.8-0.5-13.4-2.1-13.9-3.3-14.2-3.8-14.3-3.9-14.3-3.7-14.2-3.4-13.9-3.4-13.4-3.6-12.8-4-12.2-4.4-11.8-6.6-11.5-6-10.8-5-9.4-3.8-7.6-2.8-5.8-2-4-1.4-2.3-1-0.8z"/>
<path d="M569.8 56.5l-0.9 0.8-2.2 2.3-3.3 4-3.8 5.7-4.1 7.5-4.2 9.3-4.3 10.5-4.2 11.3-2.4 11.8-2.6 12.2-3.2 12.8-3.6 13.4-4 13.9-3.9 14.2-3.7 14.3-3.1 14.3-2.3 14.2-1.5 13.9-0.4 13.4 0.5 12.8 1.7 12 2.8 11.2 4 10.2 6 9 7.2 8 6.9 6.7 6.5 6.1 6.5 4.8 6.7 2.8 6.9 0.8 7.1-1.3 7.2-3.2 7.3-5 7.2-5.8 7.5-6.2 7.3-7.7 5.8-9 3.2-10.2 1.7-11.2 0.5-12-0.4-12.8-1.1-13.4-1.5-13.9-1.8-14.2-1.9-14.3-2.2-14.3-2.7-14.2-3-13.9-3.6-13.4-4-12.8-4.2-12.2-4.3-11.8-5.9-11.3-5.2-10.5-4-9.3-3-7.5-1.9-5.7-1.2-4-0.6-2.3-0.3-0.8z"/>
<path d="M566.1 52.7l-0.3 0.8-1 2.3-1.9 4.1-3 6.1-3.9 8.1-4.9 10-5.6 11.4-5.9 12-3.9 12.2-3.6 12.2-3.5 12.8-3.5 13.4-3.5 13.9-3.6 14.2-3.6 14.3-3.4 14.3-2.8 14.2-1.8 13.9-0.6 13.4 0.8 12.8 2.2 12 3.5 11.2 4.4 10.2 6.4 9 7.3 8 6.9 6.8 6.5 6.6 6.9 5.3 7.6 3.1 8.3 0.8 8.5-1.4 8.5-3.4 7.9-5.4 7.2-6.1 6.9-6.4 6.6-7.9 5.3-9 3.2-10.2 2.6-11.2 2.2-12 1.7-12.8 0.8-13.4-0.4-13.9-1.8-14.2-3.2-14.3-4.4-14.3-5.2-14.2-5.3-13.9-5.1-13.4-4.3-12.8-3.7-12.2-3.1-12.2-4.8-12-4.5-11.4-4.2-10-3.8-8.1-3.4-6.1-2.6-4.1-1.6-2.3-0.5-0.8z"/>
<path d="M569.3 52.3l-0.3 0.8-1.1 2.3-1.8 4.1-2.5 6.1-3.2 8.2-4 10.1-4.9 11.5-5.5 12.1-3.8 12.1-3.6 12.3-3.1 12.8-2.4 13.4-2 13.9-1.9 14.2-1.9 14.3-2.4 14.3-2.5 14.2-2.3 13.9-1.6 13.4-0.4 12.8 1.3 12 2.8 11.2 4.2 10.2 5.9 9 6.7 7.8 5.9 7 5.2 4.3 5.1 1.8 5.6 0.6 6-0.3 6.5-0.9 6.7-1.3 6.7-1.7 6.6-3.3 6.5-6.2 6.5-7.8 5.2-9 3.1-10.2 2.1-11.2 1.1-12 0-12.8-1-13.4-1.7-13.9-2.3-14.2-2.6-14.3-2.7-14.3-2.8-14.2-2.9-13.9-3.1-13.4-3.2-12.8-3.5-12.3-3.4-12.1-4.9-12.1-4.4-11.5-3.4-10.1-2.5-8.2-1.9-6.1-1.2-4.1-0.8-2.3-0.2-0.8z"/>
<path d="M574.7 54.1l1.1 0.8-1 2.3-3.1 4.1-4.6 5.9-5.5 7.9-5.6 9.7-5.5 11.1-5.5 11.8-3.4 12-3.9 12.2-4.6 12.8-5.1 13.4-4.9 13.9-4.4 14.2-3.4 14.3-2.7 14.3-2.3 14.2-2 13.9-1.6 13.4-0.9 12.8 0.7 12 2.9 11.2 5.3 10.2 8.8 9 10.3 7.8 9.3 6.9 7.6 7.4 6.3 6.2 5.8 3.4 6 0.4 7.1-2.4 8.4-4.7 9.5-6.4 9.8-6.1 9.8-5.3 8.9-7.2 6.4-9 3.2-10.2 1.9-11.2 1.3-12 0.9-12.8 0.4-13.4-0.7-13.9-2.1-14.2-3.6-14.3-4.7-14.3-5-14.2-4.5-13.9-3.5-13.4-2.8-12.8-2.5-12.2-3.1-12-6.2-11.8-7-11.1-6.8-9.7-5.8-7.9-3.8-5.9-1.6-4.1 0.4-2.3 1.6-0.8z"/>
<path d="M568 54.9l-1 0.7-1.7 2.3-2.4 4.1-3.2 5.8-4 7.8-5.1 9.6-6.2 10.9-7 11.7-5.2 11.9-5.6 12.2-5.5 12.8-5.3 13.4-4.7 13.9-4 14.2-3.1 14.3-2.4 14.3-1.7 14.2-1.1 13.9-0.4 13.4 0.5 12.8 1.6 12 3 11.2 4.5 10.2 7.3 9 9.7 7.6 9 6.3 8 6.6 8 5.7 8.4 3.6 9 1.2 9.5-1.3 9.7-3.5 9.6-5.5 9.4-6.4 9.9-6.4 9.8-7.9 6.7-9 3.5-10.2 1.9-11.2 0.9-12 0.1-12.8-0.5-13.4-1.2-13.9-2.1-14.2-3.1-14.3-4.1-14.3-4.9-14.2-5.5-13.9-5.5-13.4-5.1-12.8-4.6-12.2-3.9-11.9-5.8-11.7-5.2-10.9-4.7-9.6-4.1-7.8-3.7-5.8-3.1-4.1-2.2-2.3-1.1-0.7z"/>
<path d="M568.5 54.3l-1.9 0.8-2 2.3-1.7 4.1-1.7 5.9-2.1 7.9-3.3 9.6-4.9 11.1-6.3 11.7-5.1 12-5.1 12.2-4.5 12.8-3.7 13.4-3 13.9-2.8 14.2-2.9 14.3-3.2 14.3-3.2 14.2-2.4 13.9-1 13.4 0.8 12.8 2.7 12 3.9 11.2 4.7 10.2 6 9 6.4 8 5.8 6.9 5.7 5.3 6.7 3.3 8.1 1.6 9.1 0.3 9.5-0.8 8.9-1.8 7.8-3 6.7-4.7 6.5-6.7 6.9-8.3 6.2-9.1 4.6-10.2 4-11.2 2.8-12 1.1-12.8-0.8-13.4-2.4-13.9-3.5-14.2-4-14.3-3.9-14.3-3.8-14.2-3.8-13.9-4.1-13.4-4.3-12.8-4.5-12.2-4.2-12-5.6-11.7-4.4-11.1-3.2-9.6-2.5-7.9-2.2-5.9-2.3-4.1-2.5-2.3-2.1-0.8z"/>
<path d="M567.9 54.5l0.5 0.8-1.4 2.3-3.2 4-4.6 5.9-5.4 7.9-5.6 9.6-5.8 11-5.7 11.7-3.8 12-4.3 12.2-5.1 12.8-5.5 13.4-5.4 13.9-4.4 14.2-3.3 14.3-2 14.3-1 14.2-0.6 13.9-0.4 13.4-0.1 12.8 0.7 12 2.1 11.2 4 10.2 7.4 9 9.5 7.5 9.4 6.3 8.7 8.1 8.3 8.1 8.1 5.1 8 1.7 8.3-1.9 8.7-5.3 9-8.1 8.9-8 9-6.1 8.5-7.4 6.5-9 3.6-10.2 2.4-11.2 1.6-12 0.9-12.8 0-13.4-1.2-13.9-2.6-14.2-4.1-14.3-5.1-14.3-5.4-14.2-4.9-13.9-4.2-13.4-3.3-12.8-3-12.2-3.2-12-6.1-11.7-6.5-11-6.3-9.6-5.4-7.9-3.9-5.9-2-4-0.2-2.3 0.9-0.8z"/>
</g>
<g fill="none" stroke-width="1.3">
<path d="M205.6 63.3l-1.2 0.1-1.2 0.3-1.2 0.4-1.2 0.6-1.2 0.8-1.2 0.9-1.2 1.1-1.2 1.3-1.2 1.4-1.3 1.6-1.2 1.7-1.2 1.9-1.3 2.1-1.2 2.2-1.2 2.4-1.3 2.5-1.3 2.7-1.2 2.8-1.3 2.9-1.3 3.1-1.3 3.2-1.3 3.3-1.4 3.5-1.4 3.6-1.4 3.7-1.4 3.8-1.4 3.9-1.5 3.9-1.5 4.1-1.5 4.2-1.6 4.3-1.6 4.3-1.6 4.4-1.6 4.5-1.6 4.6-1.6 4.6-1.6 4.6-1.6 4.7-1.5 4.7-1.6 4.8-1.5 4.8-1.4 4.8-1.4 4.8-1.3 4.9-1.2 4.8-1.1 4.9-1.1 4.8-1 4.8-0.8 4.8-0.8 4.8-0.6 4.7-0.5 4.7-0.4 4.7-0.3 4.6-0.1 4.5-0.1 4.5 0.1 4.4 0.3 4.3 0.3 4.3 0.5 4.2 0.6 4.1 0.8 4 0.8 3.9 1 3.8 1.2 3.6 1.2 3.6 1.4 3.5 1.5 3.3 1.7 3.2 1.8 3.1 1.9 2.9 2.1 2.8 2.1 2.7 2.4 2.5 2.4 2.4 2.5 2.2 2.7 2.1 2.8 1.9 2.9 1.7 3 1.6 3.1 1.5 3.2 1.2 3.3 1.1 3.3 1 3.4 0.7 3.4 0.6 3.5 0.5 3.5 0.2 3.5 0.1 3.5-0.1 3.5-0.2 3.5-0.5 3.4-0.6 3.4-0.7 3.3-1 3.3-1.1 3.2-1.2 3.1-1.5 3-1.6 2.9-1.7 2.8-1.9 2.7-2.1 2.5-2.2 2.4-2.4 2.4-2.5 2.1-2.7 2.1-2.8 1.9-2.9 1.8-3.1 1.7-3.2 1.5-3.3 1.4-3.5 1.2-3.6 1.2-3.6 1-3.8 0.8-3.9 0.8-4 0.6-4.1 0.5-4.2 0.3-4.3 0.3-4.3 0.1-4.4-0.1-4.5-0.1-4.5-0.3-4.6-0.4-4.7-0.5-4.7-0.6-4.7-0.8-4.8-0.8-4.8-1-4.8-1.1-4.8-1.1-4.9-1.2-4.8-1.3-4.9-1.4-4.8-1.4-4.8-1.5-4.8-1.6-4.8-1.5-4.7-1.6-4.7-1.6-4.6-1.6-4.6-1.6-4.6-1.6-4.5-1.6-4.4-1.6-4.3-1.6-4.3-1.5-4.2-1.5-4.1-1.5-3.9-1.4-3.9-1.4-3.8-1.4-3.7-1.4-3.6-1.4-3.5-1.3-3.3-1.3-3.2-1.3-3.1-1.3-2.9-1.2-2.8-1.3-2.7-1.3-2.5-1.2-2.4-1.2-2.2-1.3-2.1-1.2-1.9-1.2-1.7-1.3-1.6-1.2-1.4-1.2-1.3-1.2-1.1-1.2-0.9-1.2-0.8-1.2-0.6-1.2-0.4-1.2-0.3-1.2-0.1z" stroke="#4259b5"/>
<path d="M205.6 63.3l-1.1 0.1-1.2 0.3-1.1 0.4-1.2 0.6-1.2 0.8-1.1 0.9-1.2 1.1-1.1 1.3-1.2 1.4-1.2 1.6-1.2 1.7-1.1 1.9-1.2 2.1-1.2 2.2-1.2 2.4-1.2 2.5-1.2 2.7-1.2 2.8-1.3 2.9-1.2 3.1-1.3 3.2-1.3 3.3-1.2 3.5-1.4 3.6-1.3 3.7-1.4 3.8-1.4 3.9-1.4 3.9-1.4 4.1-1.5 4.2-1.5 4.3-1.5 4.3-1.5 4.4-1.6 4.5-1.5 4.6-1.6 4.6-1.5 4.6-1.5 4.7-1.5 4.7-1.5 4.8-1.4 4.8-1.4 4.8-1.3 4.8-1.3 4.9-1.1 4.8-1.1 4.9-1.1 4.8-0.9 4.8-0.8 4.8-0.7 4.8-0.6 4.7-0.5 4.7-0.4 4.7-0.3 4.6-0.1 4.5 0 4.5 0.1 4.4 0.2 4.3 0.3 4.3 0.5 4.2 0.6 4.1 0.7 4 0.8 3.9 1 3.8 1.1 3.6 1.2 3.6 1.3 3.5 1.5 3.3 1.6 3.2 1.7 3.1 1.8 2.9 2 2.8 2.1 2.7 2.2 2.5 2.4 2.4 2.4 2.2 2.6 2.1 2.7 1.9 2.7 1.7 2.9 1.6 3 1.5 3.1 1.2 3.1 1.1 3.2 1 3.2 0.7 3.3 0.6 3.4 0.5 3.3 0.2 3.4 0.1 3.4-0.1 3.3-0.2 3.4-0.5 3.3-0.6 3.2-0.7 3.2-1 3.1-1.1 3.1-1.2 3-1.5 2.9-1.6 2.7-1.7 2.7-1.9 2.6-2.1 2.4-2.2 2.4-2.4 2.2-2.5 2.1-2.7 2-2.8 1.8-2.9 1.7-3.1 1.6-3.2 1.5-3.3 1.3-3.5 1.2-3.6 1.1-3.6 1-3.8 0.8-3.9 0.7-4 0.6-4.1 0.5-4.2 0.3-4.3 0.2-4.3 0.1-4.4 0-4.5-0.1-4.5-0.3-4.6-0.4-4.7-0.5-4.7-0.6-4.7-0.7-4.8-0.8-4.8-0.9-4.8-1.1-4.8-1.1-4.9-1.1-4.8-1.3-4.9-1.3-4.8-1.4-4.8-1.4-4.8-1.5-4.8-1.5-4.7-1.5-4.7-1.5-4.6-1.6-4.6-1.5-4.6-1.6-4.5-1.5-4.4-1.5-4.3-1.5-4.3-1.5-4.2-1.4-4.1-1.4-3.9-1.4-3.9-1.4-3.8-1.3-3.7-1.4-3.6-1.2-3.5-1.3-3.3-1.3-3.2-1.2-3.1-1.3-2.9-1.2-2.8-1.2-2.7-1.2-2.5-1.2-2.4-1.2-2.2-1.2-2.1-1.1-1.9-1.2-1.7-1.2-1.6-1.2-1.4-1.1-1.3-1.2-1.1-1.1-0.9-1.2-0.8-1.2-0.6-1.1-0.4-1.2-0.3-1.1-0.1z" stroke="#f0221c"/>
<path d="M205.6 62.9l-1 0.1-1 0.3-1 0.4-1 0.6-1 0.8-1.1 0.9-1 1.2-1.1 1.2-1 1.5-1.1 1.6-1.1 1.8-1.1 1.9-1.1 2.1-1.1 2.3-1.2 2.4-1.1 2.5-1.1 2.7-1.1 2.9-1.1 2.9-1.1 3.2-1.1 3.2-1.2 3.4-1.1 3.5-1.1 3.6-1.1 3.7-1.2 3.9-1.2 3.9-1.2 4.1-1.2 4.1-1.2 4.2-1.3 4.4-1.3 4.4-1.3 4.4-1.3 4.6-1.4 4.6-1.3 4.6-1.4 4.7-1.4 4.8-1.4 4.8-1.3 4.8-1.3 4.9-1.3 4.9-1.3 4.8-1.1 4.9-1.2 5-1 4.9-1 4.8-0.9 4.9-0.7 4.9-0.7 4.8-0.6 4.8-0.5 4.8-0.3 4.7-0.2 4.6-0.1 4.6 0 4.6 0.1 4.4 0.2 4.4 0.4 4.4 0.5 4.2 0.6 4.1 0.7 4.1 0.8 3.9 1 3.9 1 3.7 1.2 3.6 1.2 3.5 1.4 3.4 1.5 3.2 1.6 3.2 1.7 2.9 1.8 2.9 1.8 2.7 2 2.5 2.1 2.4 2.2 2.3 2.3 2.1 2.3 1.9 2.5 1.8 2.5 1.6 2.6 1.5 2.7 1.2 2.7 1.2 2.8 0.9 2.8 0.8 2.9 0.6 2.9 0.4 2.9 0.3 2.9 0.1 2.9-0.1 2.9-0.3 2.9-0.4 2.9-0.6 2.8-0.8 2.8-0.9 2.7-1.2 2.7-1.2 2.6-1.5 2.5-1.6 2.5-1.8 2.3-1.9 2.3-2.1 2.2-2.3 2.1-2.4 2-2.5 1.8-2.7 1.8-2.9 1.7-2.9 1.6-3.2 1.5-3.2 1.4-3.4 1.2-3.5 1.2-3.6 1-3.7 1-3.9 0.8-3.9 0.7-4.1 0.6-4.1 0.5-4.2 0.4-4.4 0.2-4.4 0.1-4.4 0-4.6-0.1-4.6-0.2-4.6-0.3-4.7-0.5-4.8-0.6-4.8-0.7-4.8-0.7-4.9-0.9-4.9-1-4.8-1-4.9-1.2-5-1.1-4.9-1.3-4.8-1.3-4.9-1.3-4.9-1.3-4.8-1.4-4.8-1.4-4.8-1.4-4.7-1.3-4.6-1.4-4.6-1.3-4.6-1.3-4.4-1.3-4.4-1.3-4.4-1.2-4.2-1.2-4.1-1.2-4.1-1.2-3.9-1.2-3.9-1.1-3.7-1.1-3.6-1.1-3.5-1.2-3.4-1.1-3.2-1.1-3.2-1.1-2.9-1.1-2.9-1.1-2.7-1.1-2.5-1.2-2.4-1.1-2.3-1.1-2.1-1.1-1.9-1.1-1.8-1.1-1.6-1-1.5-1.1-1.2-1-1.2-1.1-0.9-1-0.8-1-0.6-1-0.4-1-0.3-1-0.1z" stroke="#267745"/>
<path d="M569.3 63.3l-1.1 0.1-1.2 0.3-1.2 0.4-1.1 0.6-1.2 0.8-1.1 0.9-1.2 1.1-1.2 1.3-1.1 1.4-1.2 1.6-1.2 1.7-1.2 1.9-1.2 2.1-1.1 2.2-1.2 2.4-1.3 2.5-1.2 2.7-1.2 2.8-1.2 2.9-1.3 3.1-1.2 3.2-1.3 3.3-1.3 3.5-1.3 3.6-1.4 3.7-1.3 3.8-1.4 3.9-1.5 3.9-1.4 4.1-1.5 4.2-1.5 4.3-1.5 4.3-1.5 4.4-1.6 4.5-1.5 4.6-1.6 4.6-1.5 4.6-1.5 4.7-1.5 4.7-1.5 4.8-1.4 4.8-1.4 4.8-1.3 4.8-1.3 4.9-1.2 4.8-1.1 4.9-1 4.8-0.9 4.8-0.8 4.8-0.7 4.8-0.7 4.7-0.5 4.7-0.3 4.7-0.3 4.6-0.1 4.5-0.1 4.5 0.1 4.4 0.2 4.3 0.4 4.3 0.4 4.2 0.6 4.1 0.7 4 0.9 3.9 1 3.8 1 3.6 1.3 3.6 1.3 3.5 1.5 3.3 1.6 3.2 1.7 3.1 1.8 2.9 2 2.8 2.1 2.7 2.2 2.5 2.4 2.4 2.4 2.2 2.6 2.1 2.7 1.9 2.8 1.7 2.9 1.6 2.9 1.5 3.1 1.2 3.1 1.1 3.3 1 3.2 0.7 3.3 0.6 3.4 0.5 3.3 0.2 3.4 0.1 3.4-0.1 3.3-0.2 3.4-0.5 3.3-0.6 3.2-0.7 3.3-1 3.1-1.1 3.1-1.2 2.9-1.5 2.9-1.6 2.8-1.7 2.7-1.9 2.6-2.1 2.4-2.2 2.4-2.4 2.2-2.5 2.1-2.7 2-2.8 1.8-2.9 1.7-3.1 1.6-3.2 1.5-3.3 1.3-3.5 1.3-3.6 1-3.6 1-3.8 0.9-3.9 0.7-4 0.6-4.1 0.4-4.2 0.4-4.3 0.2-4.3 0.1-4.4-0.1-4.5-0.1-4.5-0.3-4.6-0.3-4.7-0.5-4.7-0.7-4.7-0.7-4.8-0.8-4.8-0.9-4.8-1-4.8-1.1-4.9-1.2-4.8-1.3-4.9-1.3-4.8-1.4-4.8-1.4-4.8-1.5-4.8-1.5-4.7-1.5-4.7-1.5-4.6-1.6-4.6-1.5-4.6-1.6-4.5-1.5-4.4-1.5-4.3-1.5-4.3-1.5-4.2-1.4-4.1-1.5-3.9-1.4-3.9-1.3-3.8-1.4-3.7-1.3-3.6-1.3-3.5-1.3-3.3-1.2-3.2-1.3-3.1-1.2-2.9-1.2-2.8-1.2-2.7-1.3-2.5-1.2-2.4-1.1-2.2-1.2-2.1-1.2-1.9-1.2-1.7-1.2-1.6-1.1-1.4-1.2-1.3-1.2-1.1-1.1-0.9-1.2-0.8-1.1-0.6-1.2-0.4-1.2-0.3-1.1-0.1z" stroke="#4259b5" stroke-dasharray="4.2 5.0" stroke-dashoffset="0"/>
<path d="M569 63.3l-1.2 0.1-1.1 0.3-1.2 0.4-1.2 0.6-1.1 0.8-1.2 0.9-1.2 1.1-1.2 1.3-1.1 1.4-1.2 1.6-1.2 1.7-1.2 1.9-1.2 2.1-1.2 2.2-1.2 2.4-1.2 2.5-1.3 2.7-1.2 2.8-1.3 2.9-1.2 3.1-1.3 3.2-1.3 3.3-1.3 3.5-1.3 3.6-1.4 3.7-1.4 3.8-1.4 3.9-1.4 3.9-1.5 4.1-1.5 4.2-1.5 4.3-1.5 4.3-1.6 4.4-1.5 4.5-1.6 4.6-1.5 4.6-1.6 4.6-1.5 4.7-1.6 4.7-1.4 4.8-1.5 4.8-1.4 4.8-1.3 4.8-1.3 4.9-1.2 4.8-1.1 4.9-1 4.8-0.9 4.8-0.9 4.8-0.7 4.8-0.6 4.7-0.5 4.7-0.4 4.7-0.3 4.6-0.1 4.5-0.1 4.5 0.1 4.4 0.3 4.3 0.3 4.3 0.5 4.2 0.6 4.1 0.7 4 0.8 3.9 1 3.8 1.1 3.6 1.2 3.6 1.4 3.5 1.5 3.3 1.6 3.2 1.7 3.1 1.9 2.9 2 2.8 2.1 2.7 2.3 2.5 2.3 2.4 2.5 2.2 2.6 2.1 2.7 1.9 2.8 1.7 3 1.6 3 1.5 3.1 1.2 3.1 1.1 3.3 1 3.3 0.7 3.3 0.6 3.4 0.5 3.4 0.2 3.4 0.1 3.4-0.1 3.4-0.2 3.4-0.5 3.3-0.6 3.3-0.7 3.3-1 3.1-1.1 3.1-1.2 3-1.5 3-1.6 2.8-1.7 2.7-1.9 2.6-2.1 2.5-2.2 2.3-2.4 2.3-2.5 2.1-2.7 2-2.8 1.9-2.9 1.7-3.1 1.6-3.2 1.5-3.3 1.4-3.5 1.2-3.6 1.1-3.6 1-3.8 0.8-3.9 0.7-4 0.6-4.1 0.5-4.2 0.3-4.3 0.3-4.3 0.1-4.4-0.1-4.5-0.1-4.5-0.3-4.6-0.4-4.7-0.5-4.7-0.6-4.7-0.7-4.8-0.9-4.8-0.9-4.8-1-4.8-1.1-4.9-1.2-4.8-1.3-4.9-1.3-4.8-1.4-4.8-1.5-4.8-1.4-4.8-1.6-4.7-1.5-4.7-1.6-4.6-1.5-4.6-1.6-4.6-1.5-4.5-1.6-4.4-1.5-4.3-1.5-4.3-1.5-4.2-1.5-4.1-1.4-3.9-1.4-3.9-1.4-3.8-1.4-3.7-1.3-3.6-1.3-3.5-1.3-3.3-1.3-3.2-1.2-3.1-1.3-2.9-1.2-2.8-1.3-2.7-1.2-2.5-1.2-2.4-1.2-2.2-1.2-2.1-1.2-1.9-1.2-1.7-1.2-1.6-1.1-1.4-1.2-1.3-1.2-1.1-1.2-0.9-1.1-0.8-1.2-0.6-1.2-0.4-1.1-0.3-1.2-0.1z" stroke="#f0221c" stroke-dasharray="4.2 5.0" stroke-dashoffset="0"/>
<path d="M569 62.9l-1.1 0.1-1 0.3-1.1 0.4-1.1 0.6-1.1 0.8-1.2 0.9-1.2 1.1-1.2 1.3-1.2 1.4-1.2 1.6-1.3 1.7-1.3 1.9-1.2 2.1-1.3 2.2-1.3 2.4-1.3 2.5-1.3 2.7-1.3 2.8-1.3 2.9-1.3 3.1-1.3 3.2-1.3 3.3-1.3 3.4-1.3 3.6-1.3 3.7-1.3 3.8-1.4 3.9-1.4 4-1.4 4-1.5 4.2-1.5 4.3-1.5 4.3-1.6 4.4-1.7 4.5-1.6 4.5-1.7 4.6-1.7 4.6-1.8 4.7-1.7 4.8-1.7 4.7-1.6 4.8-1.7 4.8-1.5 4.8-1.5 4.9-1.4 4.8-1.4 4.8-1.2 4.8-1.1 4.9-1 4.7-0.9 4.8-0.7 4.7-0.6 4.7-0.5 4.6-0.3 4.6-0.2 4.6-0.1 4.4 0.1 4.5 0.2 4.3 0.4 4.2 0.5 4.2 0.6 4.1 0.7 4 0.9 3.9 1 3.8 1.1 3.6 1.3 3.6 1.4 3.5 1.5 3.3 1.6 3.2 1.8 3.1 1.9 2.9 2 2.8 2.2 2.6 2.3 2.6 2.5 2.3 2.6 2.2 2.7 2.1 2.8 1.9 3 1.8 3.1 1.6 3.2 1.4 3.4 1.3 3.4 1.1 3.5 0.9 3.6 0.7 3.6 0.6 3.7 0.5 3.7 0.2 3.7 0.1 3.7-0.1 3.7-0.2 3.7-0.5 3.6-0.6 3.6-0.7 3.5-0.9 3.4-1.1 3.4-1.3 3.2-1.4 3.1-1.6 3-1.8 2.8-1.9 2.7-2.1 2.6-2.2 2.5-2.3 2.3-2.6 2.2-2.6 2-2.8 1.9-2.9 1.8-3.1 1.6-3.2 1.5-3.3 1.4-3.5 1.3-3.6 1.1-3.6 1-3.8 0.9-3.9 0.7-4 0.6-4.1 0.5-4.2 0.4-4.2 0.2-4.3 0.1-4.5-0.1-4.4-0.2-4.6-0.3-4.6-0.5-4.6-0.6-4.7-0.7-4.7-0.9-4.8-1-4.7-1.1-4.9-1.2-4.8-1.4-4.8-1.4-4.8-1.5-4.9-1.5-4.8-1.7-4.8-1.6-4.8-1.7-4.7-1.7-4.8-1.8-4.7-1.7-4.6-1.7-4.6-1.6-4.5-1.7-4.5-1.6-4.4-1.5-4.3-1.5-4.3-1.5-4.2-1.4-4-1.4-4-1.4-3.9-1.3-3.8-1.3-3.7-1.3-3.6-1.3-3.4-1.3-3.3-1.3-3.2-1.3-3.1-1.3-2.9-1.3-2.8-1.3-2.7-1.3-2.5-1.3-2.4-1.3-2.2-1.2-2.1-1.3-1.9-1.3-1.7-1.2-1.6-1.2-1.4-1.2-1.3-1.2-1.1-1.2-0.9-1.1-0.8-1.1-0.6-1.1-0.4-1-0.3-1.1-0.1z" stroke="#267745" stroke-dasharray="4.2 5.0" stroke-dashoffset="4.5"/>
<path d="M145.1 425.9l-1.2 0.1-1.2 0.2-1.2 0.4-1.2 0.6-1.2 0.8-1.2 0.9-1.2 1.1-1.2 1.3-1.2 1.4-1.3 1.6-1.2 1.8-1.2 1.9-1.3 2.1-1.2 2.2-1.2 2.4-1.3 2.5-1.3 2.6-1.2 2.8-1.3 3-1.3 3.1-1.3 3.2-1.3 3.3-1.4 3.5-1.4 3.5-1.4 3.7-1.4 3.8-1.4 3.9-1.5 4-1.5 4.1-1.5 4.2-1.6 4.2-1.6 4.4-1.6 4.4-1.6 4.5-1.6 4.5-1.6 4.6-1.6 4.7-1.6 4.7-1.5 4.7-1.6 4.8-1.5 4.8-1.4 4.8-1.4 4.8-1.3 4.8-1.2 4.9-1.1 4.8-1.1 4.8-1 4.9-0.8 4.8-0.8 4.7-0.6 4.8-0.5 4.7-0.4 4.6-0.3 4.6-0.1 4.6-0.1 4.4 0.1 4.4 0.3 4.4 0.3 4.3 0.5 4.1 0.6 4.1 0.8 4 0.8 3.9 1 3.8 1.2 3.7 1.2 3.6 1.4 3.4 1.5 3.4 1.7 3.2 1.8 3 1.9 3 2.1 2.8 2.1 2.6 2.4 2.6 2.4 2.3 2.5 2.3 2.7 2 2.8 1.9 2.9 1.8 3 1.6 3.1 1.4 3.2 1.3 3.3 1.1 3.3 0.9 3.4 0.8 3.4 0.6 3.5 0.4 3.5 0.3 3.5 0 3.5 0 3.5-0.3 3.5-0.4 3.4-0.6 3.4-0.8 3.3-0.9 3.3-1.1 3.2-1.3 3.1-1.4 3-1.6 2.9-1.8 2.8-1.9 2.7-2 2.5-2.3 2.4-2.3 2.4-2.6 2.1-2.6 2.1-2.8 1.9-3 1.8-3 1.7-3.2 1.5-3.4 1.4-3.4 1.2-3.6 1.2-3.7 1-3.8 0.8-3.9 0.8-4 0.6-4.1 0.5-4.1 0.3-4.3 0.3-4.4 0.1-4.4-0.1-4.4-0.1-4.6-0.3-4.6-0.4-4.6-0.5-4.7-0.6-4.8-0.8-4.7-0.8-4.8-1-4.9-1.1-4.8-1.1-4.8-1.2-4.9-1.3-4.8-1.4-4.8-1.4-4.8-1.5-4.8-1.6-4.8-1.5-4.7-1.6-4.7-1.6-4.7-1.6-4.6-1.6-4.5-1.6-4.5-1.6-4.4-1.6-4.4-1.6-4.2-1.5-4.2-1.5-4.1-1.5-4-1.4-3.9-1.4-3.8-1.4-3.7-1.4-3.5-1.4-3.5-1.3-3.3-1.3-3.2-1.3-3.1-1.3-3-1.2-2.8-1.3-2.6-1.3-2.5-1.2-2.4-1.2-2.2-1.3-2.1-1.2-1.9-1.2-1.8-1.3-1.6-1.2-1.4-1.2-1.3-1.2-1.1-1.2-0.9-1.2-0.8-1.2-0.6-1.2-0.4-1.2-0.2-1.2-0.1z" stroke="#4259b5"/>
<path d="M145.1 425.9l-1.1 0.1-1.2 0.2-1.2 0.4-1.1 0.6-1.2 0.8-1.1 0.9-1.2 1.1-1.2 1.3-1.1 1.4-1.2 1.6-1.2 1.8-1.2 1.9-1.2 2.1-1.1 2.2-1.2 2.4-1.3 2.5-1.2 2.6-1.2 2.8-1.2 3-1.3 3.1-1.2 3.2-1.3 3.3-1.3 3.5-1.3 3.5-1.4 3.7-1.3 3.8-1.4 3.9-1.5 4-1.4 4.1-1.5 4.2-1.5 4.2-1.5 4.4-1.5 4.4-1.6 4.5-1.5 4.5-1.6 4.6-1.5 4.7-1.5 4.7-1.5 4.7-1.5 4.8-1.4 4.8-1.4 4.8-1.3 4.8-1.3 4.8-1.2 4.9-1.1 4.8-1 4.8-0.9 4.9-0.8 4.8-0.7 4.7-0.7 4.8-0.5 4.7-0.3 4.6-0.3 4.6-0.1 4.6-0.1 4.4 0.1 4.4 0.2 4.4 0.4 4.3 0.4 4.1 0.6 4.1 0.7 4 0.9 3.9 1 3.8 1 3.7 1.3 3.6 1.3 3.4 1.5 3.4 1.6 3.2 1.7 3 1.8 3 2 2.8 2.1 2.6 2.2 2.6 2.4 2.3 2.4 2.3 2.6 2 2.7 1.9 2.8 1.8 2.9 1.6 2.9 1.4 3.1 1.3 3.1 1.1 3.3 0.9 3.2 0.8 3.3 0.6 3.4 0.4 3.3 0.3 3.4 0 3.4 0 3.3-0.3 3.4-0.4 3.3-0.6 3.2-0.8 3.3-0.9 3.1-1.1 3.1-1.3 2.9-1.4 2.9-1.6 2.8-1.8 2.7-1.9 2.6-2 2.4-2.3 2.4-2.3 2.2-2.6 2.1-2.6 2-2.8 1.8-3 1.7-3 1.6-3.2 1.5-3.4 1.3-3.4 1.3-3.6 1-3.7 1-3.8 0.9-3.9 0.7-4 0.6-4.1 0.4-4.1 0.4-4.3 0.2-4.4 0.1-4.4-0.1-4.4-0.1-4.6-0.3-4.6-0.3-4.6-0.5-4.7-0.7-4.8-0.7-4.7-0.8-4.8-0.9-4.9-1-4.8-1.1-4.8-1.2-4.9-1.3-4.8-1.3-4.8-1.4-4.8-1.4-4.8-1.5-4.8-1.5-4.7-1.5-4.7-1.5-4.7-1.6-4.6-1.5-4.5-1.6-4.5-1.5-4.4-1.5-4.4-1.5-4.2-1.5-4.2-1.4-4.1-1.5-4-1.4-3.9-1.3-3.8-1.4-3.7-1.3-3.5-1.3-3.5-1.3-3.3-1.2-3.2-1.3-3.1-1.2-3-1.2-2.8-1.2-2.6-1.3-2.5-1.2-2.4-1.1-2.2-1.2-2.1-1.2-1.9-1.2-1.8-1.2-1.6-1.1-1.4-1.2-1.3-1.2-1.1-1.1-0.9-1.2-0.8-1.1-0.6-1.2-0.4-1.2-0.2-1.1-0.1z" stroke="#4259b5" stroke-dasharray="4.2 5.0" stroke-dashoffset="0"/>
<path d="M387.2 425.9l-1.1 0.1-1.2 0.2-1.1 0.4-1.2 0.6-1.2 0.8-1.1 0.9-1.2 1.1-1.1 1.3-1.2 1.4-1.2 1.6-1.2 1.8-1.1 1.9-1.2 2.1-1.2 2.2-1.2 2.4-1.2 2.5-1.2 2.6-1.2 2.8-1.3 3-1.2 3.1-1.3 3.2-1.3 3.3-1.2 3.5-1.4 3.5-1.3 3.7-1.4 3.8-1.4 3.9-1.4 4-1.4 4.1-1.5 4.2-1.5 4.2-1.5 4.4-1.5 4.4-1.6 4.5-1.5 4.5-1.6 4.6-1.5 4.7-1.5 4.7-1.5 4.7-1.5 4.8-1.4 4.8-1.4 4.8-1.3 4.8-1.3 4.8-1.1 4.9-1.1 4.8-1.1 4.8-0.9 4.9-0.8 4.8-0.7 4.7-0.6 4.8-0.5 4.7-0.4 4.6-0.3 4.6-0.1 4.6 0 4.4 0.1 4.4 0.2 4.4 0.3 4.3 0.5 4.1 0.6 4.1 0.7 4 0.8 3.9 1 3.8 1.1 3.7 1.2 3.6 1.3 3.4 1.5 3.4 1.6 3.2 1.7 3 1.8 3 2 2.8 2.1 2.6 2.2 2.6 2.4 2.3 2.4 2.3 2.6 2 2.7 1.9 2.7 1.8 2.9 1.6 3 1.4 3.1 1.3 3.1 1.1 3.2 0.9 3.2 0.8 3.3 0.6 3.4 0.4 3.3 0.3 3.4 0 3.4 0 3.3-0.3 3.4-0.4 3.3-0.6 3.2-0.8 3.2-0.9 3.1-1.1 3.1-1.3 3-1.4 2.9-1.6 2.7-1.8 2.7-1.9 2.6-2 2.4-2.3 2.4-2.3 2.2-2.6 2.1-2.6 2-2.8 1.8-3 1.7-3 1.6-3.2 1.5-3.4 1.3-3.4 1.2-3.6 1.1-3.7 1-3.8 0.8-3.9 0.7-4 0.6-4.1 0.5-4.1 0.3-4.3 0.2-4.4 0.1-4.4 0-4.4-0.1-4.6-0.3-4.6-0.4-4.6-0.5-4.7-0.6-4.8-0.7-4.7-0.8-4.8-0.9-4.9-1.1-4.8-1.1-4.8-1.1-4.9-1.3-4.8-1.3-4.8-1.4-4.8-1.4-4.8-1.5-4.8-1.5-4.7-1.5-4.7-1.5-4.7-1.6-4.6-1.5-4.5-1.6-4.5-1.5-4.4-1.5-4.4-1.5-4.2-1.5-4.2-1.4-4.1-1.4-4-1.4-3.9-1.4-3.8-1.3-3.7-1.4-3.5-1.2-3.5-1.3-3.3-1.3-3.2-1.2-3.1-1.3-3-1.2-2.8-1.2-2.6-1.2-2.5-1.2-2.4-1.2-2.2-1.2-2.1-1.1-1.9-1.2-1.8-1.2-1.6-1.2-1.4-1.1-1.3-1.2-1.1-1.1-0.9-1.2-0.8-1.2-0.6-1.1-0.4-1.2-0.2-1.1-0.1z" stroke="#f0221c"/>
<path d="M387.2 425.9l-1.2 0.1-1.1 0.2-1.2 0.4-1.1 0.6-1.2 0.8-1.2 0.9-1.1 1.1-1.2 1.3-1.2 1.4-1.2 1.6-1.2 1.8-1.2 1.9-1.2 2.1-1.2 2.2-1.2 2.4-1.2 2.5-1.2 2.6-1.2 2.8-1.3 3-1.2 3.1-1.3 3.2-1.3 3.3-1.3 3.5-1.3 3.5-1.4 3.7-1.3 3.8-1.4 3.9-1.5 4-1.4 4.1-1.5 4.2-1.5 4.2-1.5 4.4-1.6 4.4-1.5 4.5-1.6 4.5-1.6 4.6-1.5 4.7-1.5 4.7-1.6 4.7-1.4 4.8-1.5 4.8-1.4 4.8-1.3 4.8-1.2 4.8-1.2 4.9-1.1 4.8-1.1 4.8-0.9 4.9-0.8 4.8-0.7 4.7-0.7 4.8-0.5 4.7-0.3 4.6-0.3 4.6-0.2 4.6 0 4.4 0.1 4.4 0.2 4.4 0.4 4.3 0.4 4.1 0.6 4.1 0.8 4 0.8 3.9 1 3.8 1.1 3.7 1.2 3.6 1.3 3.4 1.5 3.4 1.6 3.2 1.8 3 1.8 3 2 2.8 2.1 2.6 2.2 2.6 2.4 2.3 2.5 2.3 2.6 2 2.7 1.9 2.8 1.8 2.9 1.6 3 1.4 3.1 1.3 3.1 1.1 3.2 0.9 3.3 0.8 3.4 0.6 3.3 0.4 3.4 0.3 3.4 0 3.4 0 3.4-0.3 3.3-0.4 3.4-0.6 3.3-0.8 3.2-0.9 3.1-1.1 3.1-1.3 3-1.4 2.9-1.6 2.8-1.8 2.7-1.9 2.6-2 2.5-2.3 2.4-2.3 2.2-2.6 2.1-2.6 2-2.8 1.8-3 1.8-3 1.6-3.2 1.5-3.4 1.3-3.4 1.2-3.6 1.1-3.7 1-3.8 0.8-3.9 0.8-4 0.6-4.1 0.4-4.1 0.4-4.3 0.2-4.4 0.1-4.4 0-4.4-0.2-4.6-0.3-4.6-0.3-4.6-0.5-4.7-0.7-4.8-0.7-4.7-0.8-4.8-0.9-4.9-1.1-4.8-1.1-4.8-1.2-4.9-1.2-4.8-1.3-4.8-1.4-4.8-1.5-4.8-1.4-4.8-1.6-4.7-1.5-4.7-1.5-4.7-1.6-4.6-1.6-4.5-1.5-4.5-1.6-4.4-1.5-4.4-1.5-4.2-1.5-4.2-1.4-4.1-1.5-4-1.4-3.9-1.3-3.8-1.4-3.7-1.3-3.5-1.3-3.5-1.3-3.3-1.3-3.2-1.2-3.1-1.3-3-1.2-2.8-1.2-2.6-1.2-2.5-1.2-2.4-1.2-2.2-1.2-2.1-1.2-1.9-1.2-1.8-1.2-1.6-1.2-1.4-1.2-1.3-1.1-1.1-1.2-0.9-1.2-0.8-1.1-0.6-1.2-0.4-1.1-0.2-1.2-0.1z" stroke="#f0221c" stroke-dasharray="4.2 5.0" stroke-dashoffset="0"/>
<path d="M629.4 425.5l-1 0.1-1 0.2-1 0.5-1 0.6-1 0.7-1.1 1-1 1.1-1.1 1.3-1 1.4-1.1 1.7-1.1 1.7-1.1 2-1.1 2.1-1.1 2.2-1.2 2.4-1.1 2.6-1.1 2.7-1.1 2.8-1.1 3-1.1 3.1-1.1 3.3-1.2 3.3-1.1 3.5-1.1 3.6-1.1 3.8-1.2 3.8-1.2 4-1.2 4-1.2 4.2-1.2 4.2-1.3 4.3-1.3 4.4-1.3 4.5-1.3 4.5-1.4 4.6-1.3 4.7-1.4 4.7-1.4 4.7-1.4 4.8-1.3 4.9-1.3 4.8-1.3 4.9-1.3 4.9-1.1 4.9-1.2 4.9-1 4.9-1 4.9-0.9 4.9-0.7 4.8-0.7 4.9-0.6 4.8-0.5 4.7-0.3 4.7-0.2 4.7-0.1 4.6 0 4.5 0.1 4.5 0.2 4.4 0.4 4.3 0.5 4.2 0.6 4.2 0.7 4 0.8 4 1 3.8 1 3.8 1.2 3.6 1.2 3.5 1.4 3.3 1.5 3.3 1.6 3.1 1.7 3 1.8 2.8 1.8 2.7 2 2.6 2.1 2.4 2.2 2.2 2.3 2.1 2.3 2 2.5 1.7 2.5 1.7 2.6 1.4 2.7 1.3 2.7 1.1 2.8 1 2.8 0.7 2.9 0.6 2.9 0.5 2.9 0.2 2.9 0.1 2.9-0.1 2.9-0.2 2.9-0.5 2.9-0.6 2.8-0.7 2.8-1 2.7-1.1 2.7-1.3 2.6-1.4 2.5-1.7 2.5-1.7 2.3-2 2.3-2.1 2.2-2.2 2.1-2.4 2-2.6 1.8-2.7 1.8-2.8 1.7-3 1.6-3.1 1.5-3.3 1.4-3.3 1.2-3.5 1.2-3.6 1-3.8 1-3.8 0.8-4 0.7-4 0.6-4.2 0.5-4.2 0.4-4.3 0.2-4.4 0.1-4.5 0-4.5-0.1-4.6-0.2-4.7-0.3-4.7-0.5-4.7-0.6-4.8-0.7-4.9-0.7-4.8-0.9-4.9-1-4.9-1-4.9-1.2-4.9-1.1-4.9-1.3-4.9-1.3-4.9-1.3-4.8-1.3-4.9-1.4-4.8-1.4-4.7-1.4-4.7-1.3-4.7-1.4-4.6-1.3-4.5-1.3-4.5-1.3-4.4-1.3-4.3-1.2-4.2-1.2-4.2-1.2-4-1.2-4-1.2-3.8-1.1-3.8-1.1-3.6-1.1-3.5-1.2-3.3-1.1-3.3-1.1-3.1-1.1-3-1.1-2.8-1.1-2.7-1.1-2.6-1.2-2.4-1.1-2.2-1.1-2.1-1.1-2-1.1-1.7-1.1-1.7-1-1.4-1.1-1.3-1-1.1-1.1-1-1-0.7-1-0.6-1-0.5-1-0.2-1-0.1z" stroke="#267745"/>
<path d="M629.4 425.5l-1.1 0.1-1 0.2-1.1 0.5-1.1 0.6-1.1 0.7-1.2 0.9-1.2 1.1-1.2 1.3-1.2 1.4-1.2 1.6-1.3 1.8-1.3 1.9-1.2 2.1-1.3 2.2-1.3 2.3-1.3 2.6-1.3 2.6-1.3 2.8-1.3 3-1.3 3-1.3 3.2-1.3 3.3-1.3 3.5-1.3 3.6-1.3 3.6-1.3 3.8-1.4 3.9-1.4 4-1.4 4.1-1.5 4.2-1.5 4.2-1.5 4.3-1.6 4.5-1.7 4.4-1.6 4.6-1.7 4.6-1.7 4.6-1.8 4.7-1.7 4.7-1.7 4.8-1.6 4.8-1.7 4.8-1.5 4.8-1.5 4.8-1.4 4.8-1.4 4.9-1.2 4.8-1.1 4.8-1 4.8-0.9 4.7-0.7 4.8-0.6 4.7-0.5 4.6-0.3 4.6-0.2 4.5-0.1 4.5 0.1 4.4 0.2 4.3 0.4 4.3 0.5 4.2 0.6 4 0.7 4 0.9 3.9 1 3.8 1.1 3.7 1.3 3.6 1.4 3.4 1.5 3.3 1.6 3.2 1.8 3.1 1.9 2.9 2 2.8 2.2 2.7 2.3 2.5 2.5 2.4 2.6 2.2 2.7 2.1 2.8 1.9 3 1.7 3.1 1.6 3.2 1.4 3.4 1.3 3.4 1.1 3.5 0.9 3.6 0.8 3.6 0.6 3.7 0.4 3.7 0.3 3.7 0.1 3.7-0.1 3.7-0.3 3.7-0.4 3.6-0.6 3.6-0.8 3.5-0.9 3.4-1.1 3.4-1.3 3.2-1.4 3.1-1.6 3-1.7 2.8-1.9 2.7-2.1 2.6-2.2 2.5-2.4 2.3-2.5 2.2-2.7 2-2.8 1.9-2.9 1.8-3.1 1.6-3.2 1.5-3.3 1.4-3.4 1.3-3.6 1.1-3.7 1-3.8 0.9-3.9 0.7-4 0.6-4 0.5-4.2 0.4-4.3 0.2-4.3 0.1-4.4-0.1-4.5-0.2-4.5-0.3-4.6-0.5-4.6-0.6-4.7-0.7-4.8-0.9-4.7-1-4.8-1.1-4.8-1.2-4.8-1.4-4.9-1.4-4.8-1.5-4.8-1.5-4.8-1.7-4.8-1.6-4.8-1.7-4.8-1.7-4.7-1.8-4.7-1.7-4.6-1.7-4.6-1.6-4.6-1.7-4.4-1.6-4.5-1.5-4.3-1.5-4.2-1.5-4.2-1.4-4.1-1.4-4-1.4-3.9-1.3-3.8-1.3-3.6-1.3-3.6-1.3-3.5-1.3-3.3-1.3-3.2-1.3-3-1.3-3-1.3-2.8-1.3-2.6-1.3-2.6-1.3-2.3-1.3-2.2-1.2-2.1-1.3-1.9-1.3-1.8-1.2-1.6-1.2-1.4-1.2-1.3-1.2-1.1-1.2-0.9-1.1-0.7-1.1-0.6-1.1-0.5-1-0.2-1.1-0.1z" stroke="#267745" stroke-dasharray="4.2 5.0" stroke-dashoffset="0"/>
</g>
<path d="M24.0 80.65h7.5M24.0 143.90h7.5M24.0 207.15h7.5M24.0 270.40h7.5M24.0 333.65h7.5M387.5 80.65h7.5M387.5 143.90h7.5M387.5 207.15h7.5M387.5 270.40h7.5M387.5 333.65h7.5M79.10 366.4v-7.5M142.35 366.4v-7.5M205.60 366.4v-7.5M268.85 366.4v-7.5M332.10 366.4v-7.5M442.50 366.4v-7.5M505.75 366.4v-7.5M569.00 366.4v-7.5M632.25 366.4v-7.5M695.50 366.4v-7.5M24.0 443.20h5.3M24.0 506.45h5.3M24.0 569.70h5.3M24.0 632.95h5.3M24.0 696.20h5.3M266.5 443.20h5.3M266.5 506.45h5.3M266.5 569.70h5.3M266.5 632.95h5.3M266.5 696.20h5.3M508.5 443.20h5.3M508.5 506.45h5.3M508.5 569.70h5.3M508.5 632.95h5.3M508.5 696.20h5.3M81.85 729.0v-5.3M145.10 729.0v-5.3M208.35 729.0v-5.3M323.95 729.0v-5.3M387.20 729.0v-5.3M450.45 729.0v-5.3M566.15 729.0v-5.3M629.40 729.0v-5.3M692.65 729.0v-5.3" stroke="#1c1c1c" stroke-width="1" fill="none"/>
<path d="M23.2 3.9H751.2M23.2 729.0H751.2M24.0 3.1V729.8M750.5 3.1V729.8" stroke="#1c1c1c" stroke-width="1.55" fill="none"/>
<path d="M24 366.4H750.5M387.5 3.9V366.4M266.5 366.4V729M508.5 366.4V729" stroke="#1c1c1c" stroke-width="1.3" fill="none"/>
<g font-family="Liberation Sans, sans-serif" fill="#000">
<text x="205.6" y="35.0" font-size="20" text-anchor="middle">High altitude</text>
<text x="569.0" y="36.9" font-size="20" text-anchor="middle">Low altitude</text>
<text x="145.1" y="399.5" font-size="20" text-anchor="middle">AA</text>
<text x="387.2" y="399.5" font-size="20" text-anchor="middle">AG</text>
<text x="629.4" y="399.5" font-size="20" text-anchor="middle">GG</text>
<text x="29.6" y="19.8" font-size="17.3" font-weight="bold">A</text>
<text x="392.0" y="19.8" font-size="17.3" font-weight="bold">B</text>
<text x="29.6" y="387.6" font-size="17.3" font-weight="bold">C</text>
<text x="273.6" y="387.6" font-size="17.3" font-weight="bold">D</text>
<text x="515.6" y="387.6" font-size="17.3" font-weight="bold">E</text>
<text x="14.8" y="80.65" font-size="15.6" text-anchor="middle" transform="rotate(-90 14.8 80.65)">1.0</text>
<text x="14.8" y="443.2" font-size="15.6" text-anchor="middle" transform="rotate(-90 14.8 443.2)">1.0</text>
<text x="14.8" y="143.9" font-size="15.6" text-anchor="middle" transform="rotate(-90 14.8 143.9)">0.5</text>
<text x="14.8" y="506.45" font-size="15.6" text-anchor="middle" transform="rotate(-90 14.8 506.45)">0.5</text>
<text x="14.8" y="207.15" font-size="15.6" text-anchor="middle" transform="rotate(-90 14.8 207.15)">0.0</text>
<text x="14.8" y="569.7" font-size="15.6" text-anchor="middle" transform="rotate(-90 14.8 569.7)">0.0</text>
<text x="14.8" y="270.4" font-size="15.6" text-anchor="middle" transform="rotate(-90 14.8 270.4)">−0.5</text>
<text x="14.8" y="632.95" font-size="15.6" text-anchor="middle" transform="rotate(-90 14.8 632.95)">−0.5</text>
<text x="14.8" y="333.65" font-size="15.6" text-anchor="middle" transform="rotate(-90 14.8 333.65)">−1.0</text>
<text x="14.8" y="696.2" font-size="15.6" text-anchor="middle" transform="rotate(-90 14.8 696.2)">−1.0</text>
<text x="81.85" y="747.9" font-size="15.6" text-anchor="middle">−0.5</text>
<text x="145.1" y="747.9" font-size="15.6" text-anchor="middle">0.0</text>
<text x="208.35" y="747.9" font-size="15.6" text-anchor="middle">0.5</text>
<text x="323.95" y="747.9" font-size="15.6" text-anchor="middle">−0.5</text>
<text x="387.2" y="747.9" font-size="15.6" text-anchor="middle">0.0</text>
<text x="450.45" y="747.9" font-size="15.6" text-anchor="middle">0.5</text>
<text x="566.15" y="747.9" font-size="15.6" text-anchor="middle">−0.5</text>
<text x="629.4" y="747.9" font-size="15.6" text-anchor="middle">0.0</text>
<text x="692.65" y="747.9" font-size="15.6" text-anchor="middle">0.5</text>
</g>
</svg>
</body></html>
